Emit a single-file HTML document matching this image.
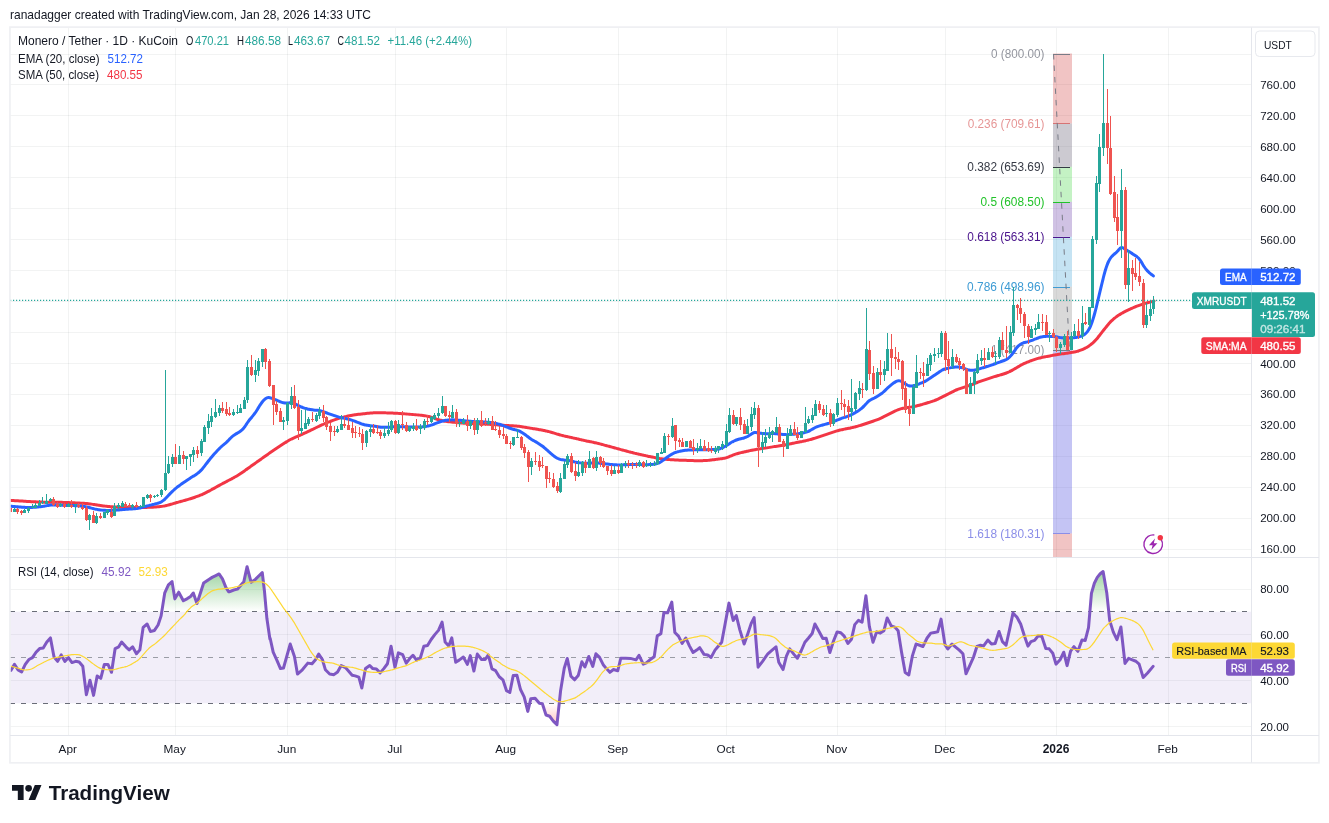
<!DOCTYPE html>
<html><head><meta charset="utf-8"><title>XMRUSDT chart</title>
<style>html,body{margin:0;padding:0;background:#fff;overflow:hidden}body{width:1329px;height:823px;position:relative;font-family:"Liberation Sans", sans-serif}</style></head>
<body>
<svg width="1329" height="823" viewBox="0 0 1329 823" style="position:absolute;left:0;top:0;will-change:transform;font-family:'Liberation Sans',sans-serif" font-family='Liberation Sans, sans-serif'>
<defs>
<clipPath id="cm"><rect x="10" y="27.5" width="1241.5" height="529.5"/></clipPath>
<clipPath id="cr"><rect x="10" y="558" width="1241.5" height="177.5"/></clipPath>
<clipPath id="cob"><rect x="10" y="558" width="1241.5" height="53.4"/></clipPath>
<clipPath id="cos"><rect x="10" y="703.6" width="1241.5" height="32"/></clipPath>
<linearGradient id="gg" gradientUnits="userSpaceOnUse" x1="0" y1="565" x2="0" y2="611.4"><stop offset="0" stop-color="#4caf50" stop-opacity="0.62"/><stop offset="1" stop-color="#4caf50" stop-opacity="0"/></linearGradient>
<linearGradient id="gr" gradientUnits="userSpaceOnUse" x1="0" y1="703.6" x2="0" y2="730"><stop offset="0" stop-color="#ff5252" stop-opacity="0"/><stop offset="1" stop-color="#ff5252" stop-opacity="0.45"/></linearGradient>
</defs>
<rect width="1329" height="823" fill="#fff"/>
<rect x="68" y="27.5" width="1" height="708" fill="#2a2e39" opacity="0.06"/>
<rect x="175" y="27.5" width="1" height="708" fill="#2a2e39" opacity="0.06"/>
<rect x="287" y="27.5" width="1" height="708" fill="#2a2e39" opacity="0.06"/>
<rect x="395" y="27.5" width="1" height="708" fill="#2a2e39" opacity="0.06"/>
<rect x="506" y="27.5" width="1" height="708" fill="#2a2e39" opacity="0.06"/>
<rect x="618" y="27.5" width="1" height="708" fill="#2a2e39" opacity="0.06"/>
<rect x="726" y="27.5" width="1" height="708" fill="#2a2e39" opacity="0.06"/>
<rect x="837" y="27.5" width="1" height="708" fill="#2a2e39" opacity="0.06"/>
<rect x="945" y="27.5" width="1" height="708" fill="#2a2e39" opacity="0.06"/>
<rect x="1056" y="27.5" width="1" height="708" fill="#2a2e39" opacity="0.06"/>
<rect x="1168" y="27.5" width="1" height="708" fill="#2a2e39" opacity="0.06"/>
<rect x="10" y="549" width="1241.5" height="1" fill="#2a2e39" opacity="0.06"/>
<rect x="10" y="518" width="1241.5" height="1" fill="#2a2e39" opacity="0.06"/>
<rect x="10" y="487" width="1241.5" height="1" fill="#2a2e39" opacity="0.06"/>
<rect x="10" y="456" width="1241.5" height="1" fill="#2a2e39" opacity="0.06"/>
<rect x="10" y="425" width="1241.5" height="1" fill="#2a2e39" opacity="0.06"/>
<rect x="10" y="394" width="1241.5" height="1" fill="#2a2e39" opacity="0.06"/>
<rect x="10" y="363" width="1241.5" height="1" fill="#2a2e39" opacity="0.06"/>
<rect x="10" y="332" width="1241.5" height="1" fill="#2a2e39" opacity="0.06"/>
<rect x="10" y="301" width="1241.5" height="1" fill="#2a2e39" opacity="0.06"/>
<rect x="10" y="270" width="1241.5" height="1" fill="#2a2e39" opacity="0.06"/>
<rect x="10" y="239" width="1241.5" height="1" fill="#2a2e39" opacity="0.06"/>
<rect x="10" y="208" width="1241.5" height="1" fill="#2a2e39" opacity="0.06"/>
<rect x="10" y="177" width="1241.5" height="1" fill="#2a2e39" opacity="0.06"/>
<rect x="10" y="146" width="1241.5" height="1" fill="#2a2e39" opacity="0.06"/>
<rect x="10" y="115" width="1241.5" height="1" fill="#2a2e39" opacity="0.06"/>
<rect x="10" y="84" width="1241.5" height="1" fill="#2a2e39" opacity="0.06"/>
<rect x="10" y="54" width="1241.5" height="1" fill="#2a2e39" opacity="0.06"/>
<rect x="10" y="726" width="1241.5" height="1" fill="#2a2e39" opacity="0.06"/>
<rect x="10" y="680" width="1241.5" height="1" fill="#2a2e39" opacity="0.06"/>
<rect x="10" y="634" width="1241.5" height="1" fill="#2a2e39" opacity="0.06"/>
<rect x="10" y="589" width="1241.5" height="1" fill="#2a2e39" opacity="0.06"/>
<g clip-path="url(#cm)">
<rect x="1053" y="53.51" width="19" height="70.01" fill="rgba(205,44,44,0.28)"/>
<rect x="1053" y="123.52" width="19" height="43.31" fill="rgba(120,115,135,0.38)"/>
<rect x="1053" y="166.83" width="19" height="35" fill="rgba(76,217,76,0.33)"/>
<rect x="1053" y="201.83" width="19" height="35" fill="rgba(126,87,180,0.36)"/>
<rect x="1053" y="236.83" width="19" height="49.84" fill="rgba(80,170,220,0.33)"/>
<rect x="1053" y="286.67" width="19" height="63.48" fill="rgba(150,150,150,0.36)"/>
<rect x="1053" y="350.14" width="19" height="183.32" fill="rgba(100,100,225,0.38)"/>
<rect x="1053" y="533.46" width="19" height="24.04" fill="rgba(205,44,44,0.28)"/>
</g>
<g clip-path="url(#cm)">
<rect x="1053" y="54" width="17" height="1" fill="#787b86" opacity="1"/>
<rect x="1053" y="123" width="17" height="1" fill="#cd2c2c" opacity="0.55"/>
<rect x="1053" y="167" width="17" height="1" fill="#363a45" opacity="1"/>
<rect x="1053" y="202" width="17" height="1" fill="#22c32a" opacity="1"/>
<rect x="1053" y="237" width="17" height="1" fill="#4a148c" opacity="1"/>
<rect x="1053" y="287" width="17" height="1" fill="#3d9bd4" opacity="1"/>
<rect x="1053" y="350" width="17" height="1" fill="#787b86" opacity="1"/>
<rect x="1053" y="533" width="17" height="1" fill="#8b8ee8" opacity="1"/>
<line x1="1053.5" y1="54" x2="1069.5" y2="350" stroke="#787b86" stroke-width="1" stroke-dasharray="5.5 6"/>
<text x="991.1" y="57.81" font-size="12" fill="#787b86" opacity="0.8" textLength="53.4" lengthAdjust="spacingAndGlyphs">0 (800.00)</text>
<text x="967.7" y="127.82" font-size="12" fill="#cd2c2c" opacity="0.5" textLength="76.8" lengthAdjust="spacingAndGlyphs">0.236 (709.61)</text>
<text x="967.3" y="171.13" font-size="12" fill="#363a45" opacity="1" textLength="77.2" lengthAdjust="spacingAndGlyphs">0.382 (653.69)</text>
<text x="980.5" y="206.13" font-size="12" fill="#22c32a" opacity="1" textLength="64" lengthAdjust="spacingAndGlyphs">0.5 (608.50)</text>
<text x="967.3" y="241.13" font-size="12" fill="#4a148c" opacity="1" textLength="77.2" lengthAdjust="spacingAndGlyphs">0.618 (563.31)</text>
<text x="967.1" y="290.97" font-size="12" fill="#3d9bd4" opacity="1" textLength="77.4" lengthAdjust="spacingAndGlyphs">0.786 (498.96)</text>
<text x="991.1" y="354.44" font-size="12" fill="#787b86" opacity="0.8" textLength="53.4" lengthAdjust="spacingAndGlyphs">1 (417.00)</text>
<text x="967.3" y="537.76" font-size="12" fill="#8b8ee8" opacity="1" textLength="77.2" lengthAdjust="spacingAndGlyphs">1.618 (180.31)</text>
<path d="M10.43,500.37C10.68,500.38 11.43,500.43 11.93,500.46C12.43,500.49 12.93,500.52 13.43,500.55C13.93,500.59 14.43,500.62 14.93,500.65C15.43,500.68 15.93,500.71 16.43,500.74C16.93,500.77 17.43,500.8 17.93,500.83C18.43,500.87 18.93,500.9 19.43,500.93C19.93,500.96 20.43,500.99 20.93,501.02C21.43,501.05 21.93,501.08 22.43,501.11C22.93,501.14 23.43,501.17 23.93,501.2C24.43,501.23 24.93,501.26 25.43,501.29C25.93,501.32 26.43,501.35 26.93,501.38C27.43,501.41 27.93,501.44 28.43,501.47C28.93,501.5 29.43,501.53 29.93,501.56C30.43,501.58 30.93,501.61 31.43,501.64C31.93,501.66 32.43,501.69 32.93,501.71C33.43,501.74 33.93,501.76 34.43,501.78C34.93,501.8 35.43,501.83 35.93,501.85C36.43,501.87 36.93,501.89 37.43,501.91C37.93,501.93 38.43,501.95 38.93,501.97C39.43,501.99 39.93,502.01 40.43,502.03C40.93,502.04 41.43,502.06 41.93,502.08C42.43,502.1 42.93,502.11 43.43,502.13C43.93,502.14 44.43,502.15 44.93,502.16C45.43,502.17 45.93,502.17 46.43,502.18C46.93,502.18 47.43,502.18 47.93,502.18C48.43,502.19 48.93,502.19 49.43,502.19C49.93,502.19 50.43,502.19 50.93,502.19C51.43,502.19 51.93,502.19 52.43,502.19C52.93,502.19 53.43,502.19 53.93,502.19C54.43,502.2 54.93,502.2 55.43,502.2C55.93,502.21 56.43,502.22 56.93,502.22C57.43,502.23 57.93,502.24 58.43,502.25C58.93,502.27 59.43,502.28 59.93,502.29C60.43,502.31 60.93,502.32 61.43,502.33C61.93,502.35 62.43,502.36 62.93,502.38C63.43,502.39 63.93,502.41 64.43,502.42C64.93,502.44 65.43,502.46 65.93,502.47C66.43,502.49 66.93,502.51 67.43,502.52C67.93,502.54 68.43,502.56 68.93,502.58C69.43,502.6 69.93,502.62 70.43,502.65C70.93,502.67 71.43,502.69 71.93,502.72C72.43,502.74 72.93,502.76 73.43,502.79C73.93,502.81 74.43,502.84 74.93,502.86C75.43,502.89 75.93,502.91 76.43,502.94C76.93,502.96 77.43,502.99 77.93,503.01C78.43,503.04 78.93,503.06 79.43,503.08C79.93,503.11 80.43,503.13 80.93,503.15C81.43,503.18 81.93,503.2 82.43,503.22C82.93,503.25 83.43,503.27 83.93,503.3C84.43,503.32 84.93,503.35 85.43,503.39C85.93,503.43 86.43,503.47 86.93,503.52C87.43,503.57 87.93,503.63 88.43,503.69C88.93,503.75 89.43,503.82 89.93,503.9C90.43,503.97 90.93,504.05 91.43,504.12C91.93,504.2 92.43,504.28 92.93,504.36C93.43,504.44 93.93,504.52 94.43,504.6C94.93,504.68 95.43,504.76 95.93,504.84C96.43,504.92 96.93,505 97.43,505.07C97.93,505.15 98.43,505.23 98.93,505.3C99.43,505.38 99.93,505.45 100.43,505.52C100.93,505.6 101.43,505.67 101.93,505.74C102.43,505.8 102.93,505.87 103.43,505.94C103.93,506 104.43,506.07 104.93,506.13C105.43,506.19 105.93,506.25 106.43,506.3C106.93,506.36 107.43,506.41 107.93,506.46C108.43,506.51 108.93,506.56 109.43,506.61C109.93,506.65 110.43,506.7 110.93,506.74C111.43,506.78 111.93,506.82 112.43,506.85C112.93,506.89 113.43,506.92 113.93,506.95C114.43,506.99 114.93,507.01 115.43,507.04C115.93,507.07 116.43,507.09 116.93,507.11C117.43,507.13 117.93,507.15 118.43,507.17C118.93,507.18 119.43,507.2 119.93,507.21C120.43,507.22 120.93,507.23 121.43,507.24C121.93,507.26 122.43,507.26 122.93,507.27C123.43,507.28 123.93,507.29 124.43,507.3C124.93,507.31 125.43,507.32 125.93,507.33C126.43,507.34 126.93,507.35 127.43,507.36C127.93,507.37 128.43,507.38 128.93,507.38C129.43,507.39 129.93,507.4 130.43,507.41C130.93,507.41 131.43,507.42 131.93,507.43C132.43,507.43 132.93,507.44 133.43,507.44C133.93,507.45 134.43,507.45 134.93,507.46C135.43,507.46 135.93,507.47 136.43,507.47C136.93,507.48 137.43,507.48 137.93,507.49C138.43,507.49 138.93,507.5 139.43,507.5C139.93,507.5 140.43,507.5 140.93,507.5C141.43,507.5 141.93,507.5 142.43,507.49C142.93,507.49 143.43,507.48 143.93,507.47C144.43,507.46 144.93,507.45 145.43,507.43C145.93,507.42 146.43,507.41 146.93,507.39C147.43,507.38 147.93,507.36 148.43,507.35C148.93,507.33 149.43,507.32 149.93,507.3C150.43,507.29 150.93,507.27 151.43,507.25C151.93,507.23 152.43,507.21 152.93,507.19C153.43,507.16 153.93,507.13 154.43,507.1C154.93,507.07 155.43,507.03 155.93,506.99C156.43,506.95 156.93,506.91 157.43,506.86C157.93,506.81 158.43,506.77 158.93,506.71C159.43,506.66 159.93,506.61 160.43,506.55C160.93,506.5 161.43,506.44 161.93,506.37C162.43,506.3 162.93,506.23 163.43,506.14C163.93,506.05 164.43,505.96 164.93,505.85C165.43,505.74 165.93,505.62 166.43,505.5C166.93,505.38 167.43,505.24 167.93,505.1C168.43,504.97 168.93,504.83 169.43,504.69C169.93,504.55 170.43,504.4 170.93,504.26C171.43,504.12 171.93,503.98 172.43,503.83C172.93,503.69 173.43,503.55 173.93,503.4C174.43,503.26 174.93,503.12 175.43,502.98C175.93,502.83 176.43,502.69 176.93,502.55C177.43,502.41 177.93,502.26 178.43,502.12C178.93,501.98 179.43,501.84 179.93,501.7C180.43,501.55 180.93,501.41 181.43,501.27C181.93,501.13 182.43,500.99 182.93,500.86C183.43,500.72 183.93,500.58 184.43,500.44C184.93,500.3 185.43,500.16 185.93,500.03C186.43,499.89 186.93,499.75 187.43,499.61C187.93,499.47 188.43,499.32 188.93,499.18C189.43,499.03 189.93,498.88 190.43,498.73C190.93,498.58 191.43,498.42 191.93,498.26C192.43,498.09 192.93,497.93 193.43,497.76C193.93,497.59 194.43,497.42 194.93,497.24C195.43,497.07 195.93,496.89 196.43,496.71C196.93,496.54 197.43,496.36 197.93,496.17C198.43,495.98 198.93,495.79 199.43,495.59C199.93,495.39 200.43,495.19 200.93,494.97C201.43,494.76 201.93,494.53 202.43,494.3C202.93,494.07 203.43,493.82 203.93,493.58C204.43,493.34 204.93,493.09 205.43,492.84C205.93,492.59 206.43,492.34 206.93,492.09C207.43,491.84 207.93,491.58 208.43,491.33C208.93,491.07 209.43,490.81 209.93,490.55C210.43,490.28 210.93,490.02 211.43,489.74C211.93,489.47 212.43,489.2 212.93,488.92C213.43,488.65 213.93,488.37 214.43,488.09C214.93,487.81 215.43,487.53 215.93,487.25C216.43,486.97 216.93,486.69 217.43,486.41C217.93,486.13 218.43,485.85 218.93,485.58C219.43,485.31 219.93,485.03 220.43,484.76C220.93,484.49 221.43,484.22 221.93,483.96C222.43,483.69 222.93,483.42 223.43,483.16C223.93,482.89 224.43,482.63 224.93,482.37C225.43,482.11 225.93,481.84 226.43,481.58C226.93,481.32 227.43,481.05 227.93,480.79C228.43,480.53 228.93,480.27 229.43,480C229.93,479.74 230.43,479.47 230.93,479.21C231.43,478.95 231.93,478.68 232.43,478.42C232.93,478.15 233.43,477.88 233.93,477.61C234.43,477.34 234.93,477.07 235.43,476.79C235.93,476.51 236.43,476.23 236.93,475.94C237.43,475.64 237.93,475.33 238.43,475.02C238.93,474.7 239.43,474.37 239.93,474.04C240.43,473.71 240.93,473.36 241.43,473.01C241.93,472.67 242.43,472.31 242.93,471.96C243.43,471.61 243.93,471.25 244.43,470.9C244.93,470.54 245.43,470.19 245.93,469.83C246.43,469.48 246.93,469.12 247.43,468.76C247.93,468.41 248.43,468.05 248.93,467.7C249.43,467.34 249.93,466.99 250.43,466.63C250.93,466.27 251.43,465.92 251.93,465.56C252.43,465.21 252.93,464.85 253.43,464.5C253.93,464.14 254.43,463.79 254.93,463.43C255.43,463.07 255.93,462.72 256.43,462.36C256.93,462.01 257.43,461.65 257.93,461.3C258.43,460.94 258.93,460.58 259.43,460.23C259.93,459.87 260.43,459.52 260.93,459.16C261.43,458.81 261.93,458.45 262.43,458.1C262.93,457.74 263.43,457.39 263.93,457.03C264.43,456.68 264.93,456.32 265.43,455.97C265.93,455.62 266.43,455.27 266.93,454.92C267.43,454.57 267.93,454.23 268.43,453.88C268.93,453.54 269.43,453.2 269.93,452.86C270.43,452.52 270.93,452.19 271.43,451.85C271.93,451.52 272.43,451.18 272.93,450.85C273.43,450.51 273.93,450.18 274.43,449.85C274.93,449.51 275.43,449.18 275.93,448.85C276.43,448.51 276.93,448.18 277.43,447.85C277.93,447.51 278.43,447.18 278.93,446.85C279.43,446.51 279.93,446.18 280.43,445.85C280.93,445.51 281.43,445.18 281.93,444.85C282.43,444.51 282.93,444.18 283.43,443.85C283.93,443.52 284.43,443.18 284.93,442.85C285.43,442.52 285.93,442.19 286.43,441.87C286.93,441.55 287.43,441.23 287.93,440.93C288.43,440.62 288.93,440.33 289.43,440.05C289.93,439.77 290.43,439.51 290.93,439.25C291.43,439 291.93,438.77 292.43,438.54C292.93,438.31 293.43,438.09 293.93,437.87C294.43,437.66 294.93,437.44 295.43,437.23C295.93,437.01 296.43,436.8 296.93,436.58C297.43,436.37 297.93,436.15 298.43,435.93C298.93,435.71 299.43,435.49 299.93,435.27C300.43,435.04 300.93,434.82 301.43,434.59C301.93,434.37 302.43,434.14 302.93,433.91C303.43,433.69 303.93,433.46 304.43,433.23C304.93,433 305.43,432.77 305.93,432.54C306.43,432.31 306.93,432.08 307.43,431.84C307.93,431.61 308.43,431.38 308.93,431.14C309.43,430.9 309.93,430.67 310.43,430.43C310.93,430.19 311.43,429.95 311.93,429.71C312.43,429.47 312.93,429.22 313.43,428.98C313.93,428.73 314.43,428.49 314.93,428.24C315.43,427.99 315.93,427.74 316.43,427.5C316.93,427.25 317.43,427.01 317.93,426.77C318.43,426.53 318.93,426.29 319.43,426.05C319.93,425.82 320.43,425.58 320.93,425.35C321.43,425.12 321.93,424.89 322.43,424.67C322.93,424.44 323.43,424.22 323.93,424C324.43,423.78 324.93,423.57 325.43,423.35C325.93,423.14 326.43,422.93 326.93,422.73C327.43,422.52 327.93,422.32 328.43,422.12C328.93,421.92 329.43,421.73 329.93,421.54C330.43,421.34 330.93,421.15 331.43,420.97C331.93,420.78 332.43,420.59 332.93,420.41C333.43,420.23 333.93,420.05 334.43,419.88C334.93,419.7 335.43,419.53 335.93,419.36C336.43,419.19 336.93,419.02 337.43,418.86C337.93,418.69 338.43,418.53 338.93,418.37C339.43,418.21 339.93,418.06 340.43,417.91C340.93,417.76 341.43,417.62 341.93,417.48C342.43,417.34 342.93,417.21 343.43,417.08C343.93,416.95 344.43,416.82 344.93,416.7C345.43,416.57 345.93,416.45 346.43,416.34C346.93,416.22 347.43,416.11 347.93,416C348.43,415.9 348.93,415.8 349.43,415.7C349.93,415.61 350.43,415.52 350.93,415.43C351.43,415.34 351.93,415.25 352.43,415.17C352.93,415.09 353.43,415.01 353.93,414.93C354.43,414.86 354.93,414.78 355.43,414.71C355.93,414.64 356.43,414.57 356.93,414.51C357.43,414.44 357.93,414.38 358.43,414.32C358.93,414.26 359.43,414.2 359.93,414.14C360.43,414.08 360.93,414.02 361.43,413.97C361.93,413.91 362.43,413.86 362.93,413.8C363.43,413.75 363.93,413.7 364.43,413.65C364.93,413.59 365.43,413.54 365.93,413.49C366.43,413.44 366.93,413.39 367.43,413.35C367.93,413.3 368.43,413.25 368.93,413.21C369.43,413.16 369.93,413.12 370.43,413.08C370.93,413.04 371.43,413 371.93,412.96C372.43,412.93 372.93,412.89 373.43,412.86C373.93,412.83 374.43,412.8 374.93,412.78C375.43,412.75 375.93,412.73 376.43,412.71C376.93,412.7 377.43,412.69 377.93,412.69C378.43,412.68 378.93,412.68 379.43,412.69C379.93,412.69 380.43,412.71 380.93,412.72C381.43,412.73 381.93,412.74 382.43,412.76C382.93,412.77 383.43,412.79 383.93,412.8C384.43,412.82 384.93,412.84 385.43,412.85C385.93,412.87 386.43,412.88 386.93,412.9C387.43,412.92 387.93,412.93 388.43,412.95C388.93,412.96 389.43,412.98 389.93,413C390.43,413.02 390.93,413.03 391.43,413.05C391.93,413.07 392.43,413.09 392.93,413.11C393.43,413.13 393.93,413.16 394.43,413.18C394.93,413.2 395.43,413.23 395.93,413.25C396.43,413.28 396.93,413.3 397.43,413.33C397.93,413.36 398.43,413.39 398.93,413.42C399.43,413.45 399.93,413.48 400.43,413.52C400.93,413.55 401.43,413.59 401.93,413.63C402.43,413.66 402.93,413.7 403.43,413.74C403.93,413.78 404.43,413.83 404.93,413.87C405.43,413.91 405.93,413.95 406.43,413.99C406.93,414.03 407.43,414.07 407.93,414.12C408.43,414.16 408.93,414.2 409.43,414.24C409.93,414.28 410.43,414.32 410.93,414.37C411.43,414.41 411.93,414.45 412.43,414.49C412.93,414.53 413.43,414.57 413.93,414.62C414.43,414.66 414.93,414.7 415.43,414.74C415.93,414.78 416.43,414.82 416.93,414.87C417.43,414.91 417.93,414.95 418.43,415C418.93,415.04 419.43,415.08 419.93,415.13C420.43,415.18 420.93,415.23 421.43,415.28C421.93,415.33 422.43,415.39 422.93,415.45C423.43,415.51 423.93,415.57 424.43,415.65C424.93,415.72 425.43,415.8 425.93,415.88C426.43,415.97 426.93,416.07 427.43,416.18C427.93,416.28 428.43,416.4 428.93,416.53C429.43,416.65 429.93,416.79 430.43,416.94C430.93,417.09 431.43,417.26 431.93,417.43C432.43,417.6 432.93,417.78 433.43,417.96C433.93,418.15 434.43,418.34 434.93,418.52C435.43,418.7 435.93,418.88 436.43,419.05C436.93,419.22 437.43,419.38 437.93,419.53C438.43,419.68 438.93,419.82 439.43,419.96C439.93,420.09 440.43,420.21 440.93,420.33C441.43,420.44 441.93,420.55 442.43,420.65C442.93,420.75 443.43,420.84 443.93,420.93C444.43,421.02 444.93,421.11 445.43,421.19C445.93,421.27 446.43,421.35 446.93,421.43C447.43,421.51 447.93,421.58 448.43,421.65C448.93,421.72 449.43,421.79 449.93,421.86C450.43,421.92 450.93,421.98 451.43,422.04C451.93,422.1 452.43,422.16 452.93,422.22C453.43,422.28 453.93,422.33 454.43,422.38C454.93,422.44 455.43,422.49 455.93,422.54C456.43,422.59 456.93,422.64 457.43,422.68C457.93,422.73 458.43,422.77 458.93,422.81C459.43,422.85 459.93,422.9 460.43,422.93C460.93,422.97 461.43,423.01 461.93,423.04C462.43,423.07 462.93,423.11 463.43,423.13C463.93,423.16 464.43,423.19 464.93,423.21C465.43,423.23 465.93,423.25 466.43,423.27C466.93,423.29 467.43,423.31 467.93,423.33C468.43,423.35 468.93,423.36 469.43,423.38C469.93,423.4 470.43,423.42 470.93,423.45C471.43,423.47 471.93,423.49 472.43,423.51C472.93,423.54 473.43,423.56 473.93,423.58C474.43,423.61 474.93,423.63 475.43,423.66C475.93,423.68 476.43,423.7 476.93,423.72C477.43,423.74 477.93,423.76 478.43,423.78C478.93,423.8 479.43,423.82 479.93,423.84C480.43,423.86 480.93,423.88 481.43,423.9C481.93,423.92 482.43,423.94 482.93,423.96C483.43,423.98 483.93,424 484.43,424.02C484.93,424.05 485.43,424.08 485.93,424.1C486.43,424.13 486.93,424.16 487.43,424.2C487.93,424.23 488.43,424.26 488.93,424.3C489.43,424.33 489.93,424.37 490.43,424.4C490.93,424.43 491.43,424.47 491.93,424.5C492.43,424.54 492.93,424.57 493.43,424.61C493.93,424.64 494.43,424.68 494.93,424.72C495.43,424.75 495.93,424.79 496.43,424.82C496.93,424.86 497.43,424.89 497.93,424.93C498.43,424.96 498.93,425 499.43,425.03C499.93,425.07 500.43,425.1 500.93,425.14C501.43,425.17 501.93,425.21 502.43,425.24C502.93,425.27 503.43,425.31 503.93,425.34C504.43,425.37 504.93,425.41 505.43,425.44C505.93,425.47 506.43,425.5 506.93,425.53C507.43,425.56 507.93,425.59 508.43,425.61C508.93,425.64 509.43,425.67 509.93,425.69C510.43,425.72 510.93,425.74 511.43,425.77C511.93,425.79 512.43,425.82 512.93,425.84C513.43,425.87 513.93,425.9 514.43,425.93C514.93,425.95 515.43,425.98 515.93,426.02C516.43,426.06 516.93,426.09 517.43,426.14C517.93,426.19 518.43,426.24 518.93,426.3C519.43,426.36 519.93,426.43 520.43,426.5C520.93,426.57 521.43,426.65 521.93,426.73C522.43,426.81 522.93,426.89 523.43,426.98C523.93,427.06 524.43,427.15 524.93,427.23C525.43,427.32 525.93,427.4 526.43,427.48C526.93,427.57 527.43,427.65 527.93,427.74C528.43,427.82 528.93,427.91 529.43,427.99C529.93,428.07 530.43,428.16 530.93,428.24C531.43,428.32 531.93,428.4 532.43,428.48C532.93,428.56 533.43,428.64 533.93,428.73C534.43,428.81 534.93,428.89 535.43,428.97C535.93,429.05 536.43,429.13 536.93,429.21C537.43,429.29 537.93,429.37 538.43,429.45C538.93,429.53 539.43,429.61 539.93,429.7C540.43,429.79 540.93,429.87 541.43,429.97C541.93,430.06 542.43,430.16 542.93,430.26C543.43,430.36 543.93,430.47 544.43,430.58C544.93,430.69 545.43,430.81 545.93,430.93C546.43,431.05 546.93,431.17 547.43,431.29C547.93,431.41 548.43,431.54 548.93,431.66C549.43,431.79 549.93,431.92 550.43,432.06C550.93,432.19 551.43,432.33 551.93,432.47C552.43,432.62 552.93,432.77 553.43,432.91C553.93,433.06 554.43,433.22 554.93,433.37C555.43,433.52 555.93,433.68 556.43,433.83C556.93,433.99 557.43,434.14 557.93,434.29C558.43,434.44 558.93,434.59 559.43,434.73C559.93,434.88 560.43,435.02 560.93,435.15C561.43,435.28 561.93,435.41 562.43,435.53C562.93,435.65 563.43,435.77 563.93,435.88C564.43,436 564.93,436.11 565.43,436.22C565.93,436.33 566.43,436.44 566.93,436.56C567.43,436.67 567.93,436.78 568.43,436.89C568.93,437 569.43,437.11 569.93,437.22C570.43,437.33 570.93,437.44 571.43,437.55C571.93,437.66 572.43,437.77 572.93,437.88C573.43,438 573.93,438.11 574.43,438.22C574.93,438.34 575.43,438.45 575.93,438.57C576.43,438.68 576.93,438.8 577.43,438.91C577.93,439.02 578.43,439.14 578.93,439.25C579.43,439.37 579.93,439.48 580.43,439.6C580.93,439.71 581.43,439.83 581.93,439.94C582.43,440.05 582.93,440.17 583.43,440.28C583.93,440.39 584.43,440.5 584.93,440.61C585.43,440.72 585.93,440.82 586.43,440.93C586.93,441.03 587.43,441.13 587.93,441.24C588.43,441.34 588.93,441.44 589.43,441.54C589.93,441.64 590.43,441.74 590.93,441.84C591.43,441.94 591.93,442.04 592.43,442.14C592.93,442.24 593.43,442.35 593.93,442.45C594.43,442.55 594.93,442.66 595.43,442.77C595.93,442.87 596.43,442.99 596.93,443.1C597.43,443.22 597.93,443.34 598.43,443.46C598.93,443.59 599.43,443.72 599.93,443.85C600.43,443.98 600.93,444.11 601.43,444.25C601.93,444.38 602.43,444.52 602.93,444.66C603.43,444.79 603.93,444.93 604.43,445.07C604.93,445.2 605.43,445.34 605.93,445.48C606.43,445.61 606.93,445.75 607.43,445.89C607.93,446.02 608.43,446.16 608.93,446.3C609.43,446.44 609.93,446.57 610.43,446.71C610.93,446.85 611.43,446.98 611.93,447.12C612.43,447.26 612.93,447.39 613.43,447.53C613.93,447.67 614.43,447.8 614.93,447.94C615.43,448.08 615.93,448.21 616.43,448.35C616.93,448.49 617.43,448.63 617.93,448.76C618.43,448.9 618.93,449.04 619.43,449.18C619.93,449.31 620.43,449.45 620.93,449.59C621.43,449.72 621.93,449.86 622.43,450C622.93,450.14 623.43,450.27 623.93,450.41C624.43,450.55 624.93,450.68 625.43,450.82C625.93,450.95 626.43,451.08 626.93,451.22C627.43,451.35 627.93,451.48 628.43,451.61C628.93,451.73 629.43,451.86 629.93,451.99C630.43,452.12 630.93,452.24 631.43,452.37C631.93,452.49 632.43,452.62 632.93,452.74C633.43,452.87 633.93,452.99 634.43,453.11C634.93,453.24 635.43,453.36 635.93,453.48C636.43,453.6 636.93,453.72 637.43,453.84C637.93,453.95 638.43,454.07 638.93,454.18C639.43,454.3 639.93,454.41 640.43,454.53C640.93,454.64 641.43,454.75 641.93,454.87C642.43,454.98 642.93,455.09 643.43,455.2C643.93,455.31 644.43,455.42 644.93,455.53C645.43,455.64 645.93,455.75 646.43,455.86C646.93,455.96 647.43,456.07 647.93,456.17C648.43,456.28 648.93,456.38 649.43,456.48C649.93,456.58 650.43,456.68 650.93,456.78C651.43,456.89 651.93,456.99 652.43,457.09C652.93,457.19 653.43,457.3 653.93,457.4C654.43,457.5 654.93,457.61 655.43,457.71C655.93,457.82 656.43,457.93 656.93,458.03C657.43,458.13 657.93,458.24 658.43,458.34C658.93,458.43 659.43,458.53 659.93,458.62C660.43,458.7 660.93,458.79 661.43,458.86C661.93,458.93 662.43,458.99 662.93,459.05C663.43,459.11 663.93,459.16 664.43,459.21C664.93,459.26 665.43,459.3 665.93,459.34C666.43,459.38 666.93,459.42 667.43,459.46C667.93,459.5 668.43,459.54 668.93,459.57C669.43,459.61 669.93,459.64 670.43,459.68C670.93,459.71 671.43,459.74 671.93,459.77C672.43,459.81 672.93,459.84 673.43,459.87C673.93,459.9 674.43,459.93 674.93,459.96C675.43,459.99 675.93,460.02 676.43,460.04C676.93,460.07 677.43,460.1 677.93,460.12C678.43,460.14 678.93,460.16 679.43,460.18C679.93,460.2 680.43,460.21 680.93,460.23C681.43,460.24 681.93,460.26 682.43,460.27C682.93,460.28 683.43,460.3 683.93,460.31C684.43,460.32 684.93,460.34 685.43,460.35C685.93,460.36 686.43,460.38 686.93,460.39C687.43,460.41 687.93,460.42 688.43,460.44C688.93,460.45 689.43,460.47 689.93,460.49C690.43,460.51 690.93,460.52 691.43,460.54C691.93,460.56 692.43,460.58 692.93,460.6C693.43,460.61 693.93,460.63 694.43,460.65C694.93,460.66 695.43,460.68 695.93,460.69C696.43,460.7 696.93,460.71 697.43,460.71C697.93,460.71 698.43,460.71 698.93,460.71C699.43,460.71 699.93,460.7 700.43,460.69C700.93,460.68 701.43,460.67 701.93,460.66C702.43,460.65 702.93,460.63 703.43,460.62C703.93,460.6 704.43,460.59 704.93,460.56C705.43,460.54 705.93,460.52 706.43,460.49C706.93,460.45 707.43,460.42 707.93,460.37C708.43,460.33 708.93,460.28 709.43,460.22C709.93,460.17 710.43,460.11 710.93,460.05C711.43,459.99 711.93,459.92 712.43,459.86C712.93,459.8 713.43,459.73 713.93,459.67C714.43,459.6 714.93,459.53 715.43,459.47C715.93,459.4 716.43,459.34 716.93,459.27C717.43,459.21 717.93,459.14 718.43,459.08C718.93,459.01 719.43,458.95 719.93,458.88C720.43,458.81 720.93,458.75 721.43,458.68C721.93,458.61 722.43,458.54 722.93,458.46C723.43,458.37 723.93,458.29 724.43,458.18C724.93,458.08 725.43,457.96 725.93,457.82C726.43,457.69 726.93,457.53 727.43,457.35C727.93,457.18 728.43,456.99 728.93,456.79C729.43,456.59 729.93,456.38 730.43,456.17C730.93,455.96 731.43,455.75 731.93,455.54C732.43,455.34 732.93,455.14 733.43,454.96C733.93,454.77 734.43,454.59 734.93,454.42C735.43,454.25 735.93,454.09 736.43,453.93C736.93,453.77 737.43,453.62 737.93,453.47C738.43,453.33 738.93,453.19 739.43,453.05C739.93,452.91 740.43,452.78 740.93,452.66C741.43,452.53 741.93,452.42 742.43,452.3C742.93,452.19 743.43,452.08 743.93,451.98C744.43,451.87 744.93,451.77 745.43,451.66C745.93,451.55 746.43,451.45 746.93,451.34C747.43,451.23 747.93,451.11 748.43,451C748.93,450.88 749.43,450.76 749.93,450.64C750.43,450.52 750.93,450.4 751.43,450.29C751.93,450.17 752.43,450.05 752.93,449.95C753.43,449.84 753.93,449.74 754.43,449.65C754.93,449.56 755.43,449.48 755.93,449.4C756.43,449.32 756.93,449.26 757.43,449.19C757.93,449.12 758.43,449.06 758.93,448.99C759.43,448.93 759.93,448.87 760.43,448.8C760.93,448.73 761.43,448.66 761.93,448.59C762.43,448.51 762.93,448.44 763.43,448.36C763.93,448.28 764.43,448.2 764.93,448.12C765.43,448.04 765.93,447.96 766.43,447.88C766.93,447.79 767.43,447.71 767.93,447.63C768.43,447.54 768.93,447.46 769.43,447.38C769.93,447.29 770.43,447.21 770.93,447.13C771.43,447.04 771.93,446.96 772.43,446.88C772.93,446.8 773.43,446.72 773.93,446.64C774.43,446.56 774.93,446.48 775.43,446.4C775.93,446.32 776.43,446.25 776.93,446.18C777.43,446.1 777.93,446.03 778.43,445.96C778.93,445.89 779.43,445.82 779.93,445.75C780.43,445.68 780.93,445.61 781.43,445.53C781.93,445.45 782.43,445.37 782.93,445.29C783.43,445.2 783.93,445.11 784.43,445.02C784.93,444.92 785.43,444.82 785.93,444.72C786.43,444.62 786.93,444.52 787.43,444.41C787.93,444.31 788.43,444.2 788.93,444.09C789.43,443.99 789.93,443.88 790.43,443.78C790.93,443.67 791.43,443.57 791.93,443.47C792.43,443.37 792.93,443.26 793.43,443.16C793.93,443.06 794.43,442.96 794.93,442.86C795.43,442.76 795.93,442.66 796.43,442.56C796.93,442.46 797.43,442.36 797.93,442.26C798.43,442.16 798.93,442.06 799.43,441.96C799.93,441.86 800.43,441.76 800.93,441.66C801.43,441.56 801.93,441.46 802.43,441.35C802.93,441.25 803.43,441.14 803.93,441.04C804.43,440.93 804.93,440.82 805.43,440.7C805.93,440.59 806.43,440.47 806.93,440.35C807.43,440.23 807.93,440.11 808.43,439.99C808.93,439.86 809.43,439.74 809.93,439.6C810.43,439.47 810.93,439.34 811.43,439.2C811.93,439.06 812.43,438.92 812.93,438.77C813.43,438.62 813.93,438.46 814.43,438.31C814.93,438.15 815.43,437.99 815.93,437.83C816.43,437.66 816.93,437.5 817.43,437.33C817.93,437.16 818.43,437 818.93,436.83C819.43,436.66 819.93,436.49 820.43,436.33C820.93,436.16 821.43,435.99 821.93,435.82C822.43,435.65 822.93,435.48 823.43,435.32C823.93,435.15 824.43,434.98 824.93,434.81C825.43,434.64 825.93,434.47 826.43,434.31C826.93,434.14 827.43,433.97 827.93,433.81C828.43,433.64 828.93,433.48 829.43,433.32C829.93,433.16 830.43,432.99 830.93,432.83C831.43,432.67 831.93,432.51 832.43,432.35C832.93,432.19 833.43,432.03 833.93,431.87C834.43,431.71 834.93,431.55 835.43,431.39C835.93,431.23 836.43,431.08 836.93,430.92C837.43,430.77 837.93,430.62 838.43,430.48C838.93,430.34 839.43,430.2 839.93,430.08C840.43,429.95 840.93,429.84 841.43,429.72C841.93,429.61 842.43,429.51 842.93,429.41C843.43,429.31 843.93,429.21 844.43,429.12C844.93,429.02 845.43,428.93 845.93,428.83C846.43,428.74 846.93,428.64 847.43,428.54C847.93,428.44 848.43,428.34 848.93,428.24C849.43,428.14 849.93,428.04 850.43,427.93C850.93,427.83 851.43,427.72 851.93,427.62C852.43,427.51 852.93,427.4 853.43,427.29C853.93,427.17 854.43,427.06 854.93,426.94C855.43,426.82 855.93,426.69 856.43,426.56C856.93,426.43 857.43,426.29 857.93,426.14C858.43,426 858.93,425.84 859.43,425.68C859.93,425.53 860.43,425.36 860.93,425.2C861.43,425.04 861.93,424.87 862.43,424.71C862.93,424.54 863.43,424.38 863.93,424.21C864.43,424.04 864.93,423.88 865.43,423.71C865.93,423.54 866.43,423.38 866.93,423.21C867.43,423.04 867.93,422.88 868.43,422.71C868.93,422.54 869.43,422.38 869.93,422.21C870.43,422.04 870.93,421.88 871.43,421.71C871.93,421.54 872.43,421.38 872.93,421.21C873.43,421.04 873.93,420.87 874.43,420.7C874.93,420.53 875.43,420.36 875.93,420.18C876.43,420 876.93,419.82 877.43,419.63C877.93,419.44 878.43,419.24 878.93,419.03C879.43,418.82 879.93,418.59 880.43,418.37C880.93,418.14 881.43,417.9 881.93,417.66C882.43,417.42 882.93,417.17 883.43,416.92C883.93,416.67 884.43,416.42 884.93,416.18C885.43,415.93 885.93,415.68 886.43,415.43C886.93,415.18 887.43,414.93 887.93,414.68C888.43,414.43 888.93,414.18 889.43,413.93C889.93,413.68 890.43,413.43 890.93,413.18C891.43,412.93 891.93,412.68 892.43,412.43C892.93,412.18 893.43,411.93 893.93,411.68C894.43,411.43 894.93,411.18 895.43,410.95C895.93,410.71 896.43,410.47 896.93,410.24C897.43,410.02 897.93,409.8 898.43,409.61C898.93,409.41 899.43,409.23 899.93,409.07C900.43,408.91 900.93,408.77 901.43,408.63C901.93,408.5 902.43,408.39 902.93,408.29C903.43,408.18 903.93,408.08 904.43,408C904.93,407.91 905.43,407.82 905.93,407.75C906.43,407.67 906.93,407.6 907.43,407.53C907.93,407.46 908.43,407.4 908.93,407.33C909.43,407.26 909.93,407.2 910.43,407.12C910.93,407.05 911.43,406.98 911.93,406.89C912.43,406.81 912.93,406.72 913.43,406.62C913.93,406.52 914.43,406.41 914.93,406.3C915.43,406.19 915.93,406.07 916.43,405.95C916.93,405.83 917.43,405.7 917.93,405.57C918.43,405.44 918.93,405.31 919.43,405.18C919.93,405.04 920.43,404.9 920.93,404.76C921.43,404.62 921.93,404.48 922.43,404.33C922.93,404.19 923.43,404.04 923.93,403.89C924.43,403.74 924.93,403.59 925.43,403.44C925.93,403.29 926.43,403.14 926.93,402.99C927.43,402.84 927.93,402.69 928.43,402.54C928.93,402.39 929.43,402.24 929.93,402.08C930.43,401.93 930.93,401.77 931.43,401.61C931.93,401.45 932.43,401.29 932.93,401.12C933.43,400.94 933.93,400.77 934.43,400.58C934.93,400.39 935.43,400.2 935.93,400C936.43,399.79 936.93,399.58 937.43,399.36C937.93,399.14 938.43,398.91 938.93,398.68C939.43,398.44 939.93,398.2 940.43,397.95C940.93,397.7 941.43,397.45 941.93,397.2C942.43,396.94 942.93,396.68 943.43,396.43C943.93,396.17 944.43,395.91 944.93,395.65C945.43,395.4 945.93,395.14 946.43,394.88C946.93,394.62 947.43,394.36 947.93,394.1C948.43,393.84 948.93,393.59 949.43,393.33C949.93,393.07 950.43,392.81 950.93,392.56C951.43,392.3 951.93,392.04 952.43,391.79C952.93,391.54 953.43,391.3 953.93,391.06C954.43,390.82 954.93,390.59 955.43,390.37C955.93,390.15 956.43,389.95 956.93,389.75C957.43,389.55 957.93,389.37 958.43,389.19C958.93,389 959.43,388.83 959.93,388.66C960.43,388.49 960.93,388.33 961.43,388.16C961.93,387.99 962.43,387.83 962.93,387.66C963.43,387.5 963.93,387.33 964.43,387.17C964.93,387 965.43,386.84 965.93,386.67C966.43,386.5 966.93,386.34 967.43,386.17C967.93,386 968.43,385.83 968.93,385.66C969.43,385.49 969.93,385.31 970.43,385.13C970.93,384.95 971.43,384.77 971.93,384.58C972.43,384.39 972.93,384.2 973.43,384C973.93,383.81 974.43,383.6 974.93,383.4C975.43,383.2 975.93,383 976.43,382.8C976.93,382.6 977.43,382.4 977.93,382.2C978.43,382.01 978.93,381.82 979.43,381.63C979.93,381.45 980.43,381.27 980.93,381.09C981.43,380.92 981.93,380.74 982.43,380.57C982.93,380.4 983.43,380.24 983.93,380.07C984.43,379.9 984.93,379.73 985.43,379.57C985.93,379.4 986.43,379.23 986.93,379.07C987.43,378.9 987.93,378.73 988.43,378.57C988.93,378.4 989.43,378.23 989.93,378.07C990.43,377.91 990.93,377.74 991.43,377.58C991.93,377.42 992.43,377.26 992.93,377.1C993.43,376.94 993.93,376.79 994.43,376.64C994.93,376.49 995.43,376.34 995.93,376.19C996.43,376.05 996.93,375.9 997.43,375.76C997.93,375.62 998.43,375.47 998.93,375.33C999.43,375.18 999.93,375.04 1000.43,374.89C1000.93,374.75 1001.43,374.6 1001.93,374.45C1002.43,374.31 1002.93,374.16 1003.43,374C1003.93,373.85 1004.43,373.7 1004.93,373.53C1005.43,373.37 1005.93,373.2 1006.43,373.01C1006.93,372.83 1007.43,372.63 1007.93,372.42C1008.43,372.2 1008.93,371.97 1009.43,371.72C1009.93,371.47 1010.43,371.21 1010.93,370.93C1011.43,370.66 1011.93,370.38 1012.43,370.09C1012.93,369.81 1013.43,369.52 1013.93,369.23C1014.43,368.94 1014.93,368.65 1015.43,368.36C1015.93,368.07 1016.43,367.77 1016.93,367.48C1017.43,367.19 1017.93,366.9 1018.43,366.61C1018.93,366.33 1019.43,366.04 1019.93,365.76C1020.43,365.48 1020.93,365.2 1021.43,364.94C1021.93,364.67 1022.43,364.41 1022.93,364.16C1023.43,363.92 1023.93,363.68 1024.43,363.45C1024.93,363.22 1025.43,363 1025.93,362.79C1026.43,362.57 1026.93,362.36 1027.43,362.15C1027.93,361.95 1028.43,361.74 1028.93,361.54C1029.43,361.34 1029.93,361.14 1030.43,360.95C1030.93,360.76 1031.43,360.56 1031.93,360.38C1032.43,360.19 1032.93,360 1033.43,359.83C1033.93,359.65 1034.43,359.47 1034.93,359.3C1035.43,359.13 1035.93,358.97 1036.43,358.82C1036.93,358.66 1037.43,358.52 1037.93,358.39C1038.43,358.25 1038.93,358.13 1039.43,358.02C1039.93,357.9 1040.43,357.79 1040.93,357.69C1041.43,357.58 1041.93,357.48 1042.43,357.38C1042.93,357.28 1043.43,357.18 1043.93,357.08C1044.43,356.98 1044.93,356.88 1045.43,356.78C1045.93,356.68 1046.43,356.59 1046.93,356.49C1047.43,356.39 1047.93,356.29 1048.43,356.19C1048.93,356.09 1049.43,355.99 1049.93,355.9C1050.43,355.8 1050.93,355.7 1051.43,355.6C1051.93,355.5 1052.43,355.4 1052.93,355.31C1053.43,355.21 1053.93,355.11 1054.43,355.02C1054.93,354.92 1055.43,354.83 1055.93,354.74C1056.43,354.65 1056.93,354.57 1057.43,354.49C1057.93,354.41 1058.43,354.33 1058.93,354.26C1059.43,354.19 1059.93,354.12 1060.43,354.05C1060.93,353.98 1061.43,353.92 1061.93,353.86C1062.43,353.79 1062.93,353.73 1063.43,353.66C1063.93,353.6 1064.43,353.54 1064.93,353.47C1065.43,353.4 1065.93,353.34 1066.43,353.27C1066.93,353.2 1067.43,353.12 1067.93,353.05C1068.43,352.98 1068.93,352.9 1069.43,352.82C1069.93,352.74 1070.43,352.66 1070.93,352.58C1071.43,352.5 1071.93,352.42 1072.43,352.34C1072.93,352.25 1073.43,352.17 1073.93,352.07C1074.43,351.98 1074.93,351.88 1075.43,351.77C1075.93,351.66 1076.43,351.54 1076.93,351.41C1077.43,351.27 1077.93,351.13 1078.43,350.97C1078.93,350.81 1079.43,350.64 1079.93,350.46C1080.43,350.29 1080.93,350.1 1081.43,349.9C1081.93,349.71 1082.43,349.5 1082.93,349.28C1083.43,349.06 1083.93,348.83 1084.43,348.58C1084.93,348.33 1085.43,348.07 1085.93,347.79C1086.43,347.51 1086.93,347.22 1087.43,346.91C1087.93,346.6 1088.43,346.28 1088.93,345.94C1089.43,345.6 1089.93,345.24 1090.43,344.85C1090.93,344.47 1091.43,344.07 1091.93,343.65C1092.43,343.23 1092.93,342.79 1093.43,342.32C1093.93,341.86 1094.43,341.37 1094.93,340.86C1095.43,340.34 1095.93,339.8 1096.43,339.23C1096.93,338.66 1097.43,338.06 1097.93,337.44C1098.43,336.82 1098.93,336.17 1099.43,335.53C1099.93,334.89 1100.43,334.22 1100.93,333.57C1101.43,332.93 1101.93,332.28 1102.43,331.63C1102.93,330.99 1103.43,330.35 1103.93,329.72C1104.43,329.09 1104.93,328.46 1105.43,327.84C1105.93,327.21 1106.43,326.59 1106.93,325.98C1107.43,325.37 1107.93,324.76 1108.43,324.18C1108.93,323.59 1109.43,323.02 1109.93,322.47C1110.43,321.93 1110.93,321.41 1111.43,320.92C1111.93,320.42 1112.43,319.96 1112.93,319.52C1113.43,319.08 1113.93,318.66 1114.43,318.26C1114.93,317.85 1115.43,317.47 1115.93,317.1C1116.43,316.73 1116.93,316.37 1117.43,316.03C1117.93,315.68 1118.43,315.36 1118.93,315.04C1119.43,314.72 1119.93,314.41 1120.43,314.11C1120.93,313.81 1121.43,313.51 1121.93,313.23C1122.43,312.94 1122.93,312.66 1123.43,312.39C1123.93,312.12 1124.43,311.85 1124.93,311.59C1125.43,311.33 1125.93,311.08 1126.43,310.82C1126.93,310.57 1127.43,310.32 1127.93,310.08C1128.43,309.84 1128.93,309.6 1129.43,309.36C1129.93,309.13 1130.43,308.9 1130.93,308.67C1131.43,308.45 1131.93,308.23 1132.43,308.01C1132.93,307.79 1133.43,307.58 1133.93,307.37C1134.43,307.17 1134.93,306.96 1135.43,306.76C1135.93,306.56 1136.43,306.36 1136.93,306.17C1137.43,305.98 1137.93,305.79 1138.43,305.61C1138.93,305.43 1139.43,305.25 1139.93,305.08C1140.43,304.9 1140.93,304.73 1141.43,304.57C1141.93,304.4 1142.43,304.24 1142.93,304.08C1143.43,303.92 1143.93,303.76 1144.43,303.61C1144.93,303.46 1145.43,303.32 1145.93,303.17C1146.43,303.03 1146.93,302.89 1147.43,302.76C1147.93,302.62 1148.43,302.49 1148.93,302.35C1149.43,302.22 1149.93,302.09 1150.43,301.97C1150.93,301.84 1151.43,301.72 1151.93,301.6C1152.43,301.49 1153.08,301.38 1153.43,301.27C1153.77,301.17 1153.9,301.02 1154,300.97" fill="none" stroke="#f23645" stroke-width="3" stroke-linejoin="round" stroke-linecap="round"/>
<path d="M10.43,506.2C10.68,506.22 11.43,506.28 11.93,506.33C12.43,506.37 12.93,506.42 13.43,506.46C13.93,506.5 14.43,506.55 14.93,506.59C15.43,506.63 15.93,506.68 16.43,506.72C16.93,506.77 17.43,506.81 17.93,506.85C18.43,506.89 18.93,506.94 19.43,506.98C19.93,507.02 20.43,507.06 20.93,507.1C21.43,507.14 21.93,507.17 22.43,507.21C22.93,507.25 23.43,507.28 23.93,507.32C24.43,507.35 24.93,507.39 25.43,507.42C25.93,507.46 26.43,507.49 26.93,507.52C27.43,507.54 27.93,507.56 28.43,507.57C28.93,507.57 29.43,507.56 29.93,507.54C30.43,507.53 30.93,507.49 31.43,507.47C31.93,507.44 32.43,507.4 32.93,507.37C33.43,507.33 33.93,507.3 34.43,507.26C34.93,507.23 35.43,507.19 35.93,507.14C36.43,507.1 36.93,507.04 37.43,506.99C37.93,506.94 38.43,506.88 38.93,506.83C39.43,506.77 39.93,506.71 40.43,506.65C40.93,506.6 41.43,506.54 41.93,506.48C42.43,506.42 42.93,506.36 43.43,506.29C43.93,506.22 44.43,506.14 44.93,506.06C45.43,505.98 45.93,505.88 46.43,505.79C46.93,505.7 47.43,505.6 47.93,505.51C48.43,505.42 48.93,505.32 49.43,505.25C49.93,505.18 50.43,505.12 50.93,505.07C51.43,505.03 51.93,505.02 52.43,505C52.93,504.99 53.43,504.99 53.93,504.99C54.43,504.99 54.93,504.99 55.43,505C55.93,505 56.43,505.01 56.93,505.03C57.43,505.05 57.93,505.07 58.43,505.1C58.93,505.12 59.43,505.15 59.93,505.18C60.43,505.21 60.93,505.24 61.43,505.27C61.93,505.3 62.43,505.32 62.93,505.35C63.43,505.37 63.93,505.39 64.43,505.42C64.93,505.44 65.43,505.46 65.93,505.48C66.43,505.5 66.93,505.51 67.43,505.53C67.93,505.55 68.43,505.56 68.93,505.57C69.43,505.58 69.93,505.58 70.43,505.59C70.93,505.59 71.43,505.59 71.93,505.59C72.43,505.59 72.93,505.59 73.43,505.6C73.93,505.61 74.43,505.61 74.93,505.63C75.43,505.65 75.93,505.67 76.43,505.69C76.93,505.72 77.43,505.75 77.93,505.78C78.43,505.81 78.93,505.84 79.43,505.88C79.93,505.92 80.43,505.96 80.93,506.01C81.43,506.06 81.93,506.12 82.43,506.18C82.93,506.24 83.43,506.31 83.93,506.38C84.43,506.46 84.93,506.53 85.43,506.61C85.93,506.7 86.43,506.78 86.93,506.89C87.43,507 87.93,507.13 88.43,507.27C88.93,507.4 89.43,507.55 89.93,507.7C90.43,507.84 90.93,508 91.43,508.14C91.93,508.28 92.43,508.42 92.93,508.54C93.43,508.67 93.93,508.78 94.43,508.89C94.93,509 95.43,509.1 95.93,509.2C96.43,509.31 96.93,509.4 97.43,509.5C97.93,509.59 98.43,509.68 98.93,509.75C99.43,509.83 99.93,509.9 100.43,509.96C100.93,510.02 101.43,510.07 101.93,510.12C102.43,510.17 102.93,510.22 103.43,510.26C103.93,510.31 104.43,510.35 104.93,510.37C105.43,510.4 105.93,510.42 106.43,510.43C106.93,510.44 107.43,510.44 107.93,510.44C108.43,510.45 108.93,510.45 109.43,510.44C109.93,510.44 110.43,510.43 110.93,510.42C111.43,510.41 111.93,510.39 112.43,510.36C112.93,510.34 113.43,510.31 113.93,510.28C114.43,510.26 114.93,510.23 115.43,510.19C115.93,510.16 116.43,510.13 116.93,510.09C117.43,510.06 117.93,510.02 118.43,509.98C118.93,509.94 119.43,509.89 119.93,509.85C120.43,509.8 120.93,509.76 121.43,509.71C121.93,509.67 122.43,509.63 122.93,509.58C123.43,509.54 123.93,509.49 124.43,509.45C124.93,509.41 125.43,509.37 125.93,509.33C126.43,509.29 126.93,509.25 127.43,509.21C127.93,509.17 128.43,509.13 128.93,509.09C129.43,509.05 129.93,509.02 130.43,508.98C130.93,508.95 131.43,508.92 131.93,508.89C132.43,508.85 132.93,508.82 133.43,508.79C133.93,508.76 134.43,508.72 134.93,508.68C135.43,508.63 135.93,508.58 136.43,508.51C136.93,508.44 137.43,508.36 137.93,508.27C138.43,508.18 138.93,508.08 139.43,507.98C139.93,507.88 140.43,507.78 140.93,507.67C141.43,507.56 141.93,507.44 142.43,507.32C142.93,507.19 143.43,507.05 143.93,506.91C144.43,506.77 144.93,506.62 145.43,506.47C145.93,506.32 146.43,506.17 146.93,506.03C147.43,505.89 147.93,505.74 148.43,505.61C148.93,505.47 149.43,505.35 149.93,505.22C150.43,505.1 150.93,504.98 151.43,504.85C151.93,504.73 152.43,504.61 152.93,504.49C153.43,504.37 153.93,504.25 154.43,504.12C154.93,504 155.43,503.87 155.93,503.74C156.43,503.61 156.93,503.49 157.43,503.35C157.93,503.21 158.43,503.09 158.93,502.92C159.43,502.75 159.93,502.58 160.43,502.34C160.93,502.11 161.43,501.84 161.93,501.52C162.43,501.2 162.93,500.84 163.43,500.44C163.93,500.03 164.43,499.58 164.93,499.09C165.43,498.61 165.93,498.07 166.43,497.54C166.93,497.01 167.43,496.45 167.93,495.92C168.43,495.39 168.93,494.85 169.43,494.34C169.93,493.83 170.43,493.34 170.93,492.85C171.43,492.37 171.93,491.89 172.43,491.42C172.93,490.94 173.43,490.47 173.93,490C174.43,489.54 174.93,489.08 175.43,488.64C175.93,488.2 176.43,487.78 176.93,487.38C177.43,486.98 177.93,486.6 178.43,486.23C178.93,485.85 179.43,485.5 179.93,485.14C180.43,484.78 180.93,484.42 181.43,484.06C181.93,483.71 182.43,483.35 182.93,483C183.43,482.66 183.93,482.31 184.43,481.97C184.93,481.63 185.43,481.29 185.93,480.96C186.43,480.62 186.93,480.29 187.43,479.95C187.93,479.62 188.43,479.29 188.93,478.96C189.43,478.63 189.93,478.3 190.43,477.98C190.93,477.66 191.43,477.35 191.93,477.04C192.43,476.73 192.93,476.43 193.43,476.12C193.93,475.82 194.43,475.52 194.93,475.2C195.43,474.88 195.93,474.56 196.43,474.21C196.93,473.86 197.43,473.49 197.93,473.09C198.43,472.7 198.93,472.28 199.43,471.83C199.93,471.38 200.43,470.9 200.93,470.38C201.43,469.86 201.93,469.29 202.43,468.7C202.93,468.11 203.43,467.47 203.93,466.84C204.43,466.21 204.93,465.56 205.43,464.92C205.93,464.28 206.43,463.63 206.93,462.98C207.43,462.33 207.93,461.68 208.43,461.03C208.93,460.39 209.43,459.73 209.93,459.1C210.43,458.47 210.93,457.84 211.43,457.24C211.93,456.64 212.43,456.06 212.93,455.49C213.43,454.92 213.93,454.37 214.43,453.82C214.93,453.26 215.43,452.71 215.93,452.17C216.43,451.63 216.93,451.09 217.43,450.56C217.93,450.04 218.43,449.52 218.93,449.01C219.43,448.51 219.93,448 220.43,447.52C220.93,447.03 221.43,446.55 221.93,446.1C222.43,445.65 222.93,445.22 223.43,444.81C223.93,444.39 224.43,444.01 224.93,443.6C225.43,443.19 225.93,442.79 226.43,442.35C226.93,441.9 227.43,441.41 227.93,440.9C228.43,440.39 228.93,439.82 229.43,439.29C229.93,438.76 230.43,438.2 230.93,437.73C231.43,437.25 231.93,436.83 232.43,436.43C232.93,436.03 233.43,435.69 233.93,435.35C234.43,435 234.93,434.68 235.43,434.35C235.93,434.02 236.43,433.7 236.93,433.38C237.43,433.05 237.93,432.73 238.43,432.41C238.93,432.09 239.43,431.77 239.93,431.44C240.43,431.1 240.93,430.79 241.43,430.39C241.93,429.99 242.43,429.58 242.93,429.05C243.43,428.53 243.93,427.89 244.43,427.22C244.93,426.55 245.43,425.75 245.93,425.01C246.43,424.26 246.93,423.46 247.43,422.74C247.93,422.01 248.43,421.31 248.93,420.65C249.43,419.99 249.93,419.38 250.43,418.77C250.93,418.16 251.43,417.58 251.93,416.99C252.43,416.39 252.93,415.82 253.43,415.19C253.93,414.57 254.43,413.94 254.93,413.24C255.43,412.54 255.93,411.79 256.43,411.01C256.93,410.22 257.43,409.37 257.93,408.54C258.43,407.72 258.93,406.86 259.43,406.07C259.93,405.28 260.43,404.52 260.93,403.8C261.43,403.09 261.93,402.42 262.43,401.79C262.93,401.17 263.43,400.56 263.93,400.04C264.43,399.52 264.93,399.05 265.43,398.69C265.93,398.33 266.43,398.06 266.93,397.87C267.43,397.69 267.93,397.59 268.43,397.56C268.93,397.53 269.43,397.59 269.93,397.68C270.43,397.78 270.93,397.95 271.43,398.12C271.93,398.28 272.43,398.49 272.93,398.68C273.43,398.88 273.93,399.09 274.43,399.3C274.93,399.51 275.43,399.72 275.93,399.93C276.43,400.14 276.93,400.36 277.43,400.57C277.93,400.78 278.43,400.99 278.93,401.2C279.43,401.41 279.93,401.63 280.43,401.82C280.93,402.01 281.43,402.2 281.93,402.34C282.43,402.49 282.93,402.61 283.43,402.71C283.93,402.8 284.43,402.85 284.93,402.9C285.43,402.95 285.93,402.98 286.43,402.99C286.93,403 287.43,402.99 287.93,402.97C288.43,402.95 288.93,402.9 289.43,402.87C289.93,402.83 290.43,402.77 290.93,402.78C291.43,402.79 291.93,402.82 292.43,402.92C292.93,403.02 293.43,403.2 293.93,403.4C294.43,403.59 294.93,403.85 295.43,404.09C295.93,404.33 296.43,404.58 296.93,404.83C297.43,405.08 297.93,405.33 298.43,405.58C298.93,405.83 299.43,406.08 299.93,406.31C300.43,406.55 300.93,406.79 301.43,407C301.93,407.21 302.43,407.4 302.93,407.59C303.43,407.77 303.93,407.93 304.43,408.08C304.93,408.24 305.43,408.39 305.93,408.54C306.43,408.68 306.93,408.82 307.43,408.94C307.93,409.07 308.43,409.18 308.93,409.28C309.43,409.39 309.93,409.47 310.43,409.56C310.93,409.64 311.43,409.72 311.93,409.8C312.43,409.87 312.93,409.95 313.43,410C313.93,410.06 314.43,410.11 314.93,410.15C315.43,410.19 315.93,410.22 316.43,410.25C316.93,410.28 317.43,410.3 317.93,410.34C318.43,410.38 318.93,410.42 319.43,410.5C319.93,410.58 320.43,410.68 320.93,410.82C321.43,410.96 321.93,411.13 322.43,411.31C322.93,411.49 323.43,411.69 323.93,411.89C324.43,412.08 324.93,412.28 325.43,412.47C325.93,412.66 326.43,412.84 326.93,413.03C327.43,413.21 327.93,413.38 328.43,413.56C328.93,413.73 329.43,413.9 329.93,414.07C330.43,414.24 330.93,414.41 331.43,414.59C331.93,414.76 332.43,414.93 332.93,415.11C333.43,415.28 333.93,415.46 334.43,415.64C334.93,415.82 335.43,416 335.93,416.17C336.43,416.35 336.93,416.52 337.43,416.68C337.93,416.83 338.43,416.98 338.93,417.11C339.43,417.25 339.93,417.36 340.43,417.47C340.93,417.58 341.43,417.68 341.93,417.78C342.43,417.89 342.93,417.99 343.43,418.09C343.93,418.2 344.43,418.31 344.93,418.42C345.43,418.53 345.93,418.65 346.43,418.76C346.93,418.88 347.43,419 347.93,419.12C348.43,419.25 348.93,419.37 349.43,419.51C349.93,419.64 350.43,419.78 350.93,419.94C351.43,420.09 351.93,420.26 352.43,420.43C352.93,420.6 353.43,420.78 353.93,420.96C354.43,421.14 354.93,421.32 355.43,421.51C355.93,421.69 356.43,421.88 356.93,422.07C357.43,422.26 357.93,422.46 358.43,422.65C358.93,422.85 359.43,423.05 359.93,423.25C360.43,423.44 360.93,423.64 361.43,423.81C361.93,423.99 362.43,424.16 362.93,424.31C363.43,424.45 363.93,424.57 364.43,424.69C364.93,424.81 365.43,424.91 365.93,425.01C366.43,425.11 366.93,425.21 367.43,425.3C367.93,425.39 368.43,425.47 368.93,425.55C369.43,425.62 369.93,425.68 370.43,425.74C370.93,425.8 371.43,425.85 371.93,425.9C372.43,425.96 372.93,426 373.43,426.06C373.93,426.12 374.43,426.19 374.93,426.26C375.43,426.34 375.93,426.43 376.43,426.52C376.93,426.61 377.43,426.71 377.93,426.8C378.43,426.9 378.93,427 379.43,427.08C379.93,427.16 380.43,427.23 380.93,427.27C381.43,427.32 381.93,427.33 382.43,427.34C382.93,427.35 383.43,427.34 383.93,427.33C384.43,427.32 384.93,427.31 385.43,427.29C385.93,427.28 386.43,427.27 386.93,427.25C387.43,427.24 387.93,427.23 388.43,427.2C388.93,427.18 389.43,427.16 389.93,427.13C390.43,427.09 390.93,427.05 391.43,427C391.93,426.95 392.43,426.89 392.93,426.83C393.43,426.78 393.93,426.72 394.43,426.67C394.93,426.63 395.43,426.58 395.93,426.56C396.43,426.54 396.93,426.54 397.43,426.55C397.93,426.56 398.43,426.58 398.93,426.61C399.43,426.63 399.93,426.66 400.43,426.69C400.93,426.72 401.43,426.75 401.93,426.77C402.43,426.79 402.93,426.82 403.43,426.84C403.93,426.86 404.43,426.87 404.93,426.89C405.43,426.91 405.93,426.93 406.43,426.94C406.93,426.96 407.43,426.97 407.93,426.99C408.43,427 408.93,427.02 409.43,427.02C409.93,427.03 410.43,427.04 410.93,427.04C411.43,427.05 411.93,427.05 412.43,427.05C412.93,427.05 413.43,427.05 413.93,427.05C414.43,427.05 414.93,427.05 415.43,427.04C415.93,427.04 416.43,427.03 416.93,427.03C417.43,427.02 417.93,427 418.43,426.99C418.93,426.98 419.43,426.96 419.93,426.94C420.43,426.93 420.93,426.91 421.43,426.89C421.93,426.87 422.43,426.85 422.93,426.81C423.43,426.77 423.93,426.73 424.43,426.67C424.93,426.6 425.43,426.52 425.93,426.43C426.43,426.35 426.93,426.25 427.43,426.14C427.93,426.04 428.43,425.94 428.93,425.81C429.43,425.69 429.93,425.56 430.43,425.4C430.93,425.25 431.43,425.07 431.93,424.89C432.43,424.71 432.93,424.5 433.43,424.31C433.93,424.11 434.43,423.91 434.93,423.71C435.43,423.52 435.93,423.32 436.43,423.13C436.93,422.93 437.43,422.74 437.93,422.55C438.43,422.37 438.93,422.18 439.43,422C439.93,421.82 440.43,421.65 440.93,421.49C441.43,421.33 441.93,421.18 442.43,421.05C442.93,420.91 443.43,420.78 443.93,420.67C444.43,420.55 444.93,420.44 445.43,420.35C445.93,420.26 446.43,420.2 446.93,420.14C447.43,420.08 447.93,420.05 448.43,420.01C448.93,419.98 449.43,419.96 449.93,419.93C450.43,419.91 450.93,419.88 451.43,419.87C451.93,419.85 452.43,419.84 452.93,419.84C453.43,419.84 453.93,419.86 454.43,419.88C454.93,419.91 455.43,419.95 455.93,419.98C456.43,420.02 456.93,420.06 457.43,420.1C457.93,420.14 458.43,420.19 458.93,420.23C459.43,420.27 459.93,420.32 460.43,420.36C460.93,420.41 461.43,420.46 461.93,420.5C462.43,420.55 462.93,420.6 463.43,420.65C463.93,420.7 464.43,420.75 464.93,420.8C465.43,420.85 465.93,420.9 466.43,420.95C466.93,421 467.43,421.04 467.93,421.09C468.43,421.14 468.93,421.18 469.43,421.22C469.93,421.27 470.43,421.31 470.93,421.35C471.43,421.39 471.93,421.43 472.43,421.47C472.93,421.51 473.43,421.55 473.93,421.59C474.43,421.62 474.93,421.66 475.43,421.69C475.93,421.71 476.43,421.74 476.93,421.76C477.43,421.78 477.93,421.79 478.43,421.81C478.93,421.83 479.43,421.84 479.93,421.86C480.43,421.88 480.93,421.9 481.43,421.92C481.93,421.94 482.43,421.96 482.93,421.98C483.43,422 483.93,422.02 484.43,422.05C484.93,422.07 485.43,422.09 485.93,422.12C486.43,422.15 486.93,422.17 487.43,422.2C487.93,422.24 488.43,422.27 488.93,422.32C489.43,422.36 489.93,422.42 490.43,422.49C490.93,422.56 491.43,422.65 491.93,422.74C492.43,422.82 492.93,422.92 493.43,423.01C493.93,423.11 494.43,423.2 494.93,423.3C495.43,423.39 495.93,423.49 496.43,423.59C496.93,423.68 497.43,423.78 497.93,423.89C498.43,424 498.93,424.11 499.43,424.25C499.93,424.39 500.43,424.55 500.93,424.72C501.43,424.9 501.93,425.11 502.43,425.31C502.93,425.52 503.43,425.74 503.93,425.95C504.43,426.17 504.93,426.38 505.43,426.59C505.93,426.8 506.43,427 506.93,427.19C507.43,427.38 507.93,427.57 508.43,427.75C508.93,427.94 509.43,428.12 509.93,428.29C510.43,428.46 510.93,428.63 511.43,428.79C511.93,428.94 512.43,429.09 512.93,429.22C513.43,429.35 513.93,429.45 514.43,429.57C514.93,429.68 515.43,429.78 515.93,429.9C516.43,430.02 516.93,430.13 517.43,430.3C517.93,430.46 518.43,430.65 518.93,430.87C519.43,431.09 519.93,431.36 520.43,431.64C520.93,431.91 521.43,432.21 521.93,432.52C522.43,432.82 522.93,433.13 523.43,433.46C523.93,433.79 524.43,434.13 524.93,434.49C525.43,434.85 525.93,435.23 526.43,435.62C526.93,436 527.43,436.41 527.93,436.79C528.43,437.18 528.93,437.58 529.43,437.94C529.93,438.31 530.43,438.66 530.93,438.99C531.43,439.32 531.93,439.62 532.43,439.92C532.93,440.22 533.43,440.5 533.93,440.78C534.43,441.07 534.93,441.35 535.43,441.64C535.93,441.93 536.43,442.22 536.93,442.53C537.43,442.83 537.93,443.14 538.43,443.46C538.93,443.77 539.43,444.09 539.93,444.42C540.43,444.75 540.93,445.07 541.43,445.42C541.93,445.77 542.43,446.14 542.93,446.53C543.43,446.92 543.93,447.35 544.43,447.78C544.93,448.2 545.43,448.66 545.93,449.1C546.43,449.55 546.93,450 547.43,450.44C547.93,450.89 548.43,451.33 548.93,451.77C549.43,452.21 549.93,452.64 550.43,453.08C550.93,453.51 551.43,453.94 551.93,454.36C552.43,454.79 552.93,455.22 553.43,455.61C553.93,456.01 554.43,456.39 554.93,456.74C555.43,457.09 555.93,457.4 556.43,457.7C556.93,458 557.43,458.27 557.93,458.52C558.43,458.76 558.93,458.99 559.43,459.17C559.93,459.35 560.43,459.48 560.93,459.59C561.43,459.71 561.93,459.77 562.43,459.85C562.93,459.92 563.43,459.98 563.93,460.04C564.43,460.1 564.93,460.15 565.43,460.21C565.93,460.26 566.43,460.31 566.93,460.36C567.43,460.42 567.93,460.47 568.43,460.53C568.93,460.59 569.43,460.66 569.93,460.75C570.43,460.84 570.93,460.95 571.43,461.08C571.93,461.2 572.43,461.35 572.93,461.49C573.43,461.64 573.93,461.79 574.43,461.92C574.93,462.05 575.43,462.17 575.93,462.27C576.43,462.37 576.93,462.45 577.43,462.52C577.93,462.6 578.43,462.65 578.93,462.71C579.43,462.77 579.93,462.83 580.43,462.88C580.93,462.94 581.43,462.99 581.93,463.03C582.43,463.07 582.93,463.1 583.43,463.12C583.93,463.14 584.43,463.15 584.93,463.15C585.43,463.16 585.93,463.16 586.43,463.16C586.93,463.16 587.43,463.16 587.93,463.16C588.43,463.16 588.93,463.15 589.43,463.15C589.93,463.14 590.43,463.13 590.93,463.12C591.43,463.11 591.93,463.09 592.43,463.08C592.93,463.06 593.43,463.05 593.93,463.03C594.43,463.02 594.93,463 595.43,462.99C595.93,462.99 596.43,462.99 596.93,463C597.43,463.01 597.93,463.04 598.43,463.08C598.93,463.12 599.43,463.17 599.93,463.22C600.43,463.27 600.93,463.33 601.43,463.39C601.93,463.44 602.43,463.5 602.93,463.56C603.43,463.62 603.93,463.67 604.43,463.73C604.93,463.79 605.43,463.84 605.93,463.9C606.43,463.96 606.93,464.01 607.43,464.07C607.93,464.13 608.43,464.19 608.93,464.24C609.43,464.3 609.93,464.36 610.43,464.41C610.93,464.46 611.43,464.52 611.93,464.56C612.43,464.61 612.93,464.65 613.43,464.68C613.93,464.72 614.43,464.74 614.93,464.77C615.43,464.8 615.93,464.83 616.43,464.85C616.93,464.87 617.43,464.9 617.93,464.92C618.43,464.94 618.93,464.95 619.43,464.96C619.93,464.96 620.43,464.96 620.93,464.94C621.43,464.93 621.93,464.91 622.43,464.89C622.93,464.87 623.43,464.84 623.93,464.82C624.43,464.8 624.93,464.77 625.43,464.75C625.93,464.72 626.43,464.7 626.93,464.68C627.43,464.66 627.93,464.64 628.43,464.62C628.93,464.6 629.43,464.58 629.93,464.57C630.43,464.55 630.93,464.53 631.43,464.52C631.93,464.5 632.43,464.48 632.93,464.47C633.43,464.46 633.93,464.46 634.43,464.46C634.93,464.46 635.43,464.46 635.93,464.47C636.43,464.48 636.93,464.5 637.43,464.52C637.93,464.53 638.43,464.55 638.93,464.57C639.43,464.58 639.93,464.6 640.43,464.61C640.93,464.62 641.43,464.63 641.93,464.64C642.43,464.65 642.93,464.65 643.43,464.66C643.93,464.66 644.43,464.66 644.93,464.66C645.43,464.66 645.93,464.66 646.43,464.66C646.93,464.65 647.43,464.65 647.93,464.64C648.43,464.63 648.93,464.61 649.43,464.59C649.93,464.57 650.43,464.53 650.93,464.5C651.43,464.46 651.93,464.42 652.43,464.38C652.93,464.33 653.43,464.28 653.93,464.21C654.43,464.14 654.93,464.05 655.43,463.94C655.93,463.83 656.43,463.7 656.93,463.55C657.43,463.4 657.93,463.23 658.43,463.03C658.93,462.84 659.43,462.62 659.93,462.35C660.43,462.08 660.93,461.76 661.43,461.43C661.93,461.1 662.43,460.72 662.93,460.35C663.43,459.99 663.93,459.61 664.43,459.23C664.93,458.86 665.43,458.48 665.93,458.11C666.43,457.74 666.93,457.36 667.43,457C667.93,456.63 668.43,456.27 668.93,455.93C669.43,455.59 669.93,455.26 670.43,454.96C670.93,454.65 671.43,454.36 671.93,454.09C672.43,453.81 672.93,453.55 673.43,453.31C673.93,453.07 674.43,452.85 674.93,452.66C675.43,452.47 675.93,452.32 676.43,452.16C676.93,452.01 677.43,451.89 677.93,451.75C678.43,451.62 678.93,451.5 679.43,451.38C679.93,451.26 680.43,451.15 680.93,451.05C681.43,450.95 681.93,450.86 682.43,450.77C682.93,450.68 683.43,450.6 683.93,450.53C684.43,450.45 684.93,450.37 685.43,450.31C685.93,450.24 686.43,450.18 686.93,450.14C687.43,450.09 687.93,450.07 688.43,450.04C688.93,450.01 689.43,449.99 689.93,449.98C690.43,449.96 690.93,449.94 691.43,449.93C691.93,449.91 692.43,449.9 692.93,449.88C693.43,449.87 693.93,449.86 694.43,449.86C694.93,449.85 695.43,449.85 695.93,449.84C696.43,449.84 696.93,449.84 697.43,449.84C697.93,449.84 698.43,449.84 698.93,449.84C699.43,449.84 699.93,449.84 700.43,449.84C700.93,449.84 701.43,449.84 701.93,449.84C702.43,449.84 702.93,449.84 703.43,449.84C703.93,449.84 704.43,449.84 704.93,449.84C705.43,449.84 705.93,449.84 706.43,449.84C706.93,449.83 707.43,449.82 707.93,449.81C708.43,449.8 708.93,449.77 709.43,449.75C709.93,449.72 710.43,449.69 710.93,449.65C711.43,449.62 711.93,449.58 712.43,449.54C712.93,449.5 713.43,449.47 713.93,449.43C714.43,449.39 714.93,449.35 715.43,449.31C715.93,449.27 716.43,449.24 716.93,449.19C717.43,449.15 717.93,449.11 718.43,449.04C718.93,448.96 719.43,448.88 719.93,448.75C720.43,448.61 720.93,448.43 721.43,448.23C721.93,448.03 722.43,447.79 722.93,447.55C723.43,447.31 723.93,447.05 724.43,446.79C724.93,446.52 725.43,446.25 725.93,445.96C726.43,445.67 726.93,445.35 727.43,445.03C727.93,444.7 728.43,444.35 728.93,444.01C729.43,443.67 729.93,443.32 730.43,442.99C730.93,442.67 731.43,442.35 731.93,442.06C732.43,441.77 732.93,441.52 733.43,441.28C733.93,441.04 734.43,440.83 734.93,440.62C735.43,440.41 735.93,440.21 736.43,440.03C736.93,439.84 737.43,439.66 737.93,439.5C738.43,439.34 738.93,439.2 739.43,439.07C739.93,438.94 740.43,438.84 740.93,438.73C741.43,438.61 741.93,438.52 742.43,438.4C742.93,438.27 743.43,438.15 743.93,437.99C744.43,437.83 744.93,437.65 745.43,437.44C745.93,437.23 746.43,436.99 746.93,436.74C747.43,436.5 747.93,436.23 748.43,435.94C748.93,435.66 749.43,435.34 749.93,435.02C750.43,434.7 750.93,434.33 751.43,434C751.93,433.68 752.43,433.32 752.93,433.07C753.43,432.82 753.93,432.61 754.43,432.52C754.93,432.42 755.43,432.45 755.93,432.49C756.43,432.53 756.93,432.66 757.43,432.75C757.93,432.85 758.43,432.96 758.93,433.05C759.43,433.13 759.93,433.19 760.43,433.25C760.93,433.31 761.43,433.35 761.93,433.4C762.43,433.45 762.93,433.49 763.43,433.53C763.93,433.56 764.43,433.6 764.93,433.63C765.43,433.66 765.93,433.68 766.43,433.69C766.93,433.69 767.43,433.68 767.93,433.67C768.43,433.66 768.93,433.63 769.43,433.61C769.93,433.59 770.43,433.56 770.93,433.54C771.43,433.53 771.93,433.5 772.43,433.5C772.93,433.5 773.43,433.51 773.93,433.54C774.43,433.56 774.93,433.61 775.43,433.67C775.93,433.72 776.43,433.79 776.93,433.85C777.43,433.91 777.93,433.98 778.43,434.04C778.93,434.11 779.43,434.17 779.93,434.22C780.43,434.28 780.93,434.33 781.43,434.37C781.93,434.41 782.43,434.44 782.93,434.47C783.43,434.5 783.93,434.53 784.43,434.55C784.93,434.58 785.43,434.6 785.93,434.62C786.43,434.63 786.93,434.65 787.43,434.65C787.93,434.65 788.43,434.63 788.93,434.61C789.43,434.59 789.93,434.54 790.43,434.5C790.93,434.46 791.43,434.41 791.93,434.36C792.43,434.31 792.93,434.26 793.43,434.21C793.93,434.16 794.43,434.11 794.93,434.06C795.43,434 795.93,433.95 796.43,433.89C796.93,433.84 797.43,433.78 797.93,433.72C798.43,433.66 798.93,433.61 799.43,433.54C799.93,433.48 800.43,433.43 800.93,433.35C801.43,433.28 801.93,433.2 802.43,433.11C802.93,433.01 803.43,432.89 803.93,432.76C804.43,432.64 804.93,432.49 805.43,432.34C805.93,432.2 806.43,432.05 806.93,431.88C807.43,431.7 807.93,431.53 808.43,431.31C808.93,431.1 809.43,430.86 809.93,430.6C810.43,430.34 810.93,430.04 811.43,429.76C811.93,429.47 812.43,429.17 812.93,428.88C813.43,428.59 813.93,428.29 814.43,428.02C814.93,427.74 815.43,427.47 815.93,427.23C816.43,426.99 816.93,426.77 817.43,426.58C817.93,426.38 818.43,426.22 818.93,426.06C819.43,425.9 819.93,425.76 820.43,425.62C820.93,425.48 821.43,425.34 821.93,425.2C822.43,425.06 822.93,424.92 823.43,424.78C823.93,424.64 824.43,424.51 824.93,424.37C825.43,424.23 825.93,424.09 826.43,423.95C826.93,423.81 827.43,423.67 827.93,423.53C828.43,423.38 828.93,423.23 829.43,423.07C829.93,422.91 830.43,422.74 830.93,422.56C831.43,422.38 831.93,422.19 832.43,422C832.93,421.8 833.43,421.6 833.93,421.4C834.43,421.21 834.93,421.01 835.43,420.81C835.93,420.61 836.43,420.41 836.93,420.21C837.43,420.01 837.93,419.81 838.43,419.61C838.93,419.41 839.43,419.21 839.93,419.01C840.43,418.82 840.93,418.62 841.43,418.44C841.93,418.25 842.43,418.08 842.93,417.91C843.43,417.74 843.93,417.58 844.43,417.43C844.93,417.27 845.43,417.12 845.93,416.96C846.43,416.8 846.93,416.64 847.43,416.46C847.93,416.28 848.43,416.09 848.93,415.87C849.43,415.66 849.93,415.43 850.43,415.19C850.93,414.95 851.43,414.7 851.93,414.45C852.43,414.2 852.93,413.94 853.43,413.68C853.93,413.41 854.43,413.14 854.93,412.86C855.43,412.58 855.93,412.29 856.43,412C856.93,411.7 857.43,411.4 857.93,411.09C858.43,410.77 858.93,410.46 859.43,410.11C859.93,409.75 860.43,409.37 860.93,408.96C861.43,408.54 861.93,408.08 862.43,407.6C862.93,407.13 863.43,406.62 863.93,406.11C864.43,405.6 864.93,405.07 865.43,404.54C865.93,404.01 866.43,403.44 866.93,402.92C867.43,402.4 867.93,401.87 868.43,401.42C868.93,400.98 869.43,400.6 869.93,400.27C870.43,399.93 870.93,399.68 871.43,399.42C871.93,399.17 872.43,398.95 872.93,398.72C873.43,398.48 873.93,398.25 874.43,397.99C874.93,397.74 875.43,397.46 875.93,397.18C876.43,396.89 876.93,396.59 877.43,396.28C877.93,395.97 878.43,395.66 878.93,395.34C879.43,395.02 879.93,394.7 880.43,394.36C880.93,394.02 881.43,393.67 881.93,393.28C882.43,392.89 882.93,392.46 883.43,392.01C883.93,391.56 884.43,391.07 884.93,390.59C885.43,390.11 885.93,389.6 886.43,389.12C886.93,388.64 887.43,388.15 887.93,387.69C888.43,387.23 888.93,386.79 889.43,386.36C889.93,385.93 890.43,385.52 890.93,385.11C891.43,384.71 891.93,384.31 892.43,383.93C892.93,383.54 893.43,383.16 893.93,382.82C894.43,382.47 894.93,382.14 895.43,381.86C895.93,381.57 896.43,381.29 896.93,381.1C897.43,380.91 897.93,380.75 898.43,380.72C898.93,380.68 899.43,380.75 899.93,380.87C900.43,381 900.93,381.23 901.43,381.47C901.93,381.71 902.43,382.01 902.93,382.32C903.43,382.62 903.93,382.97 904.43,383.31C904.93,383.65 905.43,384.03 905.93,384.35C906.43,384.67 906.93,384.99 907.43,385.23C907.93,385.47 908.43,385.64 908.93,385.77C909.43,385.9 909.93,385.96 910.43,386.01C910.93,386.05 911.43,386.06 911.93,386.03C912.43,386 912.93,385.93 913.43,385.83C913.93,385.72 914.43,385.57 914.93,385.42C915.43,385.26 915.93,385.08 916.43,384.9C916.93,384.73 917.43,384.54 917.93,384.36C918.43,384.17 918.93,383.98 919.43,383.79C919.93,383.6 920.43,383.4 920.93,383.2C921.43,383 921.93,382.8 922.43,382.59C922.93,382.38 923.43,382.17 923.93,381.93C924.43,381.69 924.93,381.44 925.43,381.16C925.93,380.88 926.43,380.58 926.93,380.26C927.43,379.95 927.93,379.61 928.43,379.28C928.93,378.95 929.43,378.61 929.93,378.28C930.43,377.94 930.93,377.6 931.43,377.27C931.93,376.93 932.43,376.59 932.93,376.25C933.43,375.92 933.93,375.58 934.43,375.24C934.93,374.9 935.43,374.56 935.93,374.23C936.43,373.89 936.93,373.55 937.43,373.21C937.93,372.87 938.43,372.53 938.93,372.19C939.43,371.85 939.93,371.49 940.43,371.17C940.93,370.84 941.43,370.51 941.93,370.23C942.43,369.95 942.93,369.71 943.43,369.5C943.93,369.3 944.43,369.15 944.93,369C945.43,368.85 945.93,368.73 946.43,368.6C946.93,368.47 947.43,368.35 947.93,368.23C948.43,368.11 948.93,368 949.43,367.9C949.93,367.8 950.43,367.71 950.93,367.62C951.43,367.54 951.93,367.47 952.43,367.4C952.93,367.33 953.43,367.26 953.93,367.2C954.43,367.13 954.93,367.07 955.43,367.02C955.93,366.98 956.43,366.95 956.93,366.95C957.43,366.95 957.93,366.98 958.43,367.02C958.93,367.07 959.43,367.14 959.93,367.22C960.43,367.3 960.93,367.38 961.43,367.48C961.93,367.59 962.43,367.7 962.93,367.86C963.43,368.01 963.93,368.21 964.43,368.41C964.93,368.61 965.43,368.86 965.93,369.07C966.43,369.28 966.93,369.5 967.43,369.66C967.93,369.83 968.43,369.96 968.93,370.05C969.43,370.14 969.93,370.19 970.43,370.23C970.93,370.27 971.43,370.29 971.93,370.29C972.43,370.3 972.93,370.3 973.43,370.26C973.93,370.22 974.43,370.15 974.93,370.06C975.43,369.97 975.93,369.83 976.43,369.7C976.93,369.57 977.43,369.42 977.93,369.27C978.43,369.13 978.93,368.98 979.43,368.83C979.93,368.68 980.43,368.53 980.93,368.38C981.43,368.23 981.93,368.08 982.43,367.93C982.93,367.78 983.43,367.63 983.93,367.47C984.43,367.32 984.93,367.17 985.43,367.02C985.93,366.86 986.43,366.7 986.93,366.54C987.43,366.38 987.93,366.22 988.43,366.05C988.93,365.89 989.43,365.72 989.93,365.55C990.43,365.39 990.93,365.22 991.43,365.05C991.93,364.88 992.43,364.72 992.93,364.54C993.43,364.37 993.93,364.19 994.43,364.02C994.93,363.84 995.43,363.66 995.93,363.48C996.43,363.29 996.93,363.11 997.43,362.93C997.93,362.74 998.43,362.56 998.93,362.38C999.43,362.19 999.93,362.01 1000.43,361.83C1000.93,361.64 1001.43,361.46 1001.93,361.28C1002.43,361.09 1002.93,360.91 1003.43,360.73C1003.93,360.54 1004.43,360.37 1004.93,360.17C1005.43,359.97 1005.93,359.8 1006.43,359.54C1006.93,359.29 1007.43,359.02 1007.93,358.65C1008.43,358.28 1008.93,357.81 1009.43,357.31C1009.93,356.81 1010.43,356.22 1010.93,355.63C1011.43,355.03 1011.93,354.4 1012.43,353.75C1012.93,353.1 1013.43,352.41 1013.93,351.71C1014.43,351.02 1014.93,350.27 1015.43,349.58C1015.93,348.89 1016.43,348.17 1016.93,347.56C1017.43,346.94 1017.93,346.38 1018.43,345.9C1018.93,345.42 1019.43,345.03 1019.93,344.67C1020.43,344.31 1020.93,344.01 1021.43,343.74C1021.93,343.46 1022.43,343.22 1022.93,343.02C1023.43,342.82 1023.93,342.68 1024.43,342.54C1024.93,342.41 1025.43,342.31 1025.93,342.2C1026.43,342.09 1026.93,341.99 1027.43,341.87C1027.93,341.75 1028.43,341.62 1028.93,341.46C1029.43,341.31 1029.93,341.13 1030.43,340.95C1030.93,340.77 1031.43,340.57 1031.93,340.37C1032.43,340.18 1032.93,339.97 1033.43,339.78C1033.93,339.58 1034.43,339.38 1034.93,339.18C1035.43,338.98 1035.93,338.77 1036.43,338.58C1036.93,338.38 1037.43,338.17 1037.93,337.98C1038.43,337.79 1038.93,337.58 1039.43,337.41C1039.93,337.24 1040.43,337.08 1040.93,336.96C1041.43,336.83 1041.93,336.75 1042.43,336.67C1042.93,336.6 1043.43,336.55 1043.93,336.51C1044.43,336.46 1044.93,336.43 1045.43,336.4C1045.93,336.37 1046.43,336.35 1046.93,336.35C1047.43,336.34 1047.93,336.35 1048.43,336.35C1048.93,336.36 1049.43,336.38 1049.93,336.39C1050.43,336.41 1050.93,336.43 1051.43,336.44C1051.93,336.46 1052.43,336.48 1052.93,336.51C1053.43,336.53 1053.93,336.56 1054.43,336.61C1054.93,336.66 1055.43,336.72 1055.93,336.8C1056.43,336.87 1056.93,336.96 1057.43,337.06C1057.93,337.15 1058.43,337.25 1058.93,337.35C1059.43,337.44 1059.93,337.54 1060.43,337.63C1060.93,337.71 1061.43,337.79 1061.93,337.85C1062.43,337.91 1062.93,337.95 1063.43,337.97C1063.93,338 1064.43,338 1064.93,338.01C1065.43,338.02 1065.93,338.02 1066.43,338.02C1066.93,338.02 1067.43,338.02 1067.93,338.01C1068.43,338 1068.93,337.99 1069.43,337.97C1069.93,337.95 1070.43,337.92 1070.93,337.89C1071.43,337.86 1071.93,337.82 1072.43,337.78C1072.93,337.74 1073.43,337.7 1073.93,337.65C1074.43,337.61 1074.93,337.57 1075.43,337.5C1075.93,337.44 1076.43,337.37 1076.93,337.27C1077.43,337.17 1077.93,337.05 1078.43,336.92C1078.93,336.79 1079.43,336.64 1079.93,336.49C1080.43,336.33 1080.93,336.18 1081.43,335.99C1081.93,335.8 1082.43,335.59 1082.93,335.33C1083.43,335.07 1083.93,334.76 1084.43,334.41C1084.93,334.06 1085.43,333.69 1085.93,333.23C1086.43,332.76 1086.93,332.28 1087.43,331.63C1087.93,330.98 1088.43,330.22 1088.93,329.33C1089.43,328.44 1089.93,327.42 1090.43,326.28C1090.93,325.13 1091.43,323.85 1091.93,322.44C1092.43,321.03 1092.93,319.48 1093.43,317.82C1093.93,316.16 1094.43,314.37 1094.93,312.49C1095.43,310.61 1095.93,308.58 1096.43,306.54C1096.93,304.5 1097.43,302.35 1097.93,300.25C1098.43,298.15 1098.93,296.03 1099.43,293.94C1099.93,291.84 1100.43,289.77 1100.93,287.7C1101.43,285.63 1101.93,283.55 1102.43,281.51C1102.93,279.48 1103.43,277.4 1103.93,275.48C1104.43,273.55 1104.93,271.66 1105.43,269.98C1105.93,268.3 1106.43,266.78 1106.93,265.41C1107.43,264.03 1107.93,262.82 1108.43,261.75C1108.93,260.67 1109.43,259.76 1109.93,258.96C1110.43,258.15 1110.93,257.51 1111.43,256.91C1111.93,256.3 1112.43,255.8 1112.93,255.32C1113.43,254.84 1113.93,254.44 1114.43,254.01C1114.93,253.59 1115.43,253.22 1115.93,252.77C1116.43,252.32 1116.93,251.85 1117.43,251.32C1117.93,250.79 1118.43,250.12 1118.93,249.58C1119.43,249.05 1119.93,248.43 1120.43,248.09C1120.93,247.75 1121.43,247.57 1121.93,247.56C1122.43,247.55 1122.93,247.8 1123.43,248.04C1123.93,248.28 1124.43,248.67 1124.93,248.99C1125.43,249.32 1125.93,249.67 1126.43,250C1126.93,250.32 1127.43,250.62 1127.93,250.93C1128.43,251.23 1128.93,251.51 1129.43,251.81C1129.93,252.11 1130.43,252.41 1130.93,252.73C1131.43,253.04 1131.93,253.37 1132.43,253.69C1132.93,254.02 1133.43,254.36 1133.93,254.7C1134.43,255.03 1134.93,255.36 1135.43,255.71C1135.93,256.05 1136.43,256.38 1136.93,256.77C1137.43,257.16 1137.93,257.54 1138.43,258.05C1138.93,258.56 1139.43,259.15 1139.93,259.83C1140.43,260.52 1140.93,261.35 1141.43,262.16C1141.93,262.96 1142.43,263.86 1142.93,264.67C1143.43,265.48 1143.93,266.29 1144.43,267.04C1144.93,267.78 1145.43,268.5 1145.93,269.14C1146.43,269.78 1146.93,270.36 1147.43,270.89C1147.93,271.42 1148.43,271.87 1148.93,272.33C1149.43,272.78 1149.93,273.18 1150.43,273.59C1150.93,274 1151.44,274.4 1151.93,274.79C1152.42,275.19 1153.11,275.76 1153.35,275.96" fill="none" stroke="#2962ff" stroke-width="3" stroke-linejoin="round" stroke-linecap="round"/>
<rect x="10" y="508" width="1" height="4" fill="#ef5350"/>
<rect x="9" y="508" width="3" height="4" fill="#ef5350"/>
<rect x="14" y="508" width="1" height="4" fill="#26a69a"/>
<rect x="13" y="509" width="3" height="3" fill="#26a69a"/>
<rect x="17" y="508" width="1" height="6" fill="#ef5350"/>
<rect x="16" y="509" width="3" height="3" fill="#ef5350"/>
<rect x="21" y="510" width="1" height="5" fill="#ef5350"/>
<rect x="20" y="511" width="3" height="2" fill="#ef5350"/>
<rect x="24" y="509" width="1" height="4" fill="#26a69a"/>
<rect x="23" y="510" width="3" height="3" fill="#26a69a"/>
<rect x="28" y="507" width="1" height="6" fill="#26a69a"/>
<rect x="27" y="508" width="3" height="3" fill="#26a69a"/>
<rect x="32" y="504" width="1" height="4" fill="#26a69a"/>
<rect x="31" y="507" width="3" height="1" fill="#26a69a"/>
<rect x="35" y="503" width="1" height="5" fill="#26a69a"/>
<rect x="34" y="505" width="3" height="3" fill="#26a69a"/>
<rect x="39" y="500" width="1" height="6" fill="#26a69a"/>
<rect x="38" y="503" width="3" height="3" fill="#26a69a"/>
<rect x="42" y="497" width="1" height="7" fill="#26a69a"/>
<rect x="41" y="502" width="3" height="1" fill="#26a69a"/>
<rect x="46" y="494" width="1" height="10" fill="#26a69a"/>
<rect x="45" y="501" width="3" height="3" fill="#26a69a"/>
<rect x="50" y="498" width="1" height="4" fill="#26a69a"/>
<rect x="49" y="499" width="3" height="2" fill="#26a69a"/>
<rect x="53" y="497" width="1" height="9" fill="#ef5350"/>
<rect x="52" y="499" width="3" height="6" fill="#ef5350"/>
<rect x="57" y="502" width="1" height="6" fill="#ef5350"/>
<rect x="56" y="504" width="3" height="3" fill="#ef5350"/>
<rect x="60" y="503" width="1" height="4" fill="#26a69a"/>
<rect x="59" y="504" width="3" height="2" fill="#26a69a"/>
<rect x="64" y="503" width="1" height="5" fill="#ef5350"/>
<rect x="63" y="504" width="3" height="3" fill="#ef5350"/>
<rect x="68" y="503" width="1" height="4" fill="#26a69a"/>
<rect x="67" y="504" width="3" height="3" fill="#26a69a"/>
<rect x="71" y="500" width="1" height="8" fill="#ef5350"/>
<rect x="70" y="505" width="3" height="2" fill="#ef5350"/>
<rect x="75" y="504" width="1" height="9" fill="#26a69a"/>
<rect x="74" y="504" width="3" height="1" fill="#26a69a"/>
<rect x="78" y="503" width="1" height="5" fill="#ef5350"/>
<rect x="77" y="505" width="3" height="2" fill="#ef5350"/>
<rect x="82" y="503" width="1" height="7" fill="#ef5350"/>
<rect x="81" y="507" width="3" height="2" fill="#ef5350"/>
<rect x="86" y="506" width="1" height="15" fill="#ef5350"/>
<rect x="85" y="508" width="3" height="12" fill="#ef5350"/>
<rect x="89" y="514" width="1" height="16" fill="#26a69a"/>
<rect x="88" y="515" width="3" height="5" fill="#26a69a"/>
<rect x="93" y="511" width="1" height="12" fill="#ef5350"/>
<rect x="92" y="515" width="3" height="8" fill="#ef5350"/>
<rect x="96" y="513" width="1" height="11" fill="#26a69a"/>
<rect x="95" y="516" width="3" height="7" fill="#26a69a"/>
<rect x="100" y="513" width="1" height="6" fill="#ef5350"/>
<rect x="99" y="516" width="3" height="2" fill="#ef5350"/>
<rect x="104" y="512" width="1" height="6" fill="#26a69a"/>
<rect x="103" y="512" width="3" height="6" fill="#26a69a"/>
<rect x="107" y="509" width="1" height="6" fill="#26a69a"/>
<rect x="106" y="510" width="3" height="3" fill="#26a69a"/>
<rect x="111" y="507" width="1" height="11" fill="#ef5350"/>
<rect x="110" y="512" width="3" height="5" fill="#ef5350"/>
<rect x="114" y="503" width="1" height="13" fill="#26a69a"/>
<rect x="113" y="506" width="3" height="10" fill="#26a69a"/>
<rect x="118" y="503" width="1" height="7" fill="#26a69a"/>
<rect x="117" y="505" width="3" height="2" fill="#26a69a"/>
<rect x="122" y="501" width="1" height="6" fill="#26a69a"/>
<rect x="121" y="503" width="3" height="4" fill="#26a69a"/>
<rect x="125" y="502" width="1" height="5" fill="#ef5350"/>
<rect x="124" y="504" width="3" height="3" fill="#ef5350"/>
<rect x="129" y="503" width="1" height="4" fill="#ef5350"/>
<rect x="128" y="505" width="3" height="2" fill="#ef5350"/>
<rect x="132" y="504" width="1" height="5" fill="#26a69a"/>
<rect x="131" y="505" width="3" height="2" fill="#26a69a"/>
<rect x="136" y="502" width="1" height="6" fill="#ef5350"/>
<rect x="135" y="505" width="3" height="2" fill="#ef5350"/>
<rect x="140" y="505" width="1" height="3" fill="#26a69a"/>
<rect x="139" y="506" width="3" height="1" fill="#26a69a"/>
<rect x="143" y="497" width="1" height="10" fill="#26a69a"/>
<rect x="142" y="497" width="3" height="10" fill="#26a69a"/>
<rect x="147" y="494" width="1" height="5" fill="#26a69a"/>
<rect x="146" y="495" width="3" height="3" fill="#26a69a"/>
<rect x="150" y="494" width="1" height="8" fill="#ef5350"/>
<rect x="149" y="495" width="3" height="3" fill="#ef5350"/>
<rect x="154" y="495" width="1" height="3" fill="#26a69a"/>
<rect x="153" y="496" width="3" height="1" fill="#26a69a"/>
<rect x="157" y="494" width="1" height="3" fill="#26a69a"/>
<rect x="156" y="495" width="3" height="1" fill="#26a69a"/>
<rect x="161" y="489" width="1" height="8" fill="#26a69a"/>
<rect x="160" y="490" width="3" height="5" fill="#26a69a"/>
<rect x="165" y="370" width="1" height="121" fill="#26a69a"/>
<rect x="164" y="473" width="3" height="17" fill="#26a69a"/>
<rect x="168" y="456" width="1" height="18" fill="#26a69a"/>
<rect x="167" y="464" width="3" height="9" fill="#26a69a"/>
<rect x="172" y="454" width="1" height="13" fill="#26a69a"/>
<rect x="171" y="457" width="3" height="7" fill="#26a69a"/>
<rect x="175" y="444" width="1" height="20" fill="#ef5350"/>
<rect x="174" y="457" width="3" height="7" fill="#ef5350"/>
<rect x="179" y="446" width="1" height="18" fill="#26a69a"/>
<rect x="178" y="455" width="3" height="9" fill="#26a69a"/>
<rect x="183" y="451" width="1" height="13" fill="#ef5350"/>
<rect x="182" y="455" width="3" height="4" fill="#ef5350"/>
<rect x="186" y="456" width="1" height="14" fill="#26a69a"/>
<rect x="185" y="456" width="3" height="3" fill="#26a69a"/>
<rect x="190" y="454" width="1" height="12" fill="#26a69a"/>
<rect x="189" y="454" width="3" height="3" fill="#26a69a"/>
<rect x="193" y="447" width="1" height="15" fill="#26a69a"/>
<rect x="192" y="450" width="3" height="5" fill="#26a69a"/>
<rect x="197" y="446" width="1" height="12" fill="#ef5350"/>
<rect x="196" y="450" width="3" height="4" fill="#ef5350"/>
<rect x="201" y="439" width="1" height="17" fill="#26a69a"/>
<rect x="200" y="441" width="3" height="12" fill="#26a69a"/>
<rect x="204" y="425" width="1" height="17" fill="#26a69a"/>
<rect x="203" y="427" width="3" height="15" fill="#26a69a"/>
<rect x="208" y="414" width="1" height="20" fill="#26a69a"/>
<rect x="207" y="421" width="3" height="7" fill="#26a69a"/>
<rect x="211" y="408" width="1" height="19" fill="#26a69a"/>
<rect x="210" y="416" width="3" height="6" fill="#26a69a"/>
<rect x="215" y="399" width="1" height="19" fill="#26a69a"/>
<rect x="214" y="412" width="3" height="5" fill="#26a69a"/>
<rect x="219" y="405" width="1" height="11" fill="#26a69a"/>
<rect x="218" y="408" width="3" height="5" fill="#26a69a"/>
<rect x="222" y="402" width="1" height="11" fill="#ef5350"/>
<rect x="221" y="408" width="3" height="3" fill="#ef5350"/>
<rect x="226" y="402" width="1" height="14" fill="#ef5350"/>
<rect x="225" y="409" width="3" height="5" fill="#ef5350"/>
<rect x="229" y="407" width="1" height="9" fill="#ef5350"/>
<rect x="228" y="413" width="3" height="2" fill="#ef5350"/>
<rect x="233" y="409" width="1" height="7" fill="#26a69a"/>
<rect x="232" y="412" width="3" height="3" fill="#26a69a"/>
<rect x="237" y="405" width="1" height="9" fill="#26a69a"/>
<rect x="236" y="412" width="3" height="1" fill="#26a69a"/>
<rect x="240" y="404" width="1" height="9" fill="#26a69a"/>
<rect x="239" y="408" width="3" height="5" fill="#26a69a"/>
<rect x="244" y="397" width="1" height="12" fill="#26a69a"/>
<rect x="243" y="400" width="3" height="9" fill="#26a69a"/>
<rect x="247" y="360" width="1" height="43" fill="#26a69a"/>
<rect x="246" y="367" width="3" height="33" fill="#26a69a"/>
<rect x="251" y="355" width="1" height="21" fill="#ef5350"/>
<rect x="250" y="367" width="3" height="8" fill="#ef5350"/>
<rect x="255" y="360" width="1" height="22" fill="#26a69a"/>
<rect x="254" y="370" width="3" height="5" fill="#26a69a"/>
<rect x="258" y="358" width="1" height="18" fill="#26a69a"/>
<rect x="257" y="361" width="3" height="10" fill="#26a69a"/>
<rect x="262" y="349" width="1" height="18" fill="#26a69a"/>
<rect x="261" y="349" width="3" height="13" fill="#26a69a"/>
<rect x="265" y="348" width="1" height="21" fill="#ef5350"/>
<rect x="264" y="349" width="3" height="13" fill="#ef5350"/>
<rect x="269" y="359" width="1" height="28" fill="#ef5350"/>
<rect x="268" y="361" width="3" height="25" fill="#ef5350"/>
<rect x="273" y="385" width="1" height="40" fill="#ef5350"/>
<rect x="272" y="385" width="3" height="20" fill="#ef5350"/>
<rect x="276" y="401" width="1" height="14" fill="#ef5350"/>
<rect x="275" y="404" width="3" height="8" fill="#ef5350"/>
<rect x="280" y="408" width="1" height="14" fill="#ef5350"/>
<rect x="279" y="411" width="3" height="11" fill="#ef5350"/>
<rect x="283" y="417" width="1" height="13" fill="#26a69a"/>
<rect x="282" y="420" width="3" height="2" fill="#26a69a"/>
<rect x="287" y="402" width="1" height="23" fill="#26a69a"/>
<rect x="286" y="403" width="3" height="18" fill="#26a69a"/>
<rect x="291" y="387" width="1" height="22" fill="#26a69a"/>
<rect x="290" y="396" width="3" height="9" fill="#26a69a"/>
<rect x="294" y="385" width="1" height="24" fill="#ef5350"/>
<rect x="293" y="396" width="3" height="12" fill="#ef5350"/>
<rect x="298" y="400" width="1" height="40" fill="#ef5350"/>
<rect x="297" y="407" width="3" height="24" fill="#ef5350"/>
<rect x="301" y="410" width="1" height="24" fill="#26a69a"/>
<rect x="300" y="428" width="3" height="3" fill="#26a69a"/>
<rect x="305" y="409" width="1" height="20" fill="#26a69a"/>
<rect x="304" y="423" width="3" height="6" fill="#26a69a"/>
<rect x="308" y="417" width="1" height="9" fill="#26a69a"/>
<rect x="307" y="419" width="3" height="5" fill="#26a69a"/>
<rect x="312" y="412" width="1" height="10" fill="#ef5350"/>
<rect x="311" y="419" width="3" height="1" fill="#ef5350"/>
<rect x="316" y="413" width="1" height="9" fill="#26a69a"/>
<rect x="315" y="415" width="3" height="6" fill="#26a69a"/>
<rect x="319" y="407" width="1" height="12" fill="#26a69a"/>
<rect x="318" y="411" width="3" height="5" fill="#26a69a"/>
<rect x="323" y="405" width="1" height="17" fill="#ef5350"/>
<rect x="322" y="411" width="3" height="7" fill="#ef5350"/>
<rect x="326" y="416" width="1" height="14" fill="#ef5350"/>
<rect x="325" y="417" width="3" height="10" fill="#ef5350"/>
<rect x="330" y="423" width="1" height="18" fill="#ef5350"/>
<rect x="329" y="426" width="3" height="6" fill="#ef5350"/>
<rect x="334" y="426" width="1" height="10" fill="#ef5350"/>
<rect x="333" y="431" width="3" height="1" fill="#ef5350"/>
<rect x="337" y="426" width="1" height="7" fill="#26a69a"/>
<rect x="336" y="429" width="3" height="3" fill="#26a69a"/>
<rect x="341" y="415" width="1" height="15" fill="#26a69a"/>
<rect x="340" y="424" width="3" height="6" fill="#26a69a"/>
<rect x="344" y="417" width="1" height="11" fill="#ef5350"/>
<rect x="343" y="424" width="3" height="2" fill="#ef5350"/>
<rect x="348" y="416" width="1" height="14" fill="#ef5350"/>
<rect x="347" y="425" width="3" height="5" fill="#ef5350"/>
<rect x="352" y="422" width="1" height="16" fill="#ef5350"/>
<rect x="351" y="428" width="3" height="5" fill="#ef5350"/>
<rect x="355" y="426" width="1" height="12" fill="#ef5350"/>
<rect x="354" y="432" width="3" height="1" fill="#ef5350"/>
<rect x="359" y="427" width="1" height="10" fill="#ef5350"/>
<rect x="358" y="433" width="3" height="1" fill="#ef5350"/>
<rect x="362" y="429" width="1" height="21" fill="#ef5350"/>
<rect x="361" y="434" width="3" height="9" fill="#ef5350"/>
<rect x="366" y="430" width="1" height="17" fill="#26a69a"/>
<rect x="365" y="431" width="3" height="12" fill="#26a69a"/>
<rect x="370" y="425" width="1" height="12" fill="#26a69a"/>
<rect x="369" y="429" width="3" height="3" fill="#26a69a"/>
<rect x="373" y="424" width="1" height="10" fill="#ef5350"/>
<rect x="372" y="429" width="3" height="4" fill="#ef5350"/>
<rect x="377" y="425" width="1" height="9" fill="#ef5350"/>
<rect x="376" y="432" width="3" height="1" fill="#ef5350"/>
<rect x="380" y="430" width="1" height="9" fill="#ef5350"/>
<rect x="379" y="432" width="3" height="4" fill="#ef5350"/>
<rect x="384" y="427" width="1" height="11" fill="#26a69a"/>
<rect x="383" y="433" width="3" height="3" fill="#26a69a"/>
<rect x="388" y="422" width="1" height="14" fill="#26a69a"/>
<rect x="387" y="430" width="3" height="4" fill="#26a69a"/>
<rect x="391" y="420" width="1" height="12" fill="#26a69a"/>
<rect x="390" y="421" width="3" height="9" fill="#26a69a"/>
<rect x="395" y="420" width="1" height="14" fill="#ef5350"/>
<rect x="394" y="421" width="3" height="12" fill="#ef5350"/>
<rect x="398" y="420" width="1" height="14" fill="#26a69a"/>
<rect x="397" y="424" width="3" height="9" fill="#26a69a"/>
<rect x="402" y="411" width="1" height="19" fill="#ef5350"/>
<rect x="401" y="424" width="3" height="1" fill="#ef5350"/>
<rect x="406" y="422" width="1" height="10" fill="#ef5350"/>
<rect x="405" y="425" width="3" height="6" fill="#ef5350"/>
<rect x="409" y="426" width="1" height="6" fill="#26a69a"/>
<rect x="408" y="427" width="3" height="4" fill="#26a69a"/>
<rect x="413" y="423" width="1" height="8" fill="#26a69a"/>
<rect x="412" y="426" width="3" height="3" fill="#26a69a"/>
<rect x="416" y="419" width="1" height="12" fill="#ef5350"/>
<rect x="415" y="426" width="3" height="4" fill="#ef5350"/>
<rect x="420" y="424" width="1" height="10" fill="#26a69a"/>
<rect x="419" y="426" width="3" height="3" fill="#26a69a"/>
<rect x="424" y="419" width="1" height="11" fill="#26a69a"/>
<rect x="423" y="421" width="3" height="7" fill="#26a69a"/>
<rect x="427" y="415" width="1" height="10" fill="#ef5350"/>
<rect x="426" y="421" width="3" height="1" fill="#ef5350"/>
<rect x="431" y="416" width="1" height="7" fill="#26a69a"/>
<rect x="430" y="417" width="3" height="5" fill="#26a69a"/>
<rect x="434" y="413" width="1" height="7" fill="#26a69a"/>
<rect x="433" y="415" width="3" height="4" fill="#26a69a"/>
<rect x="438" y="408" width="1" height="10" fill="#26a69a"/>
<rect x="437" y="413" width="3" height="3" fill="#26a69a"/>
<rect x="442" y="396" width="1" height="18" fill="#26a69a"/>
<rect x="441" y="406" width="3" height="7" fill="#26a69a"/>
<rect x="445" y="406" width="1" height="11" fill="#ef5350"/>
<rect x="444" y="406" width="3" height="10" fill="#ef5350"/>
<rect x="449" y="411" width="1" height="11" fill="#ef5350"/>
<rect x="448" y="415" width="3" height="2" fill="#ef5350"/>
<rect x="452" y="405" width="1" height="13" fill="#26a69a"/>
<rect x="451" y="412" width="3" height="6" fill="#26a69a"/>
<rect x="456" y="409" width="1" height="18" fill="#ef5350"/>
<rect x="455" y="412" width="3" height="12" fill="#ef5350"/>
<rect x="459" y="420" width="1" height="7" fill="#26a69a"/>
<rect x="458" y="423" width="3" height="1" fill="#26a69a"/>
<rect x="463" y="418" width="1" height="6" fill="#26a69a"/>
<rect x="462" y="420" width="3" height="4" fill="#26a69a"/>
<rect x="467" y="415" width="1" height="16" fill="#ef5350"/>
<rect x="466" y="421" width="3" height="5" fill="#ef5350"/>
<rect x="470" y="420" width="1" height="9" fill="#26a69a"/>
<rect x="469" y="421" width="3" height="5" fill="#26a69a"/>
<rect x="474" y="418" width="1" height="17" fill="#ef5350"/>
<rect x="473" y="421" width="3" height="9" fill="#ef5350"/>
<rect x="477" y="418" width="1" height="16" fill="#26a69a"/>
<rect x="476" y="420" width="3" height="10" fill="#26a69a"/>
<rect x="481" y="411" width="1" height="16" fill="#ef5350"/>
<rect x="480" y="420" width="3" height="6" fill="#ef5350"/>
<rect x="485" y="418" width="1" height="8" fill="#ef5350"/>
<rect x="484" y="422" width="3" height="1" fill="#ef5350"/>
<rect x="488" y="418" width="1" height="7" fill="#26a69a"/>
<rect x="487" y="421" width="3" height="3" fill="#26a69a"/>
<rect x="492" y="416" width="1" height="14" fill="#ef5350"/>
<rect x="491" y="421" width="3" height="9" fill="#ef5350"/>
<rect x="495" y="421" width="1" height="10" fill="#ef5350"/>
<rect x="494" y="429" width="3" height="1" fill="#ef5350"/>
<rect x="499" y="426" width="1" height="12" fill="#ef5350"/>
<rect x="498" y="430" width="3" height="5" fill="#ef5350"/>
<rect x="503" y="427" width="1" height="12" fill="#ef5350"/>
<rect x="502" y="434" width="3" height="2" fill="#ef5350"/>
<rect x="506" y="434" width="1" height="10" fill="#ef5350"/>
<rect x="505" y="436" width="3" height="8" fill="#ef5350"/>
<rect x="510" y="441" width="1" height="8" fill="#ef5350"/>
<rect x="509" y="443" width="3" height="1" fill="#ef5350"/>
<rect x="513" y="437" width="1" height="9" fill="#26a69a"/>
<rect x="512" y="437" width="3" height="8" fill="#26a69a"/>
<rect x="517" y="429" width="1" height="9" fill="#26a69a"/>
<rect x="516" y="437" width="3" height="1" fill="#26a69a"/>
<rect x="521" y="436" width="1" height="14" fill="#ef5350"/>
<rect x="520" y="437" width="3" height="11" fill="#ef5350"/>
<rect x="524" y="444" width="1" height="14" fill="#ef5350"/>
<rect x="523" y="447" width="3" height="6" fill="#ef5350"/>
<rect x="528" y="450" width="1" height="32" fill="#ef5350"/>
<rect x="527" y="452" width="3" height="15" fill="#ef5350"/>
<rect x="531" y="458" width="1" height="17" fill="#26a69a"/>
<rect x="530" y="461" width="3" height="6" fill="#26a69a"/>
<rect x="535" y="452" width="1" height="13" fill="#ef5350"/>
<rect x="534" y="461" width="3" height="1" fill="#ef5350"/>
<rect x="539" y="455" width="1" height="16" fill="#ef5350"/>
<rect x="538" y="461" width="3" height="6" fill="#ef5350"/>
<rect x="542" y="457" width="1" height="11" fill="#ef5350"/>
<rect x="541" y="465" width="3" height="1" fill="#ef5350"/>
<rect x="546" y="466" width="1" height="22" fill="#ef5350"/>
<rect x="545" y="466" width="3" height="13" fill="#ef5350"/>
<rect x="549" y="472" width="1" height="11" fill="#ef5350"/>
<rect x="548" y="478" width="3" height="1" fill="#ef5350"/>
<rect x="553" y="473" width="1" height="15" fill="#ef5350"/>
<rect x="552" y="479" width="3" height="8" fill="#ef5350"/>
<rect x="557" y="482" width="1" height="11" fill="#ef5350"/>
<rect x="556" y="486" width="3" height="5" fill="#ef5350"/>
<rect x="560" y="473" width="1" height="20" fill="#26a69a"/>
<rect x="559" y="478" width="3" height="14" fill="#26a69a"/>
<rect x="564" y="461" width="1" height="18" fill="#26a69a"/>
<rect x="563" y="464" width="3" height="15" fill="#26a69a"/>
<rect x="567" y="454" width="1" height="14" fill="#26a69a"/>
<rect x="566" y="456" width="3" height="9" fill="#26a69a"/>
<rect x="571" y="453" width="1" height="20" fill="#ef5350"/>
<rect x="570" y="456" width="3" height="16" fill="#ef5350"/>
<rect x="575" y="462" width="1" height="19" fill="#ef5350"/>
<rect x="574" y="471" width="3" height="5" fill="#ef5350"/>
<rect x="578" y="460" width="1" height="17" fill="#26a69a"/>
<rect x="577" y="472" width="3" height="4" fill="#26a69a"/>
<rect x="582" y="461" width="1" height="15" fill="#26a69a"/>
<rect x="581" y="462" width="3" height="11" fill="#26a69a"/>
<rect x="585" y="460" width="1" height="13" fill="#ef5350"/>
<rect x="584" y="462" width="3" height="6" fill="#ef5350"/>
<rect x="589" y="451" width="1" height="17" fill="#26a69a"/>
<rect x="588" y="459" width="3" height="9" fill="#26a69a"/>
<rect x="593" y="457" width="1" height="12" fill="#ef5350"/>
<rect x="592" y="458" width="3" height="10" fill="#ef5350"/>
<rect x="596" y="451" width="1" height="20" fill="#26a69a"/>
<rect x="595" y="457" width="3" height="11" fill="#26a69a"/>
<rect x="600" y="456" width="1" height="11" fill="#ef5350"/>
<rect x="599" y="457" width="3" height="6" fill="#ef5350"/>
<rect x="603" y="458" width="1" height="10" fill="#ef5350"/>
<rect x="602" y="461" width="3" height="6" fill="#ef5350"/>
<rect x="607" y="466" width="1" height="9" fill="#ef5350"/>
<rect x="606" y="466" width="3" height="5" fill="#ef5350"/>
<rect x="611" y="465" width="1" height="11" fill="#ef5350"/>
<rect x="610" y="470" width="3" height="4" fill="#ef5350"/>
<rect x="614" y="466" width="1" height="8" fill="#26a69a"/>
<rect x="613" y="470" width="3" height="4" fill="#26a69a"/>
<rect x="618" y="465" width="1" height="9" fill="#ef5350"/>
<rect x="617" y="470" width="3" height="3" fill="#ef5350"/>
<rect x="621" y="463" width="1" height="10" fill="#26a69a"/>
<rect x="620" y="464" width="3" height="9" fill="#26a69a"/>
<rect x="625" y="461" width="1" height="7" fill="#26a69a"/>
<rect x="624" y="463" width="3" height="1" fill="#26a69a"/>
<rect x="628" y="460" width="1" height="8" fill="#ef5350"/>
<rect x="627" y="463" width="3" height="2" fill="#ef5350"/>
<rect x="632" y="462" width="1" height="7" fill="#ef5350"/>
<rect x="631" y="464" width="3" height="1" fill="#ef5350"/>
<rect x="636" y="462" width="1" height="6" fill="#ef5350"/>
<rect x="635" y="464" width="3" height="1" fill="#ef5350"/>
<rect x="639" y="460" width="1" height="7" fill="#26a69a"/>
<rect x="638" y="462" width="3" height="4" fill="#26a69a"/>
<rect x="643" y="461" width="1" height="7" fill="#ef5350"/>
<rect x="642" y="462" width="3" height="5" fill="#ef5350"/>
<rect x="646" y="460" width="1" height="7" fill="#26a69a"/>
<rect x="645" y="465" width="3" height="1" fill="#26a69a"/>
<rect x="650" y="462" width="1" height="5" fill="#26a69a"/>
<rect x="649" y="465" width="3" height="1" fill="#26a69a"/>
<rect x="654" y="461" width="1" height="5" fill="#26a69a"/>
<rect x="653" y="464" width="3" height="1" fill="#26a69a"/>
<rect x="657" y="453" width="1" height="12" fill="#26a69a"/>
<rect x="656" y="453" width="3" height="11" fill="#26a69a"/>
<rect x="661" y="448" width="1" height="6" fill="#26a69a"/>
<rect x="660" y="452" width="3" height="2" fill="#26a69a"/>
<rect x="664" y="433" width="1" height="20" fill="#26a69a"/>
<rect x="663" y="436" width="3" height="17" fill="#26a69a"/>
<rect x="668" y="434" width="1" height="11" fill="#ef5350"/>
<rect x="667" y="436" width="3" height="1" fill="#ef5350"/>
<rect x="672" y="418" width="1" height="20" fill="#26a69a"/>
<rect x="671" y="426" width="3" height="11" fill="#26a69a"/>
<rect x="675" y="425" width="1" height="25" fill="#ef5350"/>
<rect x="674" y="425" width="3" height="16" fill="#ef5350"/>
<rect x="679" y="438" width="1" height="9" fill="#ef5350"/>
<rect x="678" y="440" width="3" height="2" fill="#ef5350"/>
<rect x="682" y="438" width="1" height="9" fill="#ef5350"/>
<rect x="681" y="442" width="3" height="5" fill="#ef5350"/>
<rect x="686" y="441" width="1" height="6" fill="#26a69a"/>
<rect x="685" y="441" width="3" height="6" fill="#26a69a"/>
<rect x="690" y="440" width="1" height="8" fill="#ef5350"/>
<rect x="689" y="441" width="3" height="7" fill="#ef5350"/>
<rect x="693" y="439" width="1" height="16" fill="#ef5350"/>
<rect x="692" y="447" width="3" height="3" fill="#ef5350"/>
<rect x="697" y="443" width="1" height="10" fill="#26a69a"/>
<rect x="696" y="448" width="3" height="2" fill="#26a69a"/>
<rect x="700" y="439" width="1" height="10" fill="#26a69a"/>
<rect x="699" y="446" width="3" height="3" fill="#26a69a"/>
<rect x="704" y="440" width="1" height="11" fill="#ef5350"/>
<rect x="703" y="446" width="3" height="5" fill="#ef5350"/>
<rect x="708" y="442" width="1" height="10" fill="#ef5350"/>
<rect x="707" y="448" width="3" height="3" fill="#ef5350"/>
<rect x="711" y="446" width="1" height="7" fill="#ef5350"/>
<rect x="710" y="450" width="3" height="1" fill="#ef5350"/>
<rect x="715" y="446" width="1" height="8" fill="#26a69a"/>
<rect x="714" y="448" width="3" height="4" fill="#26a69a"/>
<rect x="718" y="446" width="1" height="7" fill="#26a69a"/>
<rect x="717" y="446" width="3" height="3" fill="#26a69a"/>
<rect x="722" y="441" width="1" height="9" fill="#26a69a"/>
<rect x="721" y="444" width="3" height="3" fill="#26a69a"/>
<rect x="726" y="424" width="1" height="24" fill="#26a69a"/>
<rect x="725" y="431" width="3" height="14" fill="#26a69a"/>
<rect x="729" y="408" width="1" height="25" fill="#26a69a"/>
<rect x="728" y="415" width="3" height="17" fill="#26a69a"/>
<rect x="733" y="410" width="1" height="15" fill="#ef5350"/>
<rect x="732" y="415" width="3" height="9" fill="#ef5350"/>
<rect x="736" y="417" width="1" height="9" fill="#26a69a"/>
<rect x="735" y="417" width="3" height="7" fill="#26a69a"/>
<rect x="740" y="408" width="1" height="22" fill="#ef5350"/>
<rect x="739" y="417" width="3" height="8" fill="#ef5350"/>
<rect x="744" y="420" width="1" height="14" fill="#ef5350"/>
<rect x="743" y="424" width="3" height="10" fill="#ef5350"/>
<rect x="747" y="419" width="1" height="15" fill="#26a69a"/>
<rect x="746" y="426" width="3" height="8" fill="#26a69a"/>
<rect x="751" y="407" width="1" height="24" fill="#26a69a"/>
<rect x="750" y="414" width="3" height="13" fill="#26a69a"/>
<rect x="754" y="402" width="1" height="17" fill="#26a69a"/>
<rect x="753" y="408" width="3" height="7" fill="#26a69a"/>
<rect x="758" y="405" width="1" height="62" fill="#ef5350"/>
<rect x="757" y="408" width="3" height="39" fill="#ef5350"/>
<rect x="762" y="432" width="1" height="21" fill="#26a69a"/>
<rect x="761" y="442" width="3" height="5" fill="#26a69a"/>
<rect x="765" y="429" width="1" height="18" fill="#26a69a"/>
<rect x="764" y="437" width="3" height="6" fill="#26a69a"/>
<rect x="769" y="427" width="1" height="12" fill="#26a69a"/>
<rect x="768" y="433" width="3" height="5" fill="#26a69a"/>
<rect x="772" y="430" width="1" height="12" fill="#26a69a"/>
<rect x="771" y="431" width="3" height="3" fill="#26a69a"/>
<rect x="776" y="417" width="1" height="16" fill="#26a69a"/>
<rect x="775" y="427" width="3" height="6" fill="#26a69a"/>
<rect x="779" y="424" width="1" height="18" fill="#ef5350"/>
<rect x="778" y="427" width="3" height="15" fill="#ef5350"/>
<rect x="783" y="439" width="1" height="18" fill="#ef5350"/>
<rect x="782" y="441" width="3" height="6" fill="#ef5350"/>
<rect x="787" y="428" width="1" height="21" fill="#26a69a"/>
<rect x="786" y="435" width="3" height="14" fill="#26a69a"/>
<rect x="790" y="425" width="1" height="11" fill="#26a69a"/>
<rect x="789" y="429" width="3" height="7" fill="#26a69a"/>
<rect x="794" y="422" width="1" height="13" fill="#ef5350"/>
<rect x="793" y="429" width="3" height="6" fill="#ef5350"/>
<rect x="797" y="427" width="1" height="13" fill="#ef5350"/>
<rect x="796" y="434" width="3" height="4" fill="#ef5350"/>
<rect x="801" y="431" width="1" height="7" fill="#26a69a"/>
<rect x="800" y="431" width="3" height="7" fill="#26a69a"/>
<rect x="805" y="407" width="1" height="26" fill="#26a69a"/>
<rect x="804" y="423" width="3" height="9" fill="#26a69a"/>
<rect x="808" y="416" width="1" height="8" fill="#26a69a"/>
<rect x="807" y="419" width="3" height="4" fill="#26a69a"/>
<rect x="812" y="408" width="1" height="15" fill="#26a69a"/>
<rect x="811" y="415" width="3" height="5" fill="#26a69a"/>
<rect x="815" y="400" width="1" height="16" fill="#26a69a"/>
<rect x="814" y="404" width="3" height="12" fill="#26a69a"/>
<rect x="819" y="401" width="1" height="12" fill="#ef5350"/>
<rect x="818" y="404" width="3" height="6" fill="#ef5350"/>
<rect x="823" y="405" width="1" height="11" fill="#ef5350"/>
<rect x="822" y="409" width="3" height="6" fill="#ef5350"/>
<rect x="826" y="405" width="1" height="12" fill="#26a69a"/>
<rect x="825" y="413" width="3" height="1" fill="#26a69a"/>
<rect x="830" y="409" width="1" height="18" fill="#ef5350"/>
<rect x="829" y="413" width="3" height="11" fill="#ef5350"/>
<rect x="833" y="413" width="1" height="13" fill="#26a69a"/>
<rect x="832" y="414" width="3" height="10" fill="#26a69a"/>
<rect x="837" y="398" width="1" height="19" fill="#26a69a"/>
<rect x="836" y="403" width="3" height="12" fill="#26a69a"/>
<rect x="841" y="390" width="1" height="20" fill="#ef5350"/>
<rect x="840" y="403" width="3" height="1" fill="#ef5350"/>
<rect x="844" y="399" width="1" height="18" fill="#ef5350"/>
<rect x="843" y="404" width="3" height="3" fill="#ef5350"/>
<rect x="848" y="400" width="1" height="20" fill="#ef5350"/>
<rect x="847" y="406" width="3" height="6" fill="#ef5350"/>
<rect x="851" y="379" width="1" height="42" fill="#26a69a"/>
<rect x="850" y="408" width="3" height="4" fill="#26a69a"/>
<rect x="855" y="392" width="1" height="19" fill="#26a69a"/>
<rect x="854" y="393" width="3" height="16" fill="#26a69a"/>
<rect x="859" y="381" width="1" height="19" fill="#26a69a"/>
<rect x="858" y="388" width="3" height="6" fill="#26a69a"/>
<rect x="862" y="383" width="1" height="15" fill="#ef5350"/>
<rect x="861" y="389" width="3" height="1" fill="#ef5350"/>
<rect x="866" y="308" width="1" height="83" fill="#26a69a"/>
<rect x="865" y="349" width="3" height="41" fill="#26a69a"/>
<rect x="869" y="341" width="1" height="39" fill="#ef5350"/>
<rect x="868" y="350" width="3" height="24" fill="#ef5350"/>
<rect x="873" y="366" width="1" height="28" fill="#ef5350"/>
<rect x="872" y="373" width="3" height="16" fill="#ef5350"/>
<rect x="877" y="368" width="1" height="21" fill="#26a69a"/>
<rect x="876" y="372" width="3" height="17" fill="#26a69a"/>
<rect x="880" y="360" width="1" height="25" fill="#ef5350"/>
<rect x="879" y="372" width="3" height="3" fill="#ef5350"/>
<rect x="884" y="361" width="1" height="20" fill="#26a69a"/>
<rect x="883" y="369" width="3" height="6" fill="#26a69a"/>
<rect x="887" y="333" width="1" height="38" fill="#26a69a"/>
<rect x="886" y="349" width="3" height="22" fill="#26a69a"/>
<rect x="891" y="334" width="1" height="42" fill="#ef5350"/>
<rect x="890" y="349" width="3" height="9" fill="#ef5350"/>
<rect x="895" y="347" width="1" height="22" fill="#ef5350"/>
<rect x="894" y="357" width="3" height="2" fill="#ef5350"/>
<rect x="898" y="352" width="1" height="18" fill="#ef5350"/>
<rect x="897" y="359" width="3" height="3" fill="#ef5350"/>
<rect x="902" y="360" width="1" height="40" fill="#ef5350"/>
<rect x="901" y="361" width="3" height="28" fill="#ef5350"/>
<rect x="905" y="381" width="1" height="32" fill="#ef5350"/>
<rect x="904" y="388" width="3" height="22" fill="#ef5350"/>
<rect x="909" y="399" width="1" height="27" fill="#ef5350"/>
<rect x="908" y="409" width="3" height="5" fill="#ef5350"/>
<rect x="913" y="384" width="1" height="30" fill="#26a69a"/>
<rect x="912" y="387" width="3" height="27" fill="#26a69a"/>
<rect x="916" y="355" width="1" height="33" fill="#26a69a"/>
<rect x="915" y="372" width="3" height="16" fill="#26a69a"/>
<rect x="920" y="368" width="1" height="11" fill="#ef5350"/>
<rect x="919" y="372" width="3" height="1" fill="#ef5350"/>
<rect x="923" y="362" width="1" height="25" fill="#ef5350"/>
<rect x="922" y="373" width="3" height="3" fill="#ef5350"/>
<rect x="927" y="358" width="1" height="18" fill="#26a69a"/>
<rect x="926" y="364" width="3" height="12" fill="#26a69a"/>
<rect x="930" y="353" width="1" height="18" fill="#26a69a"/>
<rect x="929" y="355" width="3" height="10" fill="#26a69a"/>
<rect x="934" y="348" width="1" height="14" fill="#26a69a"/>
<rect x="933" y="354" width="3" height="2" fill="#26a69a"/>
<rect x="938" y="348" width="1" height="10" fill="#26a69a"/>
<rect x="937" y="353" width="3" height="1" fill="#26a69a"/>
<rect x="941" y="331" width="1" height="26" fill="#26a69a"/>
<rect x="940" y="333" width="3" height="21" fill="#26a69a"/>
<rect x="945" y="331" width="1" height="40" fill="#ef5350"/>
<rect x="944" y="333" width="3" height="27" fill="#ef5350"/>
<rect x="948" y="341" width="1" height="33" fill="#ef5350"/>
<rect x="947" y="359" width="3" height="7" fill="#ef5350"/>
<rect x="952" y="349" width="1" height="20" fill="#26a69a"/>
<rect x="951" y="357" width="3" height="9" fill="#26a69a"/>
<rect x="956" y="354" width="1" height="9" fill="#ef5350"/>
<rect x="955" y="357" width="3" height="5" fill="#ef5350"/>
<rect x="959" y="358" width="1" height="12" fill="#ef5350"/>
<rect x="958" y="361" width="3" height="4" fill="#ef5350"/>
<rect x="963" y="363" width="1" height="8" fill="#ef5350"/>
<rect x="962" y="364" width="3" height="5" fill="#ef5350"/>
<rect x="966" y="368" width="1" height="26" fill="#ef5350"/>
<rect x="965" y="369" width="3" height="25" fill="#ef5350"/>
<rect x="970" y="377" width="1" height="17" fill="#26a69a"/>
<rect x="969" y="383" width="3" height="11" fill="#26a69a"/>
<rect x="974" y="371" width="1" height="23" fill="#26a69a"/>
<rect x="973" y="372" width="3" height="12" fill="#26a69a"/>
<rect x="977" y="354" width="1" height="20" fill="#26a69a"/>
<rect x="976" y="360" width="3" height="13" fill="#26a69a"/>
<rect x="981" y="350" width="1" height="15" fill="#26a69a"/>
<rect x="980" y="358" width="3" height="3" fill="#26a69a"/>
<rect x="984" y="348" width="1" height="19" fill="#ef5350"/>
<rect x="983" y="358" width="3" height="2" fill="#ef5350"/>
<rect x="988" y="348" width="1" height="12" fill="#26a69a"/>
<rect x="987" y="352" width="3" height="8" fill="#26a69a"/>
<rect x="992" y="347" width="1" height="11" fill="#ef5350"/>
<rect x="991" y="352" width="3" height="5" fill="#ef5350"/>
<rect x="995" y="351" width="1" height="13" fill="#26a69a"/>
<rect x="994" y="356" width="3" height="1" fill="#26a69a"/>
<rect x="999" y="337" width="1" height="22" fill="#26a69a"/>
<rect x="998" y="340" width="3" height="17" fill="#26a69a"/>
<rect x="1002" y="332" width="1" height="18" fill="#ef5350"/>
<rect x="1001" y="340" width="3" height="10" fill="#ef5350"/>
<rect x="1006" y="326" width="1" height="32" fill="#ef5350"/>
<rect x="1005" y="350" width="3" height="3" fill="#ef5350"/>
<rect x="1010" y="326" width="1" height="27" fill="#26a69a"/>
<rect x="1009" y="332" width="3" height="21" fill="#26a69a"/>
<rect x="1013" y="287" width="1" height="49" fill="#26a69a"/>
<rect x="1012" y="305" width="3" height="28" fill="#26a69a"/>
<rect x="1017" y="304" width="1" height="16" fill="#ef5350"/>
<rect x="1016" y="305" width="3" height="3" fill="#ef5350"/>
<rect x="1020" y="298" width="1" height="25" fill="#ef5350"/>
<rect x="1019" y="308" width="3" height="6" fill="#ef5350"/>
<rect x="1024" y="312" width="1" height="26" fill="#ef5350"/>
<rect x="1023" y="314" width="3" height="12" fill="#ef5350"/>
<rect x="1028" y="324" width="1" height="20" fill="#ef5350"/>
<rect x="1027" y="326" width="3" height="11" fill="#ef5350"/>
<rect x="1031" y="326" width="1" height="12" fill="#26a69a"/>
<rect x="1030" y="329" width="3" height="9" fill="#26a69a"/>
<rect x="1035" y="324" width="1" height="11" fill="#26a69a"/>
<rect x="1034" y="328" width="3" height="2" fill="#26a69a"/>
<rect x="1038" y="314" width="1" height="15" fill="#26a69a"/>
<rect x="1037" y="322" width="3" height="7" fill="#26a69a"/>
<rect x="1042" y="314" width="1" height="17" fill="#ef5350"/>
<rect x="1041" y="322" width="3" height="1" fill="#ef5350"/>
<rect x="1046" y="315" width="1" height="20" fill="#ef5350"/>
<rect x="1045" y="322" width="3" height="13" fill="#ef5350"/>
<rect x="1049" y="331" width="1" height="11" fill="#26a69a"/>
<rect x="1048" y="333" width="3" height="1" fill="#26a69a"/>
<rect x="1053" y="329" width="1" height="9" fill="#ef5350"/>
<rect x="1052" y="333" width="3" height="4" fill="#ef5350"/>
<rect x="1056" y="336" width="1" height="16" fill="#ef5350"/>
<rect x="1055" y="337" width="3" height="11" fill="#ef5350"/>
<rect x="1060" y="342" width="1" height="12" fill="#26a69a"/>
<rect x="1059" y="344" width="3" height="4" fill="#26a69a"/>
<rect x="1064" y="334" width="1" height="13" fill="#26a69a"/>
<rect x="1063" y="336" width="3" height="9" fill="#26a69a"/>
<rect x="1067" y="331" width="1" height="19" fill="#ef5350"/>
<rect x="1066" y="336" width="3" height="14" fill="#ef5350"/>
<rect x="1071" y="332" width="1" height="18" fill="#26a69a"/>
<rect x="1070" y="336" width="3" height="14" fill="#26a69a"/>
<rect x="1074" y="324" width="1" height="13" fill="#26a69a"/>
<rect x="1073" y="331" width="3" height="5" fill="#26a69a"/>
<rect x="1078" y="319" width="1" height="20" fill="#ef5350"/>
<rect x="1077" y="331" width="3" height="5" fill="#ef5350"/>
<rect x="1082" y="306" width="1" height="33" fill="#26a69a"/>
<rect x="1081" y="323" width="3" height="13" fill="#26a69a"/>
<rect x="1085" y="313" width="1" height="12" fill="#ef5350"/>
<rect x="1084" y="322" width="3" height="2" fill="#ef5350"/>
<rect x="1089" y="307" width="1" height="20" fill="#26a69a"/>
<rect x="1088" y="307" width="3" height="18" fill="#26a69a"/>
<rect x="1092" y="236" width="1" height="72" fill="#26a69a"/>
<rect x="1091" y="239" width="3" height="69" fill="#26a69a"/>
<rect x="1096" y="176" width="1" height="68" fill="#26a69a"/>
<rect x="1095" y="183" width="3" height="57" fill="#26a69a"/>
<rect x="1099" y="134" width="1" height="58" fill="#26a69a"/>
<rect x="1098" y="147" width="3" height="37" fill="#26a69a"/>
<rect x="1103" y="54" width="1" height="102" fill="#26a69a"/>
<rect x="1102" y="123" width="3" height="25" fill="#26a69a"/>
<rect x="1107" y="89" width="1" height="75" fill="#ef5350"/>
<rect x="1106" y="123" width="3" height="25" fill="#ef5350"/>
<rect x="1110" y="116" width="1" height="79" fill="#ef5350"/>
<rect x="1109" y="148" width="3" height="46" fill="#ef5350"/>
<rect x="1114" y="176" width="1" height="46" fill="#ef5350"/>
<rect x="1113" y="192" width="3" height="26" fill="#ef5350"/>
<rect x="1117" y="194" width="1" height="51" fill="#ef5350"/>
<rect x="1116" y="217" width="3" height="14" fill="#ef5350"/>
<rect x="1121" y="169" width="1" height="89" fill="#26a69a"/>
<rect x="1120" y="190" width="3" height="41" fill="#26a69a"/>
<rect x="1125" y="187" width="1" height="102" fill="#ef5350"/>
<rect x="1124" y="190" width="3" height="95" fill="#ef5350"/>
<rect x="1128" y="250" width="1" height="52" fill="#26a69a"/>
<rect x="1127" y="268" width="3" height="17" fill="#26a69a"/>
<rect x="1132" y="260" width="1" height="31" fill="#ef5350"/>
<rect x="1131" y="268" width="3" height="6" fill="#ef5350"/>
<rect x="1135" y="258" width="1" height="22" fill="#ef5350"/>
<rect x="1134" y="273" width="3" height="4" fill="#ef5350"/>
<rect x="1139" y="262" width="1" height="24" fill="#ef5350"/>
<rect x="1138" y="276" width="3" height="6" fill="#ef5350"/>
<rect x="1143" y="279" width="1" height="49" fill="#ef5350"/>
<rect x="1142" y="283" width="3" height="42" fill="#ef5350"/>
<rect x="1146" y="303" width="1" height="25" fill="#26a69a"/>
<rect x="1145" y="315" width="3" height="10" fill="#26a69a"/>
<rect x="1150" y="300" width="1" height="21" fill="#26a69a"/>
<rect x="1149" y="309" width="3" height="7" fill="#26a69a"/>
<rect x="1153" y="296" width="1" height="18" fill="#26a69a"/>
<rect x="1152" y="300" width="3" height="9" fill="#26a69a"/>
<line x1="10" y1="300.4" x2="1251" y2="300.4" stroke="#26a69a" stroke-width="1.2" stroke-dasharray="1.2 1.8"/>
<g transform="translate(1153.2,544.2)"><circle r="9.3" fill="none" stroke="#9c27b0" stroke-width="1.4" stroke-dasharray="50 8.4" transform="rotate(-33)"/><path d="M1.8,-5.6 L-4.2,1 L-0.6,1 L-1.8,5.6 L4.2,-1 L0.6,-1 Z" fill="#9c27b0"/><circle cx="7.1" cy="-6.5" r="2.7" fill="#f23645"/></g>
</g>
<g clip-path="url(#cr)">
<rect x="10" y="611.7" width="1241.5" height="91.6" fill="rgba(126,87,194,0.1)"/>
<polygon points="10.87,611.4 10.87,670.45 14.47,664.38 18.06,669.84 21.66,671.91 25.26,664.38 28.85,659.52 32.45,657.69 36.04,652.23 39.64,648.58 43.23,647.98 46.83,641.9 50.42,637.9 54.02,657.09 57.61,661.34 61.21,654.9 64.8,661.34 68.4,657.69 72,662.55 75.59,661.34 79.19,661.95 82.78,666.2 86.38,694.74 89.97,680.17 93.57,695.35 97.16,675.91 100.76,678.34 104.35,664.38 107.95,664.38 111.54,672.27 115.14,648.58 118.73,646.85 121.64,641.99 125.9,646.85 129.17,649.88 132.58,646.85 136.46,653.77 139.86,649.88 143.14,627.41 147.15,624.01 150.43,631.42 154.44,630.45 158.08,624.98 161.12,615.87 164.76,592.79 168.41,584.9 172.05,581.62 174.84,598.87 178.73,592.19 183.35,600.69 186.99,598.87 190.63,596.44 193.31,593.04 196.95,603.48 200.59,592.55 203.63,583.08 208.49,579.68 212.13,577.37 215.78,575.55 219.06,573.97 222.46,578.83 225.86,587.33 228.77,591.82 229.21,591.82 233.71,590 237.35,589.15 241,584.9 243.79,581.86 247.07,566.68 251.08,582.23 255.33,579.43 258.97,575.79 262.25,572.51 264.44,590.97 266.87,618.3 269.9,638.95 270.15,638.22 273.18,652.19 276.83,660.08 280.47,668.58 283.51,667.98 290.19,644.05 294.44,656.44 297.48,674.05 302.33,669.8 307.8,663.12 312.05,663.73 315.69,659.48 318.73,654.01 322.38,659.48 325.41,669.8 329.66,674.05 333.91,674.66 337.56,671.99 341.2,665.55 345.45,667.61 348.49,671.01 352.13,675.27 355.17,675.87 358.81,677.09 361.85,688.02 365.49,668.58 369.75,665.55 372.78,668.58 376.43,668.95 380.15,672.88 383.79,668.63 387.43,663.77 391.08,646.16 394.96,667.41 398.37,652.84 402.62,654.66 406.26,663.16 409.9,658.3 412.94,655.27 416.58,660.12 420.23,658.3 423.87,646.16 427.52,645.55 431.16,639.48 434.8,634.62 438.45,630.37 442.09,622.11 445.13,641.9 448.77,645.91 451.81,637.9 455.7,662.19 459.1,660.12 463.35,657.09 467.36,664.38 470.27,655.63 473.92,671.06 477.32,654.05 481.57,659.52 485.21,659.52 488.32,654.9 491.97,668.87 495.61,670.69 499.26,676.76 502.9,679.8 506.54,690.73 509.82,692.55 513.22,675.55 516.87,675.18 520.51,689.52 524.16,696.8 527.8,711.38 530.84,698.63 535.09,698.26 539.34,703.24 542.38,703.73 546.02,715.02 549.66,716.24 553.31,721.1 556.95,724.74 560.59,690.73 564.24,668.26 567.27,658.54 570.92,676.16 574.56,679.8 578.21,675.55 581.85,661.82 584.89,667.05 588.77,656.48 592.78,666.44 595.9,653.77 599.54,657.41 603.18,664.7 606.22,668.34 609.86,672.35 613.51,669.56 617.76,670.77 620.79,658.26 625.65,658.26 630.51,658.38 635.98,659.84 639.01,655.35 643.27,664.09 646.3,662.88 649.95,659.84 654.2,656.8 657.23,635.91 660.88,633.73 663.91,612.47 667.56,612.83 671.81,602.15 674.85,632.51 678.49,636.16 682.13,643.44 685.78,637.98 689.42,645.87 693.06,652.55 696.71,650.12 699.75,647.69 704,654.38 707.72,654.98 711.12,657.41 715,650.12 718.04,646.48 721.69,642.23 725.33,622.79 728.97,603.12 733.22,620.37 736.26,615.51 739.9,630.08 744.16,644.05 747.8,633.73 751.2,623.4 754.12,617.69 758.12,667.13 762.38,661.66 767.84,653.77 772.09,650.12 775.98,646.84 778.77,662.27 783.02,669.56 786.42,656.2 789.7,648.91 793.96,654.38 797.36,658.26 801.24,650.73 804.89,642.23 808.53,637.98 812.17,633.48 814.92,624.01 818.93,631.3 822.82,638.58 826.22,638.34 829.86,652.55 833.51,641.01 837.15,631.9 840.79,632.75 844.2,636.16 847.84,643.44 851.48,639.19 854.76,624.62 858.41,620.37 862.05,622.19 865.94,595.83 869.34,626.44 872.98,642.23 876.63,631.9 880.27,633.12 883.91,630.69 887.19,617.94 891.2,625.83 894.85,627.05 898.13,630.69 901.53,651.95 905.17,672.59 908.81,675.02 912.46,655.59 916.1,644.05 919.75,645.27 922.86,646.48 927.11,637.98 930.75,633.12 934.4,632.51 937.68,631.9 941.08,619.15 944.96,644.66 947.76,648.91 952.01,644.05 955.65,647.09 959.3,650.12 962.94,653.77 965.98,673.81 969.62,665.91 973.63,656.8 976.91,646.48 980.55,645.27 983.59,645.87 987.84,640.04 991.48,644.05 995.13,643.44 999.02,631.54 1002.42,641.62 1006.06,645.27 1009.7,628.87 1012.98,613.08 1016.99,617.33 1020.64,624.01 1024.28,635.55 1027.92,646.12 1030.96,641.62 1034.6,640.41 1038.21,635.73 1041.85,636.46 1045.79,648.42 1049.15,648.85 1052.79,653.23 1056,664.17 1060.08,659.79 1063.73,652.21 1067.08,665.62 1070.58,651.04 1073.94,646.67 1077.88,651.33 1081.96,640.1 1085.17,640.54 1088.52,627.71 1091.44,593.44 1094.35,583.23 1097.27,577.4 1100.19,573.75 1103.1,571.56 1106.75,592.71 1109.67,620.42 1113.31,632.08 1116.96,639.67 1120.9,626.98 1124.98,663.44 1128.62,658.33 1132.27,659.79 1135.92,661.25 1139.12,664.17 1143.21,677.58 1147.58,672.92 1153.12,666.35 1153.12,611.4" fill="url(#gg)" clip-path="url(#cob)"/>
<polygon points="10.87,703.6 10.87,670.45 14.47,664.38 18.06,669.84 21.66,671.91 25.26,664.38 28.85,659.52 32.45,657.69 36.04,652.23 39.64,648.58 43.23,647.98 46.83,641.9 50.42,637.9 54.02,657.09 57.61,661.34 61.21,654.9 64.8,661.34 68.4,657.69 72,662.55 75.59,661.34 79.19,661.95 82.78,666.2 86.38,694.74 89.97,680.17 93.57,695.35 97.16,675.91 100.76,678.34 104.35,664.38 107.95,664.38 111.54,672.27 115.14,648.58 118.73,646.85 121.64,641.99 125.9,646.85 129.17,649.88 132.58,646.85 136.46,653.77 139.86,649.88 143.14,627.41 147.15,624.01 150.43,631.42 154.44,630.45 158.08,624.98 161.12,615.87 164.76,592.79 168.41,584.9 172.05,581.62 174.84,598.87 178.73,592.19 183.35,600.69 186.99,598.87 190.63,596.44 193.31,593.04 196.95,603.48 200.59,592.55 203.63,583.08 208.49,579.68 212.13,577.37 215.78,575.55 219.06,573.97 222.46,578.83 225.86,587.33 228.77,591.82 229.21,591.82 233.71,590 237.35,589.15 241,584.9 243.79,581.86 247.07,566.68 251.08,582.23 255.33,579.43 258.97,575.79 262.25,572.51 264.44,590.97 266.87,618.3 269.9,638.95 270.15,638.22 273.18,652.19 276.83,660.08 280.47,668.58 283.51,667.98 290.19,644.05 294.44,656.44 297.48,674.05 302.33,669.8 307.8,663.12 312.05,663.73 315.69,659.48 318.73,654.01 322.38,659.48 325.41,669.8 329.66,674.05 333.91,674.66 337.56,671.99 341.2,665.55 345.45,667.61 348.49,671.01 352.13,675.27 355.17,675.87 358.81,677.09 361.85,688.02 365.49,668.58 369.75,665.55 372.78,668.58 376.43,668.95 380.15,672.88 383.79,668.63 387.43,663.77 391.08,646.16 394.96,667.41 398.37,652.84 402.62,654.66 406.26,663.16 409.9,658.3 412.94,655.27 416.58,660.12 420.23,658.3 423.87,646.16 427.52,645.55 431.16,639.48 434.8,634.62 438.45,630.37 442.09,622.11 445.13,641.9 448.77,645.91 451.81,637.9 455.7,662.19 459.1,660.12 463.35,657.09 467.36,664.38 470.27,655.63 473.92,671.06 477.32,654.05 481.57,659.52 485.21,659.52 488.32,654.9 491.97,668.87 495.61,670.69 499.26,676.76 502.9,679.8 506.54,690.73 509.82,692.55 513.22,675.55 516.87,675.18 520.51,689.52 524.16,696.8 527.8,711.38 530.84,698.63 535.09,698.26 539.34,703.24 542.38,703.73 546.02,715.02 549.66,716.24 553.31,721.1 556.95,724.74 560.59,690.73 564.24,668.26 567.27,658.54 570.92,676.16 574.56,679.8 578.21,675.55 581.85,661.82 584.89,667.05 588.77,656.48 592.78,666.44 595.9,653.77 599.54,657.41 603.18,664.7 606.22,668.34 609.86,672.35 613.51,669.56 617.76,670.77 620.79,658.26 625.65,658.26 630.51,658.38 635.98,659.84 639.01,655.35 643.27,664.09 646.3,662.88 649.95,659.84 654.2,656.8 657.23,635.91 660.88,633.73 663.91,612.47 667.56,612.83 671.81,602.15 674.85,632.51 678.49,636.16 682.13,643.44 685.78,637.98 689.42,645.87 693.06,652.55 696.71,650.12 699.75,647.69 704,654.38 707.72,654.98 711.12,657.41 715,650.12 718.04,646.48 721.69,642.23 725.33,622.79 728.97,603.12 733.22,620.37 736.26,615.51 739.9,630.08 744.16,644.05 747.8,633.73 751.2,623.4 754.12,617.69 758.12,667.13 762.38,661.66 767.84,653.77 772.09,650.12 775.98,646.84 778.77,662.27 783.02,669.56 786.42,656.2 789.7,648.91 793.96,654.38 797.36,658.26 801.24,650.73 804.89,642.23 808.53,637.98 812.17,633.48 814.92,624.01 818.93,631.3 822.82,638.58 826.22,638.34 829.86,652.55 833.51,641.01 837.15,631.9 840.79,632.75 844.2,636.16 847.84,643.44 851.48,639.19 854.76,624.62 858.41,620.37 862.05,622.19 865.94,595.83 869.34,626.44 872.98,642.23 876.63,631.9 880.27,633.12 883.91,630.69 887.19,617.94 891.2,625.83 894.85,627.05 898.13,630.69 901.53,651.95 905.17,672.59 908.81,675.02 912.46,655.59 916.1,644.05 919.75,645.27 922.86,646.48 927.11,637.98 930.75,633.12 934.4,632.51 937.68,631.9 941.08,619.15 944.96,644.66 947.76,648.91 952.01,644.05 955.65,647.09 959.3,650.12 962.94,653.77 965.98,673.81 969.62,665.91 973.63,656.8 976.91,646.48 980.55,645.27 983.59,645.87 987.84,640.04 991.48,644.05 995.13,643.44 999.02,631.54 1002.42,641.62 1006.06,645.27 1009.7,628.87 1012.98,613.08 1016.99,617.33 1020.64,624.01 1024.28,635.55 1027.92,646.12 1030.96,641.62 1034.6,640.41 1038.21,635.73 1041.85,636.46 1045.79,648.42 1049.15,648.85 1052.79,653.23 1056,664.17 1060.08,659.79 1063.73,652.21 1067.08,665.62 1070.58,651.04 1073.94,646.67 1077.88,651.33 1081.96,640.1 1085.17,640.54 1088.52,627.71 1091.44,593.44 1094.35,583.23 1097.27,577.4 1100.19,573.75 1103.1,571.56 1106.75,592.71 1109.67,620.42 1113.31,632.08 1116.96,639.67 1120.9,626.98 1124.98,663.44 1128.62,658.33 1132.27,659.79 1135.92,661.25 1139.12,664.17 1143.21,677.58 1147.58,672.92 1153.12,666.35 1153.12,703.6" fill="url(#gr)" clip-path="url(#cos)"/>
<line x1="10" y1="611.5" x2="1251" y2="611.5" stroke="#6a6d78" stroke-width="1" stroke-dasharray="5 6"/>
<line x1="10" y1="657.5" x2="1251" y2="657.5" stroke="#9a9ca5" stroke-width="1" stroke-dasharray="5 6"/>
<line x1="10" y1="703.5" x2="1251" y2="703.5" stroke="#6a6d78" stroke-width="1" stroke-dasharray="5 6"/>
<polyline points="10.87,670.45 14.47,664.38 18.06,669.84 21.66,671.91 25.26,664.38 28.85,659.52 32.45,657.69 36.04,652.23 39.64,648.58 43.23,647.98 46.83,641.9 50.42,637.9 54.02,657.09 57.61,661.34 61.21,654.9 64.8,661.34 68.4,657.69 72,662.55 75.59,661.34 79.19,661.95 82.78,666.2 86.38,694.74 89.97,680.17 93.57,695.35 97.16,675.91 100.76,678.34 104.35,664.38 107.95,664.38 111.54,672.27 115.14,648.58 118.73,646.85 121.64,641.99 125.9,646.85 129.17,649.88 132.58,646.85 136.46,653.77 139.86,649.88 143.14,627.41 147.15,624.01 150.43,631.42 154.44,630.45 158.08,624.98 161.12,615.87 164.76,592.79 168.41,584.9 172.05,581.62 174.84,598.87 178.73,592.19 183.35,600.69 186.99,598.87 190.63,596.44 193.31,593.04 196.95,603.48 200.59,592.55 203.63,583.08 208.49,579.68 212.13,577.37 215.78,575.55 219.06,573.97 222.46,578.83 225.86,587.33 228.77,591.82 229.21,591.82 233.71,590 237.35,589.15 241,584.9 243.79,581.86 247.07,566.68 251.08,582.23 255.33,579.43 258.97,575.79 262.25,572.51 264.44,590.97 266.87,618.3 269.9,638.95 270.15,638.22 273.18,652.19 276.83,660.08 280.47,668.58 283.51,667.98 290.19,644.05 294.44,656.44 297.48,674.05 302.33,669.8 307.8,663.12 312.05,663.73 315.69,659.48 318.73,654.01 322.38,659.48 325.41,669.8 329.66,674.05 333.91,674.66 337.56,671.99 341.2,665.55 345.45,667.61 348.49,671.01 352.13,675.27 355.17,675.87 358.81,677.09 361.85,688.02 365.49,668.58 369.75,665.55 372.78,668.58 376.43,668.95 380.15,672.88 383.79,668.63 387.43,663.77 391.08,646.16 394.96,667.41 398.37,652.84 402.62,654.66 406.26,663.16 409.9,658.3 412.94,655.27 416.58,660.12 420.23,658.3 423.87,646.16 427.52,645.55 431.16,639.48 434.8,634.62 438.45,630.37 442.09,622.11 445.13,641.9 448.77,645.91 451.81,637.9 455.7,662.19 459.1,660.12 463.35,657.09 467.36,664.38 470.27,655.63 473.92,671.06 477.32,654.05 481.57,659.52 485.21,659.52 488.32,654.9 491.97,668.87 495.61,670.69 499.26,676.76 502.9,679.8 506.54,690.73 509.82,692.55 513.22,675.55 516.87,675.18 520.51,689.52 524.16,696.8 527.8,711.38 530.84,698.63 535.09,698.26 539.34,703.24 542.38,703.73 546.02,715.02 549.66,716.24 553.31,721.1 556.95,724.74 560.59,690.73 564.24,668.26 567.27,658.54 570.92,676.16 574.56,679.8 578.21,675.55 581.85,661.82 584.89,667.05 588.77,656.48 592.78,666.44 595.9,653.77 599.54,657.41 603.18,664.7 606.22,668.34 609.86,672.35 613.51,669.56 617.76,670.77 620.79,658.26 625.65,658.26 630.51,658.38 635.98,659.84 639.01,655.35 643.27,664.09 646.3,662.88 649.95,659.84 654.2,656.8 657.23,635.91 660.88,633.73 663.91,612.47 667.56,612.83 671.81,602.15 674.85,632.51 678.49,636.16 682.13,643.44 685.78,637.98 689.42,645.87 693.06,652.55 696.71,650.12 699.75,647.69 704,654.38 707.72,654.98 711.12,657.41 715,650.12 718.04,646.48 721.69,642.23 725.33,622.79 728.97,603.12 733.22,620.37 736.26,615.51 739.9,630.08 744.16,644.05 747.8,633.73 751.2,623.4 754.12,617.69 758.12,667.13 762.38,661.66 767.84,653.77 772.09,650.12 775.98,646.84 778.77,662.27 783.02,669.56 786.42,656.2 789.7,648.91 793.96,654.38 797.36,658.26 801.24,650.73 804.89,642.23 808.53,637.98 812.17,633.48 814.92,624.01 818.93,631.3 822.82,638.58 826.22,638.34 829.86,652.55 833.51,641.01 837.15,631.9 840.79,632.75 844.2,636.16 847.84,643.44 851.48,639.19 854.76,624.62 858.41,620.37 862.05,622.19 865.94,595.83 869.34,626.44 872.98,642.23 876.63,631.9 880.27,633.12 883.91,630.69 887.19,617.94 891.2,625.83 894.85,627.05 898.13,630.69 901.53,651.95 905.17,672.59 908.81,675.02 912.46,655.59 916.1,644.05 919.75,645.27 922.86,646.48 927.11,637.98 930.75,633.12 934.4,632.51 937.68,631.9 941.08,619.15 944.96,644.66 947.76,648.91 952.01,644.05 955.65,647.09 959.3,650.12 962.94,653.77 965.98,673.81 969.62,665.91 973.63,656.8 976.91,646.48 980.55,645.27 983.59,645.87 987.84,640.04 991.48,644.05 995.13,643.44 999.02,631.54 1002.42,641.62 1006.06,645.27 1009.7,628.87 1012.98,613.08 1016.99,617.33 1020.64,624.01 1024.28,635.55 1027.92,646.12 1030.96,641.62 1034.6,640.41 1038.21,635.73 1041.85,636.46 1045.79,648.42 1049.15,648.85 1052.79,653.23 1056,664.17 1060.08,659.79 1063.73,652.21 1067.08,665.62 1070.58,651.04 1073.94,646.67 1077.88,651.33 1081.96,640.1 1085.17,640.54 1088.52,627.71 1091.44,593.44 1094.35,583.23 1097.27,577.4 1100.19,573.75 1103.1,571.56 1106.75,592.71 1109.67,620.42 1113.31,632.08 1116.96,639.67 1120.9,626.98 1124.98,663.44 1128.62,658.33 1132.27,659.79 1135.92,661.25 1139.12,664.17 1143.21,677.58 1147.58,672.92 1153.12,666.35" fill="none" stroke="#7e57c2" stroke-width="3" stroke-linejoin="round" stroke-linecap="round"/>
<path d="M10.43,666.2C10.68,666.26 11.43,666.45 11.93,666.57C12.43,666.7 12.93,666.82 13.43,666.95C13.93,667.07 14.43,667.2 14.93,667.32C15.43,667.45 15.93,667.58 16.43,667.71C16.93,667.85 17.43,667.99 17.93,668.15C18.43,668.3 18.93,668.47 19.43,668.64C19.93,668.81 20.43,669 20.93,669.17C21.43,669.34 21.93,669.52 22.43,669.65C22.93,669.78 23.43,669.9 23.93,669.96C24.43,670.02 24.93,670.01 25.43,670C25.93,669.99 26.43,669.93 26.93,669.89C27.43,669.84 27.93,669.79 28.43,669.73C28.93,669.66 29.43,669.6 29.93,669.49C30.43,669.37 30.93,669.23 31.43,669.03C31.93,668.83 32.43,668.57 32.93,668.3C33.43,668.03 33.93,667.71 34.43,667.41C34.93,667.11 35.43,666.79 35.93,666.49C36.43,666.19 36.93,665.88 37.43,665.59C37.93,665.3 38.43,665.02 38.93,664.74C39.43,664.47 39.93,664.21 40.43,663.96C40.93,663.7 41.43,663.45 41.93,663.2C42.43,662.95 42.93,662.7 43.43,662.45C43.93,662.21 44.43,661.96 44.93,661.72C45.43,661.48 45.93,661.24 46.43,661C46.93,660.77 47.43,660.54 47.93,660.32C48.43,660.09 48.93,659.86 49.43,659.64C49.93,659.42 50.43,659.19 50.93,658.98C51.43,658.78 51.93,658.57 52.43,658.4C52.93,658.23 53.43,658.09 53.93,657.96C54.43,657.84 54.93,657.75 55.43,657.65C55.93,657.56 56.43,657.48 56.93,657.39C57.43,657.31 57.93,657.23 58.43,657.14C58.93,657.05 59.43,656.97 59.93,656.87C60.43,656.78 60.93,656.68 61.43,656.58C61.93,656.47 62.43,656.36 62.93,656.26C63.43,656.15 63.93,656.04 64.43,655.93C64.93,655.83 65.43,655.72 65.93,655.62C66.43,655.51 66.93,655.41 67.43,655.32C67.93,655.23 68.43,655.15 68.93,655.08C69.43,655 69.93,654.93 70.43,654.86C70.93,654.79 71.43,654.72 71.93,654.66C72.43,654.61 72.93,654.56 73.43,654.53C73.93,654.5 74.43,654.49 74.93,654.49C75.43,654.5 75.93,654.51 76.43,654.53C76.93,654.56 77.43,654.57 77.93,654.63C78.43,654.69 78.93,654.76 79.43,654.9C79.93,655.03 80.43,655.23 80.93,655.45C81.43,655.67 81.93,655.95 82.43,656.22C82.93,656.49 83.43,656.77 83.93,657.07C84.43,657.36 84.93,657.66 85.43,657.99C85.93,658.32 86.43,658.67 86.93,659.04C87.43,659.4 87.93,659.79 88.43,660.17C88.93,660.56 89.43,660.95 89.93,661.34C90.43,661.73 90.93,662.13 91.43,662.51C91.93,662.89 92.43,663.27 92.93,663.63C93.43,664 93.93,664.35 94.43,664.69C94.93,665.04 95.43,665.37 95.93,665.7C96.43,666.04 96.93,666.37 97.43,666.7C97.93,667.02 98.43,667.36 98.93,667.64C99.43,667.92 99.93,668.19 100.43,668.39C100.93,668.59 101.43,668.73 101.93,668.85C102.43,668.98 102.93,669.05 103.43,669.14C103.93,669.23 104.43,669.31 104.93,669.39C105.43,669.47 105.93,669.55 106.43,669.61C106.93,669.68 107.43,669.73 107.93,669.77C108.43,669.8 108.93,669.82 109.43,669.83C109.93,669.84 110.43,669.84 110.93,669.83C111.43,669.83 111.93,669.82 112.43,669.79C112.93,669.75 113.43,669.71 113.93,669.62C114.43,669.54 114.93,669.42 115.43,669.29C115.93,669.16 116.43,669.01 116.93,668.86C117.43,668.72 117.93,668.57 118.43,668.43C118.93,668.28 119.43,668.15 119.93,668.02C120.43,667.89 120.93,667.77 121.43,667.65C121.93,667.54 122.43,667.43 122.93,667.32C123.43,667.21 123.93,667.1 124.43,666.98C124.93,666.87 125.43,666.77 125.93,666.63C126.43,666.5 126.93,666.37 127.43,666.19C127.93,666.01 128.43,665.8 128.93,665.56C129.43,665.32 129.93,665.04 130.43,664.76C130.93,664.49 131.43,664.19 131.93,663.9C132.43,663.61 132.93,663.31 133.43,663.02C133.93,662.73 134.43,662.44 134.93,662.14C135.43,661.84 135.93,661.56 136.43,661.23C136.93,660.91 137.43,660.59 137.93,660.2C138.43,659.8 138.93,659.36 139.43,658.88C139.93,658.4 140.43,657.84 140.93,657.29C141.43,656.74 141.93,656.15 142.43,655.58C142.93,655 143.43,654.42 143.93,653.85C144.43,653.28 144.93,652.7 145.43,652.14C145.93,651.57 146.43,651 146.93,650.45C147.43,649.9 147.93,649.35 148.43,648.85C148.93,648.35 149.43,647.87 149.93,647.46C150.43,647.04 150.93,646.69 151.43,646.33C151.93,645.98 152.43,645.68 152.93,645.34C153.43,645 153.93,644.66 154.43,644.29C154.93,643.91 155.43,643.5 155.93,643.09C156.43,642.67 156.93,642.23 157.43,641.8C157.93,641.36 158.43,640.92 158.93,640.49C159.43,640.05 159.93,639.61 160.43,639.17C160.93,638.73 161.43,638.3 161.93,637.85C162.43,637.4 162.93,636.95 163.43,636.47C163.93,635.99 164.43,635.49 164.93,634.97C165.43,634.45 165.93,633.89 166.43,633.35C166.93,632.8 167.43,632.24 167.93,631.7C168.43,631.15 168.93,630.61 169.43,630.09C169.93,629.56 170.43,629.05 170.93,628.54C171.43,628.03 171.93,627.53 172.43,627.02C172.93,626.51 173.43,625.99 173.93,625.46C174.43,624.93 174.93,624.38 175.43,623.83C175.93,623.28 176.43,622.71 176.93,622.17C177.43,621.63 177.93,621.09 178.43,620.58C178.93,620.07 179.43,619.59 179.93,619.12C180.43,618.65 180.93,618.21 181.43,617.74C181.93,617.27 182.43,616.81 182.93,616.29C183.43,615.77 183.93,615.21 184.43,614.63C184.93,614.04 185.43,613.39 185.93,612.78C186.43,612.18 186.93,611.55 187.43,610.98C187.93,610.41 188.43,609.87 188.93,609.35C189.43,608.83 189.93,608.33 190.43,607.86C190.93,607.39 191.43,606.94 191.93,606.54C192.43,606.15 192.93,605.81 193.43,605.48C193.93,605.16 194.43,604.89 194.93,604.58C195.43,604.27 195.93,603.97 196.43,603.62C196.93,603.26 197.43,602.87 197.93,602.45C198.43,602.04 198.93,601.57 199.43,601.12C199.93,600.66 200.43,600.18 200.93,599.72C201.43,599.26 201.93,598.8 202.43,598.35C202.93,597.9 203.43,597.46 203.93,597.02C204.43,596.58 204.93,596.15 205.43,595.72C205.93,595.3 206.43,594.88 206.93,594.48C207.43,594.08 207.93,593.69 208.43,593.31C208.93,592.93 209.43,592.55 209.93,592.21C210.43,591.87 210.93,591.55 211.43,591.28C211.93,591.01 212.43,590.8 212.93,590.61C213.43,590.42 213.93,590.27 214.43,590.12C214.93,589.97 215.43,589.84 215.93,589.73C216.43,589.61 216.93,589.52 217.43,589.43C217.93,589.35 218.43,589.28 218.93,589.22C219.43,589.15 219.93,589.09 220.43,589.03C220.93,588.97 221.43,588.91 221.93,588.86C222.43,588.8 222.93,588.75 223.43,588.7C223.93,588.65 224.43,588.59 224.93,588.56C225.43,588.52 225.93,588.49 226.43,588.46C226.93,588.44 227.43,588.43 227.93,588.38C228.43,588.34 228.93,588.27 229.43,588.19C229.93,588.11 230.43,588.01 230.93,587.9C231.43,587.8 231.93,587.69 232.43,587.58C232.93,587.48 233.43,587.37 233.93,587.26C234.43,587.15 234.93,587.03 235.43,586.92C235.93,586.8 236.43,586.69 236.93,586.57C237.43,586.45 237.93,586.33 238.43,586.21C238.93,586.08 239.43,585.96 239.93,585.81C240.43,585.66 240.93,585.51 241.43,585.31C241.93,585.11 242.43,584.86 242.93,584.62C243.43,584.38 243.93,584.09 244.43,583.85C244.93,583.61 245.43,583.36 245.93,583.17C246.43,582.98 246.93,582.84 247.43,582.71C247.93,582.59 248.43,582.5 248.93,582.41C249.43,582.32 249.93,582.24 250.43,582.17C250.93,582.1 251.43,582.03 251.93,581.98C252.43,581.92 252.93,581.88 253.43,581.85C253.93,581.82 254.43,581.8 254.93,581.78C255.43,581.76 255.93,581.74 256.43,581.73C256.93,581.71 257.43,581.69 257.93,581.69C258.43,581.69 258.93,581.7 259.43,581.73C259.93,581.76 260.43,581.82 260.93,581.89C261.43,581.96 261.93,582.04 262.43,582.17C262.93,582.3 263.43,582.43 263.93,582.66C264.43,582.88 264.93,583.17 265.43,583.51C265.93,583.85 266.43,584.26 266.93,584.7C267.43,585.14 267.93,585.61 268.43,586.14C268.93,586.67 269.43,587.26 269.93,587.89C270.43,588.53 270.93,589.24 271.43,589.96C271.93,590.67 272.43,591.43 272.93,592.17C273.43,592.92 273.93,593.67 274.43,594.42C274.93,595.17 275.43,595.92 275.93,596.67C276.43,597.42 276.93,598.17 277.43,598.92C277.93,599.67 278.43,600.42 278.93,601.17C279.43,601.92 279.93,602.67 280.43,603.42C280.93,604.17 281.43,604.92 281.93,605.65C282.43,606.39 282.93,607.12 283.43,607.82C283.93,608.52 284.43,609.19 284.93,609.85C285.43,610.51 285.93,611.14 286.43,611.78C286.93,612.42 287.43,613.05 287.93,613.69C288.43,614.34 288.93,614.99 289.43,615.66C289.93,616.33 290.43,617 290.93,617.7C291.43,618.39 291.93,619.09 292.43,619.83C292.93,620.57 293.43,621.34 293.93,622.15C294.43,622.96 294.93,623.83 295.43,624.7C295.93,625.57 296.43,626.48 296.93,627.36C297.43,628.25 297.93,629.13 298.43,630.01C298.93,630.89 299.43,631.77 299.93,632.64C300.43,633.52 300.93,634.39 301.43,635.27C301.93,636.15 302.43,637.02 302.93,637.89C303.43,638.77 303.93,639.64 304.43,640.52C304.93,641.39 305.43,642.27 305.93,643.14C306.43,644.02 306.93,644.9 307.43,645.77C307.93,646.64 308.43,647.52 308.93,648.38C309.43,649.23 309.93,650.1 310.43,650.9C310.93,651.7 311.43,652.48 311.93,653.2C312.43,653.92 312.93,654.59 313.43,655.23C313.93,655.87 314.43,656.5 314.93,657.05C315.43,657.6 315.93,658.12 316.43,658.55C316.93,658.98 317.43,659.31 317.93,659.61C318.43,659.92 318.93,660.16 319.43,660.4C319.93,660.64 320.43,660.86 320.93,661.04C321.43,661.22 321.93,661.37 322.43,661.5C322.93,661.64 323.43,661.74 323.93,661.84C324.43,661.95 324.93,662.05 325.43,662.14C325.93,662.24 326.43,662.33 326.93,662.41C327.43,662.48 327.93,662.55 328.43,662.61C328.93,662.68 329.43,662.72 329.93,662.78C330.43,662.84 330.93,662.88 331.43,662.95C331.93,663.02 332.43,663.1 332.93,663.21C333.43,663.32 333.93,663.47 334.43,663.63C334.93,663.79 335.43,663.99 335.93,664.18C336.43,664.36 336.93,664.57 337.43,664.76C337.93,664.94 338.43,665.13 338.93,665.29C339.43,665.45 339.93,665.58 340.43,665.71C340.93,665.84 341.43,665.94 341.93,666.05C342.43,666.16 342.93,666.26 343.43,666.35C343.93,666.44 344.43,666.54 344.93,666.61C345.43,666.69 345.93,666.76 346.43,666.81C346.93,666.87 347.43,666.92 347.93,666.97C348.43,667.01 348.93,667.05 349.43,667.1C349.93,667.14 350.43,667.18 350.93,667.24C351.43,667.29 351.93,667.35 352.43,667.44C352.93,667.53 353.43,667.64 353.93,667.77C354.43,667.89 354.93,668.04 355.43,668.18C355.93,668.33 356.43,668.48 356.93,668.63C357.43,668.78 357.93,668.93 358.43,669.08C358.93,669.22 359.43,669.37 359.93,669.52C360.43,669.66 360.93,669.81 361.43,669.95C361.93,670.09 362.43,670.24 362.93,670.38C363.43,670.52 363.93,670.66 364.43,670.8C364.93,670.94 365.43,671.08 365.93,671.21C366.43,671.34 366.93,671.46 367.43,671.56C367.93,671.67 368.43,671.75 368.93,671.83C369.43,671.92 369.93,671.99 370.43,672.05C370.93,672.12 371.43,672.19 371.93,672.25C372.43,672.3 372.93,672.35 373.43,672.37C373.93,672.39 374.43,672.38 374.93,672.37C375.43,672.37 375.93,672.34 376.43,672.33C376.93,672.32 377.43,672.33 377.93,672.34C378.43,672.34 378.93,672.39 379.43,672.38C379.93,672.37 380.43,672.35 380.93,672.29C381.43,672.23 381.93,672.13 382.43,672.02C382.93,671.91 383.43,671.78 383.93,671.65C384.43,671.53 384.93,671.4 385.43,671.28C385.93,671.16 386.43,671.04 386.93,670.93C387.43,670.82 387.93,670.72 388.43,670.62C388.93,670.51 389.43,670.41 389.93,670.31C390.43,670.2 390.93,670.1 391.43,669.98C391.93,669.85 392.43,669.72 392.93,669.58C393.43,669.44 393.93,669.28 394.43,669.12C394.93,668.96 395.43,668.79 395.93,668.63C396.43,668.46 396.93,668.3 397.43,668.13C397.93,667.97 398.43,667.81 398.93,667.66C399.43,667.51 399.93,667.36 400.43,667.22C400.93,667.09 401.43,666.96 401.93,666.83C402.43,666.7 402.93,666.58 403.43,666.45C403.93,666.32 404.43,666.2 404.93,666.06C405.43,665.92 405.93,665.77 406.43,665.6C406.93,665.42 407.43,665.22 407.93,665C408.43,664.79 408.93,664.54 409.43,664.3C409.93,664.06 410.43,663.81 410.93,663.56C411.43,663.31 411.93,663.06 412.43,662.82C412.93,662.59 413.43,662.35 413.93,662.14C414.43,661.93 414.93,661.73 415.43,661.55C415.93,661.36 416.43,661.2 416.93,661.02C417.43,660.85 417.93,660.69 418.43,660.52C418.93,660.35 419.43,660.19 419.93,660.01C420.43,659.84 420.93,659.66 421.43,659.48C421.93,659.29 422.43,659.09 422.93,658.89C423.43,658.69 423.93,658.48 424.43,658.27C424.93,658.06 425.43,657.86 425.93,657.64C426.43,657.43 426.93,657.22 427.43,657C427.93,656.77 428.43,656.54 428.93,656.28C429.43,656.03 429.93,655.75 430.43,655.48C430.93,655.2 431.43,654.9 431.93,654.61C432.43,654.32 432.93,654.03 433.43,653.74C433.93,653.45 434.43,653.16 434.93,652.88C435.43,652.6 435.93,652.33 436.43,652.06C436.93,651.79 437.43,651.54 437.93,651.28C438.43,651.02 438.93,650.77 439.43,650.52C439.93,650.28 440.43,650.02 440.93,649.78C441.43,649.54 441.93,649.3 442.43,649.08C442.93,648.87 443.43,648.67 443.93,648.49C444.43,648.3 444.93,648.15 445.43,648C445.93,647.84 446.43,647.7 446.93,647.56C447.43,647.42 447.93,647.28 448.43,647.15C448.93,647.02 449.43,646.89 449.93,646.79C450.43,646.69 450.93,646.61 451.43,646.55C451.93,646.48 452.43,646.45 452.93,646.41C453.43,646.38 453.93,646.36 454.43,646.33C454.93,646.3 455.43,646.28 455.93,646.26C456.43,646.24 456.93,646.21 457.43,646.2C457.93,646.18 458.43,646.17 458.93,646.17C459.43,646.16 459.93,646.16 460.43,646.16C460.93,646.16 461.43,646.16 461.93,646.16C462.43,646.16 462.93,646.16 463.43,646.16C463.93,646.17 464.43,646.18 464.93,646.2C465.43,646.23 465.93,646.26 466.43,646.3C466.93,646.34 467.43,646.39 467.93,646.43C468.43,646.48 468.93,646.53 469.43,646.6C469.93,646.66 470.43,646.73 470.93,646.82C471.43,646.92 471.93,647.03 472.43,647.16C472.93,647.28 473.43,647.43 473.93,647.57C474.43,647.72 474.93,647.87 475.43,648.03C475.93,648.18 476.43,648.34 476.93,648.51C477.43,648.68 477.93,648.86 478.43,649.05C478.93,649.24 479.43,649.44 479.93,649.63C480.43,649.83 480.93,650.03 481.43,650.24C481.93,650.45 482.43,650.66 482.93,650.88C483.43,651.11 483.93,651.34 484.43,651.59C484.93,651.85 485.43,652.1 485.93,652.4C486.43,652.7 486.93,653.01 487.43,653.4C487.93,653.78 488.43,654.24 488.93,654.69C489.43,655.14 489.93,655.65 490.43,656.09C490.93,656.53 491.43,656.94 491.93,657.32C492.43,657.71 492.93,658.05 493.43,658.41C493.93,658.77 494.43,659.11 494.93,659.46C495.43,659.81 495.93,660.16 496.43,660.51C496.93,660.86 497.43,661.21 497.93,661.56C498.43,661.91 498.93,662.26 499.43,662.61C499.93,662.96 500.43,663.31 500.93,663.65C501.43,663.98 501.93,664.32 502.43,664.64C502.93,664.96 503.43,665.26 503.93,665.56C504.43,665.86 504.93,666.15 505.43,666.45C505.93,666.74 506.43,667.03 506.93,667.31C507.43,667.59 507.93,667.88 508.43,668.13C508.93,668.38 509.43,668.61 509.93,668.81C510.43,669 510.93,669.16 511.43,669.31C511.93,669.45 512.43,669.57 512.93,669.7C513.43,669.84 513.93,669.95 514.43,670.1C514.93,670.24 515.43,670.38 515.93,670.57C516.43,670.75 516.93,670.97 517.43,671.22C517.93,671.48 518.43,671.78 518.93,672.09C519.43,672.4 519.93,672.74 520.43,673.07C520.93,673.4 521.43,673.73 521.93,674.07C522.43,674.41 522.93,674.76 523.43,675.12C523.93,675.48 524.43,675.86 524.93,676.25C525.43,676.63 525.93,677.04 526.43,677.45C526.93,677.86 527.43,678.28 527.93,678.69C528.43,679.11 528.93,679.53 529.43,679.94C529.93,680.36 530.43,680.78 530.93,681.19C531.43,681.61 531.93,682.03 532.43,682.44C532.93,682.86 533.43,683.28 533.93,683.69C534.43,684.11 534.93,684.53 535.43,684.94C535.93,685.36 536.43,685.78 536.93,686.19C537.43,686.61 537.93,687.03 538.43,687.44C538.93,687.86 539.43,688.28 539.93,688.69C540.43,689.11 540.93,689.53 541.43,689.94C541.93,690.36 542.43,690.78 542.93,691.19C543.43,691.61 543.93,692.03 544.43,692.44C544.93,692.85 545.43,693.25 545.93,693.65C546.43,694.05 546.93,694.43 547.43,694.82C547.93,695.2 548.43,695.57 548.93,695.95C549.43,696.33 549.93,696.7 550.43,697.07C550.93,697.44 551.43,697.82 551.93,698.17C552.43,698.53 552.93,698.88 553.43,699.2C553.93,699.52 554.43,699.82 554.93,700.1C555.43,700.39 555.93,700.67 556.43,700.9C556.93,701.13 557.43,701.35 557.93,701.49C558.43,701.63 558.93,701.7 559.43,701.74C559.93,701.78 560.43,701.76 560.93,701.74C561.43,701.72 561.93,701.67 562.43,701.6C562.93,701.53 563.43,701.43 563.93,701.32C564.43,701.21 564.93,701.07 565.43,700.93C565.93,700.79 566.43,700.64 566.93,700.49C567.43,700.34 567.93,700.19 568.43,700.04C568.93,699.89 569.43,699.74 569.93,699.59C570.43,699.44 570.93,699.29 571.43,699.14C571.93,698.99 572.43,698.84 572.93,698.67C573.43,698.5 573.93,698.33 574.43,698.11C574.93,697.89 575.43,697.64 575.93,697.36C576.43,697.08 576.93,696.75 577.43,696.42C577.93,696.09 578.43,695.73 578.93,695.39C579.43,695.04 579.93,694.69 580.43,694.34C580.93,693.99 581.43,693.64 581.93,693.29C582.43,692.94 582.93,692.59 583.43,692.24C583.93,691.89 584.43,691.54 584.93,691.18C585.43,690.83 585.93,690.48 586.43,690.11C586.93,689.74 587.43,689.37 587.93,688.99C588.43,688.61 588.93,688.22 589.43,687.82C589.93,687.42 590.43,687.03 590.93,686.61C591.43,686.18 591.93,685.77 592.43,685.29C592.93,684.82 593.43,684.31 593.93,683.75C594.43,683.19 594.93,682.57 595.43,681.94C595.93,681.31 596.43,680.64 596.93,679.97C597.43,679.3 597.93,678.61 598.43,677.92C598.93,677.23 599.43,676.51 599.93,675.81C600.43,675.12 600.93,674.4 601.43,673.75C601.93,673.09 602.43,672.46 602.93,671.89C603.43,671.32 603.93,670.8 604.43,670.32C604.93,669.83 605.43,669.36 605.93,668.96C606.43,668.55 606.93,668.17 607.43,667.89C607.93,667.61 608.43,667.43 608.93,667.26C609.43,667.1 609.93,667.01 610.43,666.91C610.93,666.82 611.43,666.74 611.93,666.68C612.43,666.62 612.93,666.59 613.43,666.56C613.93,666.54 614.43,666.54 614.93,666.52C615.43,666.51 615.93,666.52 616.43,666.49C616.93,666.47 617.43,666.44 617.93,666.36C618.43,666.27 618.93,666.15 619.43,666.01C619.93,665.86 620.43,665.67 620.93,665.48C621.43,665.3 621.93,665.09 622.43,664.91C622.93,664.73 623.43,664.55 623.93,664.4C624.43,664.25 624.93,664.13 625.43,664.03C625.93,663.92 626.43,663.85 626.93,663.77C627.43,663.69 627.93,663.63 628.43,663.56C628.93,663.49 629.43,663.43 629.93,663.37C630.43,663.3 630.93,663.24 631.43,663.19C631.93,663.14 632.43,663.09 632.93,663.05C633.43,663.01 633.93,662.98 634.43,662.94C634.93,662.91 635.43,662.87 635.93,662.84C636.43,662.81 636.93,662.77 637.43,662.75C637.93,662.73 638.43,662.72 638.93,662.72C639.43,662.72 639.93,662.74 640.43,662.77C640.93,662.8 641.43,662.84 641.93,662.88C642.43,662.92 642.93,662.96 643.43,663C643.93,663.04 644.43,663.08 644.93,663.1C645.43,663.12 645.93,663.13 646.43,663.11C646.93,663.1 647.43,663.05 647.93,663.01C648.43,662.96 648.93,662.89 649.43,662.82C649.93,662.76 650.43,662.69 650.93,662.61C651.43,662.53 651.93,662.45 652.43,662.32C652.93,662.19 653.43,662.03 653.93,661.81C654.43,661.59 654.93,661.3 655.43,661C655.93,660.71 656.43,660.37 656.93,660.04C657.43,659.71 657.93,659.38 658.43,659.02C658.93,658.67 659.43,658.32 659.93,657.9C660.43,657.49 660.93,657.04 661.43,656.55C661.93,656.05 662.43,655.48 662.93,654.92C663.43,654.35 663.93,653.74 664.43,653.16C664.93,652.57 665.43,651.98 665.93,651.42C666.43,650.86 666.93,650.32 667.43,649.81C667.93,649.3 668.43,648.83 668.93,648.36C669.43,647.9 669.93,647.45 670.43,647.01C670.93,646.57 671.43,646.13 671.93,645.73C672.43,645.33 672.93,644.96 673.43,644.62C673.93,644.29 674.43,644.01 674.93,643.73C675.43,643.46 675.93,643.21 676.43,642.96C676.93,642.7 677.43,642.46 677.93,642.21C678.43,641.97 678.93,641.73 679.43,641.5C679.93,641.28 680.43,641.07 680.93,640.87C681.43,640.67 681.93,640.49 682.43,640.32C682.93,640.14 683.43,639.98 683.93,639.81C684.43,639.64 684.93,639.47 685.43,639.32C685.93,639.16 686.43,639 686.93,638.85C687.43,638.71 687.93,638.58 688.43,638.46C688.93,638.34 689.43,638.23 689.93,638.13C690.43,638.02 690.93,637.92 691.43,637.82C691.93,637.72 692.43,637.62 692.93,637.52C693.43,637.42 693.93,637.32 694.43,637.21C694.93,637.11 695.43,637 695.93,636.9C696.43,636.79 696.93,636.68 697.43,636.58C697.93,636.47 698.43,636.36 698.93,636.25C699.43,636.15 699.93,636.04 700.43,635.96C700.93,635.89 701.43,635.82 701.93,635.8C702.43,635.79 702.93,635.83 703.43,635.88C703.93,635.94 704.43,636.03 704.93,636.14C705.43,636.24 705.93,636.34 706.43,636.49C706.93,636.64 707.43,636.81 707.93,637.06C708.43,637.3 708.93,637.63 709.43,637.97C709.93,638.31 710.43,638.71 710.93,639.1C711.43,639.48 711.93,639.88 712.43,640.27C712.93,640.65 713.43,641.04 713.93,641.41C714.43,641.79 714.93,642.17 715.43,642.54C715.93,642.9 716.43,643.26 716.93,643.6C717.43,643.94 717.93,644.27 718.43,644.58C718.93,644.88 719.43,645.19 719.93,645.44C720.43,645.69 720.93,645.94 721.43,646.09C721.93,646.24 722.43,646.32 722.93,646.32C723.43,646.32 723.93,646.21 724.43,646.09C724.93,645.97 725.43,645.8 725.93,645.61C726.43,645.43 726.93,645.22 727.43,644.99C727.93,644.76 728.43,644.49 728.93,644.22C729.43,643.96 729.93,643.66 730.43,643.39C730.93,643.12 731.43,642.84 731.93,642.59C732.43,642.33 732.93,642.1 733.43,641.86C733.93,641.63 734.43,641.41 734.93,641.19C735.43,640.97 735.93,640.75 736.43,640.55C736.93,640.35 737.43,640.15 737.93,639.99C738.43,639.82 738.93,639.69 739.43,639.56C739.93,639.44 740.43,639.34 740.93,639.23C741.43,639.12 741.93,639.03 742.43,638.91C742.93,638.8 743.43,638.68 743.93,638.53C744.43,638.39 744.93,638.22 745.43,638.04C745.93,637.87 746.43,637.67 746.93,637.47C747.43,637.27 747.93,637.07 748.43,636.86C748.93,636.65 749.43,636.43 749.93,636.2C750.43,635.96 750.93,635.7 751.43,635.44C751.93,635.19 752.43,634.89 752.93,634.67C753.43,634.46 753.93,634.25 754.43,634.14C754.93,634.03 755.43,634.01 755.93,634.02C756.43,634.02 756.93,634.1 757.43,634.16C757.93,634.22 758.43,634.3 758.93,634.37C759.43,634.44 759.93,634.51 760.43,634.58C760.93,634.64 761.43,634.7 761.93,634.76C762.43,634.82 762.93,634.87 763.43,634.92C763.93,634.98 764.43,635.02 764.93,635.07C765.43,635.13 765.93,635.17 766.43,635.23C766.93,635.28 767.43,635.33 767.93,635.4C768.43,635.47 768.93,635.55 769.43,635.67C769.93,635.79 770.43,635.94 770.93,636.1C771.43,636.27 771.93,636.46 772.43,636.67C772.93,636.87 773.43,637.06 773.93,637.31C774.43,637.56 774.93,637.83 775.43,638.18C775.93,638.54 776.43,638.98 776.93,639.45C777.43,639.93 777.93,640.49 778.43,641.01C778.93,641.53 779.43,642.08 779.93,642.58C780.43,643.09 780.93,643.56 781.43,644.02C781.93,644.47 782.43,644.88 782.93,645.29C783.43,645.71 783.93,646.11 784.43,646.49C784.93,646.86 785.43,647.24 785.93,647.56C786.43,647.88 786.93,648.16 787.43,648.41C787.93,648.65 788.43,648.84 788.93,649.03C789.43,649.22 789.93,649.38 790.43,649.55C790.93,649.73 791.43,649.89 791.93,650.07C792.43,650.24 792.93,650.42 793.43,650.62C793.93,650.82 794.43,651.03 794.93,651.26C795.43,651.49 795.93,651.73 796.43,651.97C796.93,652.22 797.43,652.47 797.93,652.71C798.43,652.95 798.93,653.2 799.43,653.42C799.93,653.65 800.43,653.87 800.93,654.07C801.43,654.27 801.93,654.47 802.43,654.63C802.93,654.78 803.43,654.95 803.93,655C804.43,655.06 804.93,655.07 805.43,654.98C805.93,654.9 806.43,654.71 806.93,654.51C807.43,654.31 807.93,654.05 808.43,653.8C808.93,653.54 809.43,653.27 809.93,652.98C810.43,652.7 810.93,652.4 811.43,652.1C811.93,651.8 812.43,651.48 812.93,651.18C813.43,650.89 813.93,650.59 814.43,650.31C814.93,650.03 815.43,649.78 815.93,649.52C816.43,649.26 816.93,649.01 817.43,648.75C817.93,648.48 818.43,648.19 818.93,647.94C819.43,647.69 819.93,647.44 820.43,647.24C820.93,647.05 821.43,646.9 821.93,646.77C822.43,646.63 822.93,646.54 823.43,646.43C823.93,646.32 824.43,646.22 824.93,646.1C825.43,645.98 825.93,645.85 826.43,645.69C826.93,645.54 827.43,645.36 827.93,645.17C828.43,644.99 828.93,644.78 829.43,644.59C829.93,644.39 830.43,644.19 830.93,643.99C831.43,643.8 831.93,643.6 832.43,643.41C832.93,643.22 833.43,643.03 833.93,642.85C834.43,642.66 834.93,642.48 835.43,642.29C835.93,642.11 836.43,641.93 836.93,641.75C837.43,641.56 837.93,641.38 838.43,641.21C838.93,641.03 839.43,640.86 839.93,640.7C840.43,640.53 840.93,640.38 841.43,640.22C841.93,640.07 842.43,639.92 842.93,639.77C843.43,639.62 843.93,639.47 844.43,639.32C844.93,639.16 845.43,639.01 845.93,638.86C846.43,638.7 846.93,638.55 847.43,638.39C847.93,638.22 848.43,638.06 848.93,637.9C849.43,637.73 849.93,637.56 850.43,637.4C850.93,637.23 851.43,637.06 851.93,636.9C852.43,636.73 852.93,636.56 853.43,636.4C853.93,636.23 854.43,636.06 854.93,635.9C855.43,635.73 855.93,635.56 856.43,635.4C856.93,635.23 857.43,635.06 857.93,634.9C858.43,634.73 858.93,634.56 859.43,634.4C859.93,634.24 860.43,634.07 860.93,633.91C861.43,633.75 861.93,633.59 862.43,633.44C862.93,633.28 863.43,633.13 863.93,632.98C864.43,632.83 864.93,632.68 865.43,632.55C865.93,632.42 866.43,632.29 866.93,632.19C867.43,632.1 867.93,632.03 868.43,631.99C868.93,631.94 869.43,631.93 869.93,631.92C870.43,631.9 870.93,631.91 871.43,631.89C871.93,631.88 872.43,631.87 872.93,631.84C873.43,631.8 873.93,631.75 874.43,631.68C874.93,631.61 875.43,631.52 875.93,631.43C876.43,631.34 876.93,631.23 877.43,631.13C877.93,631.03 878.43,630.92 878.93,630.8C879.43,630.69 879.93,630.56 880.43,630.43C880.93,630.3 881.43,630.15 881.93,630.01C882.43,629.86 882.93,629.71 883.43,629.56C883.93,629.42 884.43,629.27 884.93,629.14C885.43,629.01 885.93,628.88 886.43,628.76C886.93,628.65 887.43,628.54 887.93,628.43C888.43,628.33 888.93,628.23 889.43,628.13C889.93,628.03 890.43,627.92 890.93,627.82C891.43,627.71 891.93,627.6 892.43,627.49C892.93,627.38 893.43,627.26 893.93,627.14C894.43,627.03 894.93,626.9 895.43,626.81C895.93,626.71 896.43,626.61 896.93,626.58C897.43,626.54 897.93,626.54 898.43,626.61C898.93,626.68 899.43,626.8 899.93,626.98C900.43,627.15 900.93,627.37 901.43,627.67C901.93,627.97 902.43,628.35 902.93,628.77C903.43,629.2 903.93,629.73 904.43,630.24C904.93,630.75 905.43,631.32 905.93,631.84C906.43,632.36 906.93,632.89 907.43,633.36C907.93,633.83 908.43,634.26 908.93,634.67C909.43,635.09 909.93,635.46 910.43,635.85C910.93,636.24 911.43,636.62 911.93,637.02C912.43,637.42 912.93,637.84 913.43,638.25C913.93,638.66 914.43,639.11 914.93,639.51C915.43,639.91 915.93,640.33 916.43,640.66C916.93,640.99 917.43,641.28 917.93,641.5C918.43,641.72 918.93,641.86 919.43,642C919.93,642.14 920.43,642.24 920.93,642.34C921.43,642.44 921.93,642.53 922.43,642.61C922.93,642.7 923.43,642.77 923.93,642.83C924.43,642.89 924.93,642.94 925.43,642.98C925.93,643.02 926.43,643.05 926.93,643.06C927.43,643.07 927.93,643.06 928.43,643.05C928.93,643.05 929.43,643.02 929.93,643.03C930.43,643.05 930.93,643.09 931.43,643.15C931.93,643.21 932.43,643.31 932.93,643.4C933.43,643.49 933.93,643.59 934.43,643.67C934.93,643.75 935.43,643.83 935.93,643.87C936.43,643.92 936.93,643.93 937.43,643.93C937.93,643.93 938.43,643.9 938.93,643.88C939.43,643.87 939.93,643.83 940.43,643.84C940.93,643.84 941.43,643.86 941.93,643.94C942.43,644.02 942.93,644.15 943.43,644.32C943.93,644.48 944.43,644.71 944.93,644.91C945.43,645.11 945.93,645.36 946.43,645.53C946.93,645.7 947.43,645.87 947.93,645.92C948.43,645.98 948.93,645.94 949.43,645.86C949.93,645.78 950.43,645.6 950.93,645.43C951.43,645.26 951.93,645.05 952.43,644.85C952.93,644.64 953.43,644.43 953.93,644.22C954.43,644 954.93,643.76 955.43,643.53C955.93,643.3 956.43,643.05 956.93,642.83C957.43,642.61 957.93,642.38 958.43,642.23C958.93,642.07 959.43,641.95 959.93,641.9C960.43,641.85 960.93,641.86 961.43,641.91C961.93,641.96 962.43,642.07 962.93,642.23C963.43,642.38 963.93,642.6 964.43,642.83C964.93,643.06 965.43,643.34 965.93,643.6C966.43,643.86 966.93,644.14 967.43,644.38C967.93,644.61 968.43,644.85 968.93,645.03C969.43,645.21 969.93,645.34 970.43,645.46C970.93,645.58 971.43,645.66 971.93,645.75C972.43,645.84 972.93,645.92 973.43,646C973.93,646.09 974.43,646.17 974.93,646.26C975.43,646.35 975.93,646.45 976.43,646.55C976.93,646.66 977.43,646.78 977.93,646.89C978.43,647.01 978.93,647.14 979.43,647.26C979.93,647.39 980.43,647.51 980.93,647.64C981.43,647.76 981.93,647.89 982.43,648.02C982.93,648.15 983.43,648.29 983.93,648.43C984.43,648.57 984.93,648.71 985.43,648.86C985.93,649 986.43,649.16 986.93,649.3C987.43,649.44 987.93,649.59 988.43,649.72C988.93,649.84 989.43,649.96 989.93,650.06C990.43,650.15 990.93,650.22 991.43,650.27C991.93,650.31 992.43,650.34 992.93,650.33C993.43,650.33 993.93,650.29 994.43,650.25C994.93,650.2 995.43,650.12 995.93,650.04C996.43,649.97 996.93,649.88 997.43,649.8C997.93,649.72 998.43,649.63 998.93,649.55C999.43,649.47 999.93,649.39 1000.43,649.32C1000.93,649.24 1001.43,649.17 1001.93,649.1C1002.43,649.03 1002.93,648.96 1003.43,648.9C1003.93,648.83 1004.43,648.77 1004.93,648.69C1005.43,648.62 1005.93,648.56 1006.43,648.44C1006.93,648.33 1007.43,648.2 1007.93,648.01C1008.43,647.82 1008.93,647.56 1009.43,647.29C1009.93,647.01 1010.43,646.7 1010.93,646.37C1011.43,646.03 1011.93,645.68 1012.43,645.29C1012.93,644.9 1013.43,644.46 1013.93,644.01C1014.43,643.55 1014.93,643.06 1015.43,642.57C1015.93,642.08 1016.43,641.57 1016.93,641.08C1017.43,640.58 1017.93,640.07 1018.43,639.59C1018.93,639.11 1019.43,638.61 1019.93,638.21C1020.43,637.8 1020.93,637.43 1021.43,637.16C1021.93,636.89 1022.43,636.74 1022.93,636.6C1023.43,636.46 1023.93,636.4 1024.43,636.32C1024.93,636.24 1025.43,636.18 1025.93,636.12C1026.43,636.05 1026.93,636 1027.43,635.95C1027.93,635.9 1028.43,635.86 1028.93,635.82C1029.43,635.79 1029.93,635.76 1030.43,635.73C1030.93,635.69 1031.43,635.67 1031.93,635.63C1032.43,635.59 1032.93,635.55 1033.43,635.5C1033.93,635.46 1034.43,635.4 1034.93,635.34C1035.43,635.28 1035.93,635.21 1036.43,635.15C1036.93,635.09 1037.43,635.03 1037.93,634.97C1038.43,634.91 1038.93,634.86 1039.43,634.8C1039.93,634.75 1040.43,634.7 1040.93,634.65C1041.43,634.61 1041.93,634.55 1042.43,634.52C1042.93,634.5 1043.43,634.47 1043.93,634.49C1044.43,634.51 1044.93,634.57 1045.43,634.67C1045.93,634.77 1046.43,634.93 1046.93,635.08C1047.43,635.24 1047.93,635.43 1048.43,635.6C1048.93,635.78 1049.43,635.96 1049.93,636.15C1050.43,636.34 1050.93,636.52 1051.43,636.72C1051.93,636.93 1052.43,637.14 1052.93,637.39C1053.43,637.63 1053.93,637.91 1054.43,638.19C1054.93,638.47 1055.43,638.77 1055.93,639.07C1056.43,639.37 1056.93,639.67 1057.43,639.98C1057.93,640.28 1058.43,640.58 1058.93,640.91C1059.43,641.24 1059.93,641.57 1060.43,641.93C1060.93,642.28 1061.43,642.67 1061.93,643.05C1062.43,643.44 1062.93,643.84 1063.43,644.24C1063.93,644.63 1064.43,645.04 1064.93,645.42C1065.43,645.8 1065.93,646.18 1066.43,646.51C1066.93,646.83 1067.43,647.13 1067.93,647.37C1068.43,647.62 1068.93,647.8 1069.43,647.98C1069.93,648.16 1070.43,648.31 1070.93,648.46C1071.43,648.61 1071.93,648.76 1072.43,648.9C1072.93,649.03 1073.43,649.17 1073.93,649.26C1074.43,649.36 1074.93,649.44 1075.43,649.49C1075.93,649.54 1076.43,649.55 1076.93,649.57C1077.43,649.58 1077.93,649.58 1078.43,649.58C1078.93,649.58 1079.43,649.58 1079.93,649.58C1080.43,649.58 1080.93,649.57 1081.43,649.56C1081.93,649.55 1082.43,649.54 1082.93,649.52C1083.43,649.5 1083.93,649.49 1084.43,649.45C1084.93,649.42 1085.43,649.41 1085.93,649.32C1086.43,649.23 1086.93,649.14 1087.43,648.92C1087.93,648.71 1088.43,648.41 1088.93,648.05C1089.43,647.69 1089.93,647.24 1090.43,646.76C1090.93,646.28 1091.43,645.75 1091.93,645.16C1092.43,644.57 1092.93,643.9 1093.43,643.22C1093.93,642.54 1094.43,641.79 1094.93,641.05C1095.43,640.32 1095.93,639.56 1096.43,638.81C1096.93,638.07 1097.43,637.31 1097.93,636.56C1098.43,635.81 1098.93,635.06 1099.43,634.31C1099.93,633.57 1100.43,632.81 1100.93,632.07C1101.43,631.34 1101.93,630.58 1102.43,629.89C1102.93,629.2 1103.43,628.53 1103.93,627.95C1104.43,627.36 1104.93,626.86 1105.43,626.37C1105.93,625.88 1106.43,625.45 1106.93,625.01C1107.43,624.57 1107.93,624.14 1108.43,623.74C1108.93,623.34 1109.43,622.95 1109.93,622.59C1110.43,622.24 1110.93,621.92 1111.43,621.62C1111.93,621.31 1112.43,621.02 1112.93,620.74C1113.43,620.45 1113.93,620.17 1114.43,619.92C1114.93,619.66 1115.43,619.41 1115.93,619.19C1116.43,618.97 1116.93,618.78 1117.43,618.59C1117.93,618.41 1118.43,618.23 1118.93,618.08C1119.43,617.93 1119.93,617.77 1120.43,617.69C1120.93,617.61 1121.43,617.56 1121.93,617.58C1122.43,617.59 1122.93,617.68 1123.43,617.77C1123.93,617.86 1124.43,617.99 1124.93,618.12C1125.43,618.24 1125.93,618.37 1126.43,618.51C1126.93,618.66 1127.43,618.81 1127.93,618.97C1128.43,619.12 1128.93,619.29 1129.43,619.46C1129.93,619.64 1130.43,619.81 1130.93,620C1131.43,620.19 1131.93,620.38 1132.43,620.59C1132.93,620.81 1133.43,621.05 1133.93,621.3C1134.43,621.56 1134.93,621.83 1135.43,622.12C1135.93,622.4 1136.43,622.68 1136.93,623.02C1137.43,623.36 1137.93,623.71 1138.43,624.15C1138.93,624.6 1139.43,625.12 1139.93,625.69C1140.43,626.27 1140.93,626.91 1141.43,627.61C1141.93,628.32 1142.43,629.06 1142.93,629.91C1143.43,630.76 1143.93,631.71 1144.43,632.69C1144.93,633.67 1145.43,634.75 1145.93,635.79C1146.43,636.84 1146.93,637.91 1147.43,638.95C1147.93,639.98 1148.43,641 1148.93,642C1149.43,643 1149.93,644 1150.43,644.95C1150.93,645.91 1151.48,646.84 1151.93,647.74C1152.38,648.63 1152.93,649.88 1153.12,650.31" fill="none" stroke="#fdd835" stroke-width="1.2" stroke-linejoin="round"/>
</g>
<rect x="9.95" y="27.1" width="1309" height="735.7" fill="none" stroke="#eff0f3" stroke-width="1.7"/>
<rect x="10" y="557" width="1309" height="1" fill="#e4e6ec"/>
<rect x="10" y="735" width="1309" height="1" fill="#e4e6ec"/>
<rect x="1251" y="27.5" width="1" height="735" fill="#e4e6ec"/>
<text x="1260.2" y="553.39" font-size="11.7" fill="#131722" textLength="35.4" lengthAdjust="spacingAndGlyphs">160.00</text>
<text x="1260.2" y="522.41" font-size="11.7" fill="#131722" textLength="35.4" lengthAdjust="spacingAndGlyphs">200.00</text>
<text x="1260.2" y="491.43" font-size="11.7" fill="#131722" textLength="35.4" lengthAdjust="spacingAndGlyphs">240.00</text>
<text x="1260.2" y="460.45" font-size="11.7" fill="#131722" textLength="35.4" lengthAdjust="spacingAndGlyphs">280.00</text>
<text x="1260.2" y="429.47" font-size="11.7" fill="#131722" textLength="35.4" lengthAdjust="spacingAndGlyphs">320.00</text>
<text x="1260.2" y="398.49" font-size="11.7" fill="#131722" textLength="35.4" lengthAdjust="spacingAndGlyphs">360.00</text>
<text x="1260.2" y="367.51" font-size="11.7" fill="#131722" textLength="35.4" lengthAdjust="spacingAndGlyphs">400.00</text>
<text x="1260.2" y="336.53" font-size="11.7" fill="#131722" textLength="35.4" lengthAdjust="spacingAndGlyphs">440.00</text>
<text x="1260.2" y="305.55" font-size="11.7" fill="#131722" textLength="35.4" lengthAdjust="spacingAndGlyphs">480.00</text>
<text x="1260.2" y="274.57" font-size="11.7" fill="#131722" textLength="35.4" lengthAdjust="spacingAndGlyphs">520.00</text>
<text x="1260.2" y="243.59" font-size="11.7" fill="#131722" textLength="35.4" lengthAdjust="spacingAndGlyphs">560.00</text>
<text x="1260.2" y="212.61" font-size="11.7" fill="#131722" textLength="35.4" lengthAdjust="spacingAndGlyphs">600.00</text>
<text x="1260.2" y="181.63" font-size="11.7" fill="#131722" textLength="35.4" lengthAdjust="spacingAndGlyphs">640.00</text>
<text x="1260.2" y="150.65" font-size="11.7" fill="#131722" textLength="35.4" lengthAdjust="spacingAndGlyphs">680.00</text>
<text x="1260.2" y="119.67" font-size="11.7" fill="#131722" textLength="35.4" lengthAdjust="spacingAndGlyphs">720.00</text>
<text x="1260.2" y="88.69" font-size="11.7" fill="#131722" textLength="35.4" lengthAdjust="spacingAndGlyphs">760.00</text>
<text x="1260.2" y="730.8" font-size="11.7" fill="#131722" textLength="28.8" lengthAdjust="spacingAndGlyphs">20.00</text>
<text x="1260.2" y="684.5" font-size="11.7" fill="#131722" textLength="28.8" lengthAdjust="spacingAndGlyphs">40.00</text>
<text x="1260.2" y="638.9" font-size="11.7" fill="#131722" textLength="28.8" lengthAdjust="spacingAndGlyphs">60.00</text>
<text x="1260.2" y="593.1" font-size="11.7" fill="#131722" textLength="28.8" lengthAdjust="spacingAndGlyphs">80.00</text>
<rect x="1255.5" y="31" width="59.5" height="25.5" rx="4" fill="#fff" stroke="#e7e9ee" stroke-width="1"/>
<text x="1264" y="48.6" font-size="11.6" fill="#131722" textLength="27.8" lengthAdjust="spacingAndGlyphs">USDT</text>
<path d="M1222.5,268.4 H1251 V285.1 H1222.5 a2.5,2.5 0 0 1 -2.5,-2.5 V270.9 a2.5,2.5 0 0 1 2.5,-2.5 Z" fill="#2962ff"/>
<path d="M1252,268.4 H1298.3 a2.5,2.5 0 0 1 2.5,2.5 V282.6 a2.5,2.5 0 0 1 -2.5,2.5 H1252 Z" fill="#2962ff"/>
<rect x="1251" y="268.4" width="1" height="16.7" fill="#2962ff" opacity="0.75"/>
<text x="1225" y="280.95" font-size="11.6" fill="#fff" stroke="#fff" stroke-width="0.35" textLength="21.6" lengthAdjust="spacingAndGlyphs">EMA</text>
<text x="1260.2" y="280.95" font-size="11.7" fill="#fff" stroke="#fff" stroke-width="0.35" textLength="35.3" lengthAdjust="spacingAndGlyphs">512.72</text>
<path d="M1194.5,292.2 H1251 V308.9 H1194.5 a2.5,2.5 0 0 1 -2.5,-2.5 V294.7 a2.5,2.5 0 0 1 2.5,-2.5 Z" fill="#26a69a"/>
<path d="M1252,292.2 H1312.5 a2.5,2.5 0 0 1 2.5,2.5 V334.4 a2.5,2.5 0 0 1 -2.5,2.5 H1252 Z" fill="#26a69a"/>
<rect x="1251" y="292.2" width="1" height="16.7" fill="#26a69a" opacity="0.75"/>
<text x="1196.8" y="304.75" font-size="11.6" fill="#fff" stroke="#fff" stroke-width="0.35" textLength="49.8" lengthAdjust="spacingAndGlyphs">XMRUSDT</text>
<text x="1260.2" y="304.75" font-size="11.7" fill="#fff" stroke="#fff" stroke-width="0.35" textLength="35.3" lengthAdjust="spacingAndGlyphs">481.52</text>
<text x="1260.2" y="319" font-size="11.7" fill="#fff" stroke="#fff" stroke-width="0.35" textLength="49.2" lengthAdjust="spacingAndGlyphs">+125.78%</text>
<text x="1260.2" y="333.2" font-size="11.7" fill="#fff" opacity="0.72" stroke="#fff" stroke-width="0.35" textLength="45.3" lengthAdjust="spacingAndGlyphs">09:26:41</text>
<path d="M1203.8,337.3 H1251 V353.9 H1203.8 a2.5,2.5 0 0 1 -2.5,-2.5 V339.8 a2.5,2.5 0 0 1 2.5,-2.5 Z" fill="#f23645"/>
<path d="M1252,337.3 H1298.3 a2.5,2.5 0 0 1 2.5,2.5 V351.4 a2.5,2.5 0 0 1 -2.5,2.5 H1252 Z" fill="#f23645"/>
<rect x="1251" y="337.3" width="1" height="16.6" fill="#f23645" opacity="0.75"/>
<text x="1205.8" y="349.8" font-size="11.6" fill="#fff" stroke="#fff" stroke-width="0.35" textLength="40.8" lengthAdjust="spacingAndGlyphs">SMA:MA</text>
<text x="1260.2" y="349.8" font-size="11.7" fill="#fff" stroke="#fff" stroke-width="0.35" textLength="35.3" lengthAdjust="spacingAndGlyphs">480.55</text>
<path d="M1174.6,642.4 H1251 V658.7 H1174.6 a2.5,2.5 0 0 1 -2.5,-2.5 V644.9 a2.5,2.5 0 0 1 2.5,-2.5 Z" fill="#fdd835"/>
<path d="M1252,642.4 H1292.3 a2.5,2.5 0 0 1 2.5,2.5 V656.2 a2.5,2.5 0 0 1 -2.5,2.5 H1252 Z" fill="#fdd835"/>
<rect x="1251" y="642.4" width="1" height="16.3" fill="#fdd835" opacity="0.75"/>
<text x="1176.2" y="654.75" font-size="11.6" fill="#131722" stroke="#131722" stroke-width="0.15" textLength="70.4" lengthAdjust="spacingAndGlyphs">RSI-based MA</text>
<text x="1260.2" y="654.75" font-size="11.7" fill="#131722" stroke="#131722" stroke-width="0.15" textLength="28.8" lengthAdjust="spacingAndGlyphs">52.93</text>
<path d="M1228.5,659.3 H1251 V675.8 H1228.5 a2.5,2.5 0 0 1 -2.5,-2.5 V661.8 a2.5,2.5 0 0 1 2.5,-2.5 Z" fill="#7e57c2"/>
<path d="M1252,659.3 H1292.3 a2.5,2.5 0 0 1 2.5,2.5 V673.3 a2.5,2.5 0 0 1 -2.5,2.5 H1252 Z" fill="#7e57c2"/>
<rect x="1251" y="659.3" width="1" height="16.5" fill="#7e57c2" opacity="0.75"/>
<text x="1231" y="671.75" font-size="11.6" fill="#fff" stroke="#fff" stroke-width="0.35" textLength="15.6" lengthAdjust="spacingAndGlyphs">RSI</text>
<text x="1260.2" y="671.75" font-size="11.7" fill="#fff" stroke="#fff" stroke-width="0.35" textLength="28.8" lengthAdjust="spacingAndGlyphs">45.92</text>
<text x="67.7" y="752.9" text-anchor="middle" font-size="11.8" fill="#131722">Apr</text>
<text x="174.7" y="752.9" text-anchor="middle" font-size="11.8" fill="#131722">May</text>
<text x="286.7" y="752.9" text-anchor="middle" font-size="11.8" fill="#131722">Jun</text>
<text x="394.7" y="752.9" text-anchor="middle" font-size="11.8" fill="#131722">Jul</text>
<text x="505.7" y="752.9" text-anchor="middle" font-size="11.8" fill="#131722">Aug</text>
<text x="617.7" y="752.9" text-anchor="middle" font-size="11.8" fill="#131722">Sep</text>
<text x="725.7" y="752.9" text-anchor="middle" font-size="11.8" fill="#131722">Oct</text>
<text x="836.7" y="752.9" text-anchor="middle" font-size="11.8" fill="#131722">Nov</text>
<text x="944.7" y="752.9" text-anchor="middle" font-size="11.8" fill="#131722">Dec</text>
<text x="1056" y="752.9" text-anchor="middle" font-size="12" font-weight="bold" fill="#131722">2026</text>
<text x="1167.7" y="752.9" text-anchor="middle" font-size="11.8" fill="#131722">Feb</text>
<text x="10" y="18.8" font-size="12.4" fill="#131722" textLength="361" lengthAdjust="spacingAndGlyphs">ranadagger created with TradingView.com, Jan 28, 2026 14:33 UTC</text>
<text x="18" y="45.4" font-size="12" fill="#131722" textLength="160" lengthAdjust="spacingAndGlyphs">Monero / Tether · 1D · KuCoin</text>
<text x="186" y="45.4" font-size="12" fill="#131722" textLength="7.3" lengthAdjust="spacingAndGlyphs">O</text>
<text x="195" y="45.4" font-size="12" fill="#26a69a" textLength="34" lengthAdjust="spacingAndGlyphs">470.21</text>
<text x="237" y="45.4" font-size="12" fill="#131722" textLength="7" lengthAdjust="spacingAndGlyphs">H</text>
<text x="245" y="45.4" font-size="12" fill="#26a69a" textLength="36" lengthAdjust="spacingAndGlyphs">486.58</text>
<text x="288" y="45.4" font-size="12" fill="#131722" textLength="5" lengthAdjust="spacingAndGlyphs">L</text>
<text x="294" y="45.4" font-size="12" fill="#26a69a" textLength="36" lengthAdjust="spacingAndGlyphs">463.67</text>
<text x="337.5" y="45.4" font-size="12" fill="#131722" textLength="6.5" lengthAdjust="spacingAndGlyphs">C</text>
<text x="344.5" y="45.4" font-size="12" fill="#26a69a" textLength="35.5" lengthAdjust="spacingAndGlyphs">481.52</text>
<text x="387.5" y="45.4" font-size="12" fill="#26a69a" textLength="84.5" lengthAdjust="spacingAndGlyphs">+11.46 (+2.44%)</text>
<text x="18" y="62.5" font-size="12" fill="#131722" textLength="81.5" lengthAdjust="spacingAndGlyphs">EMA (20, close)</text>
<text x="107.6" y="62.5" font-size="12" fill="#2962ff" textLength="35.4" lengthAdjust="spacingAndGlyphs">512.72</text>
<text x="18" y="79.3" font-size="12" fill="#131722" textLength="81" lengthAdjust="spacingAndGlyphs">SMA (50, close)</text>
<text x="107" y="79.3" font-size="12" fill="#f23645" textLength="35.5" lengthAdjust="spacingAndGlyphs">480.55</text>
<text x="18" y="576.3" font-size="12" fill="#131722" textLength="75.5" lengthAdjust="spacingAndGlyphs">RSI (14, close)</text>
<text x="101.5" y="576.3" font-size="12" fill="#7e57c2" textLength="29.5" lengthAdjust="spacingAndGlyphs">45.92</text>
<text x="138.5" y="576.3" font-size="12" fill="#fdd835" textLength="29.2" lengthAdjust="spacingAndGlyphs">52.93</text>
<g transform="translate(12,781.7) scale(0.83)" fill="#131722"><path d="M14 22H7V11H0V4h14v18zM28 22h-8l7.5-18h8L28 22z"/><circle cx="20" cy="8" r="4"/></g>
<text x="48.7" y="799.7" font-size="19.8" font-weight="bold" fill="#131722" textLength="121" lengthAdjust="spacingAndGlyphs">TradingView</text>
</svg>
</body></html>
